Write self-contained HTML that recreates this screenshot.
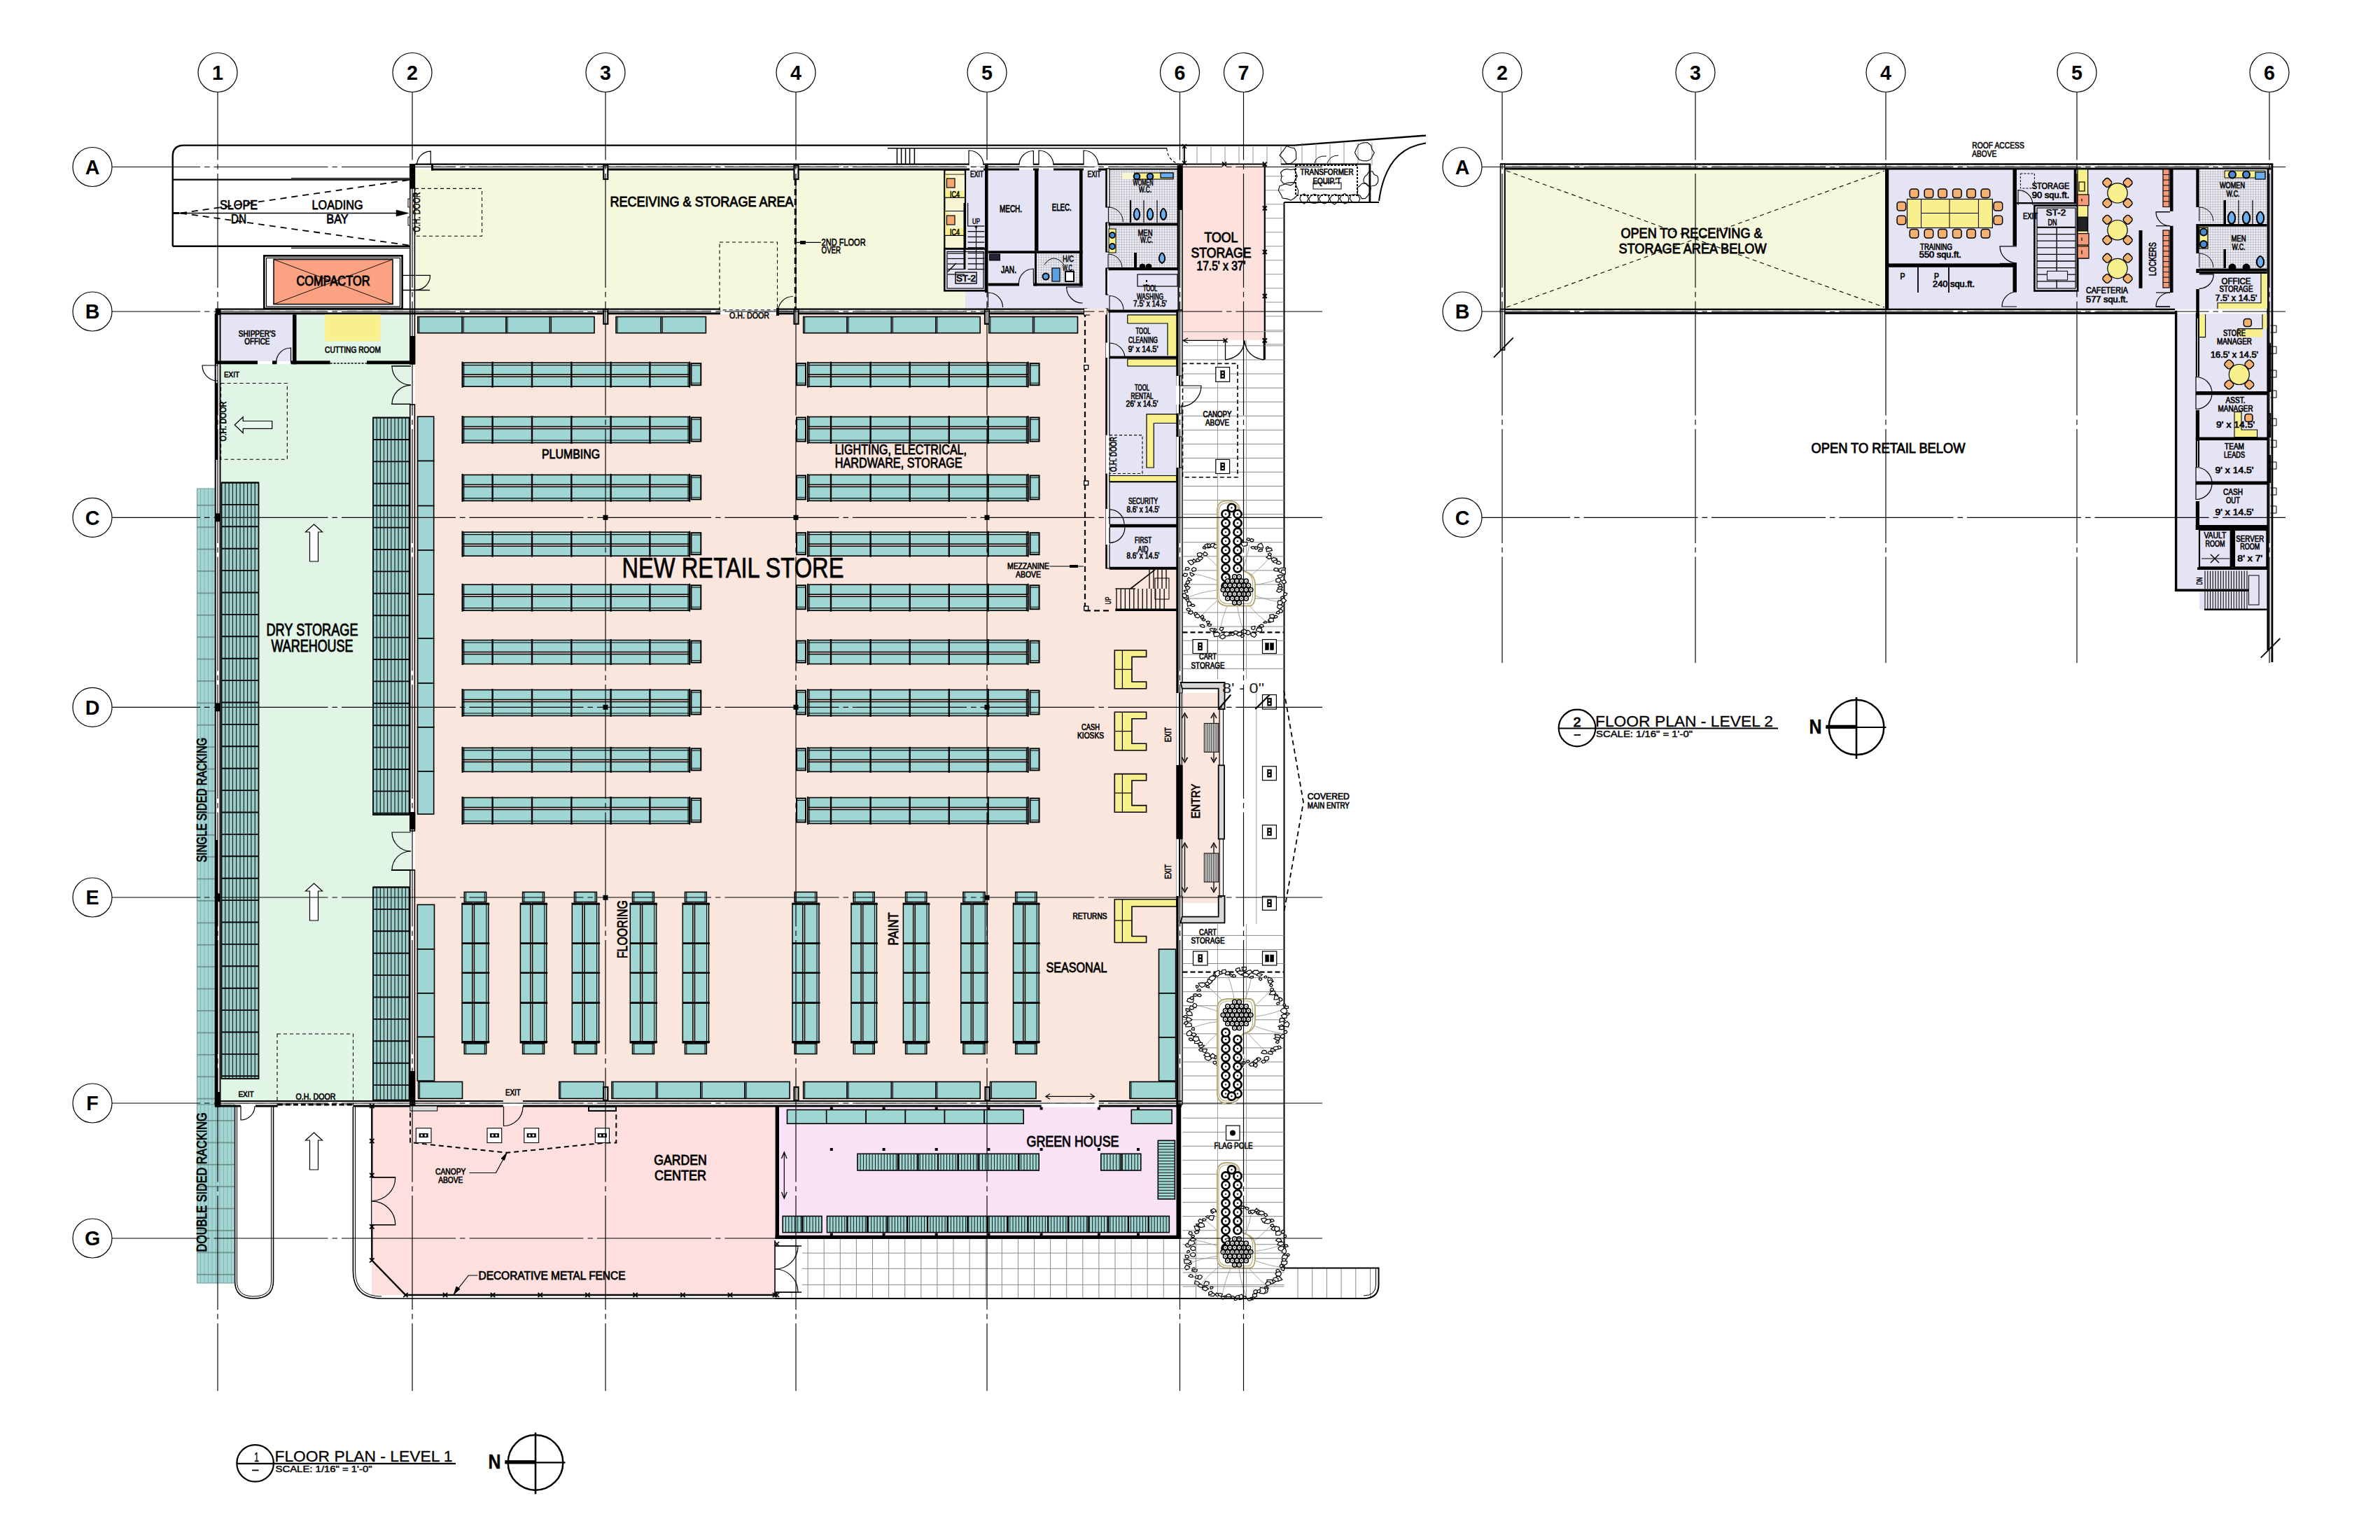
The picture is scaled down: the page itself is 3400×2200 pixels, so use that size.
<!DOCTYPE html>
<html><head><meta charset="utf-8"><style>
html,body{margin:0;padding:0;background:#fff;width:3400px;height:2200px;overflow:hidden}
svg{display:block}
text{font-family:"Liberation Sans",sans-serif}
</style></head><body>
<svg width="3400" height="2200" viewBox="0 0 3400 2200">
<rect width="3400" height="2200" fill="#fff"/>
<rect x="593" y="242" width="815" height="199" fill="#f6f8de" stroke="none" stroke-width="0" />
<rect x="593" y="449" width="1090" height="1125" fill="#fbe6dd" stroke="none" stroke-width="0" />
<rect x="314" y="520" width="273" height="1054" fill="#e0f5e6" stroke="none" stroke-width="0" />
<rect x="423" y="449" width="164" height="71" fill="#e0f5e6" stroke="none" stroke-width="0" />
<rect x="315" y="449" width="104" height="67" fill="#e4e4f4" stroke="none" stroke-width="0" />
<rect x="1349" y="242" width="30" height="113" fill="#f8f6d2" stroke="none" stroke-width="0" />
<rect x="1379" y="242" width="304" height="201" fill="#e4e4f4" stroke="none" stroke-width="0" />
<rect x="1349" y="357" width="59" height="58" fill="#e4e4f4" stroke="none" stroke-width="0" />
<rect x="1585" y="443" width="98" height="369" fill="#e4e4f4" stroke="none" stroke-width="0" />
<rect x="1690" y="237" width="116" height="249" fill="#fde1dc" stroke="none" stroke-width="0" />
<rect x="531" y="1580" width="577" height="270" fill="#fde0de" stroke="none" stroke-width="0" />
<rect x="1112" y="1582" width="572" height="184" fill="#f9e1f6" stroke="none" stroke-width="0" />
<rect x="1689" y="990" width="56" height="300" fill="#fbe6dd" stroke="none" stroke-width="0" />
<path d="M246.7,351.7 L246.7,223.5 Q246.7,207.6 262.5,207.6 L1849,207.6 L2037,193.6" fill="none" stroke="#000" stroke-width="2.4" />
<path d="M2037,204.5 Q1985,212 1970,287 L1834.5,289 L1834.5,1812 L1969,1812 L1969,1840 Q1969,1856 1953,1856 L552,1856" fill="none" stroke="#000" stroke-width="0" />
<line x1="1268" y1="211.8" x2="1667" y2="211.8" stroke="#000" stroke-width="1.6"/>
<line x1="1281.5" y1="211.8" x2="1281.5" y2="234" stroke="#000" stroke-width="1.5"/>
<line x1="1287.6" y1="211.8" x2="1287.6" y2="234" stroke="#000" stroke-width="1.5"/>
<line x1="1293.6" y1="211.8" x2="1293.6" y2="234" stroke="#000" stroke-width="1.5"/>
<line x1="1299.6" y1="211.8" x2="1299.6" y2="234" stroke="#000" stroke-width="1.5"/>
<line x1="1306.4" y1="211.8" x2="1306.4" y2="234" stroke="#000" stroke-width="1.5"/>
<line x1="246.7" y1="256.6" x2="585" y2="256.6" stroke="#000" stroke-width="2.4"/>
<line x1="246.7" y1="351.7" x2="585" y2="351.7" stroke="#000" stroke-width="2.6"/>
<line x1="416" y1="254.5" x2="585" y2="254.5" stroke="#000" stroke-width="1.2"/>
<line x1="416" y1="354.3" x2="585" y2="354.3" stroke="#000" stroke-width="1.2"/>
<line x1="246.7" y1="304.5" x2="566" y2="304.5" stroke="#000" stroke-width="1.3"/>
<path d="M566,300 L584,304.5 L566,309 Z" fill="#000" stroke="#000" stroke-width="0.5" />
<rect x="246.7" y="303" width="9.3" height="3" fill="#000"/>
<line x1="258" y1="304.5" x2="585" y2="257" stroke="#000" stroke-width="1.8" stroke-dasharray="9 7"/>
<line x1="258" y1="304.5" x2="585" y2="350.5" stroke="#000" stroke-width="1.8" stroke-dasharray="9 7"/>
<text x="341" y="298.8" font-size="18.4" text-anchor="middle" font-weight="normal" fill="#000" stroke="#000" stroke-width="0.75" textLength="54" lengthAdjust="spacingAndGlyphs">SLOPE</text>
<text x="341" y="319" font-size="18.4" text-anchor="middle" font-weight="normal" fill="#000" stroke="#000" stroke-width="0.75" textLength="22" lengthAdjust="spacingAndGlyphs">DN</text>
<text x="482" y="298.8" font-size="18.4" text-anchor="middle" font-weight="normal" fill="#000" stroke="#000" stroke-width="0.75" textLength="73" lengthAdjust="spacingAndGlyphs">LOADING</text>
<text x="482" y="319" font-size="18.4" text-anchor="middle" font-weight="normal" fill="#000" stroke="#000" stroke-width="0.75" textLength="31.5" lengthAdjust="spacingAndGlyphs">BAY</text>
<rect x="583" y="284" width="4" height="12" fill="#fff" stroke="#000" stroke-width="1" />
<rect x="583" y="310" width="4" height="12" fill="#fff" stroke="#000" stroke-width="1" />
<rect x="377.3" y="365.4" width="197.3" height="75.4" fill="#fff" stroke="#000" stroke-width="2.6" />
<rect x="380.5" y="368.5" width="191" height="69.5" fill="none" stroke="#000" stroke-width="1.2" />
<rect x="391" y="370.6" width="170" height="64" fill="#fba282" stroke="#000" stroke-width="1.5" />
<line x1="391" y1="370.6" x2="561" y2="434.6" stroke="#000" stroke-width="0.9"/>
<line x1="391" y1="434.6" x2="561" y2="370.6" stroke="#000" stroke-width="0.9"/>
<text x="476" y="407.5" font-size="19.6" text-anchor="middle" font-weight="normal" fill="#000" stroke="#000" stroke-width="1.05" textLength="105" lengthAdjust="spacingAndGlyphs">COMPACTOR</text>
<rect x="585" y="234" width="8.2" height="35" fill="#000"/>
<rect x="585.8" y="269" width="6.6" height="251" fill="#fff" stroke="#000" stroke-width="1.6" />
<rect x="585.8" y="578" width="6.6" height="609" fill="#fff" stroke="#000" stroke-width="1.6" />
<rect x="585.8" y="1243" width="6.6" height="335" fill="#fff" stroke="#000" stroke-width="1.6" />
<rect x="585" y="480" width="8.2" height="40" fill="#000"/>
<rect x="585" y="1160" width="8.2" height="25" fill="#000"/>
<rect x="585" y="1530" width="8.2" height="50" fill="#000"/>
<line x1="593" y1="234.7" x2="1349" y2="234.7" stroke="#000" stroke-width="2.2"/>
<rect x="616" y="240.5" width="769" height="3" fill="#000"/>
<line x1="616" y1="237.8" x2="1680" y2="237.8" stroke="#999" stroke-width="0.8" stroke-dasharray="14 8"/>
<rect x="616" y="234" width="3" height="9.5" fill="#000"/>
<rect x="1405" y="240.5" width="51" height="3" fill="#000"/>
<rect x="1476" y="240.5" width="8" height="3" fill="#000"/>
<rect x="1505" y="240.5" width="43" height="3" fill="#000"/>
<rect x="1569" y="240.5" width="119" height="3" fill="#000"/>
<line x1="1349" y1="234.7" x2="1384" y2="234.7" stroke="#000" stroke-width="2.2"/>
<line x1="1405" y1="234.7" x2="1456" y2="234.7" stroke="#000" stroke-width="2.2"/>
<line x1="1476" y1="234.7" x2="1484" y2="234.7" stroke="#000" stroke-width="2.2"/>
<line x1="1505" y1="234.7" x2="1548" y2="234.7" stroke="#000" stroke-width="2.2"/>
<line x1="1569" y1="234.7" x2="1690" y2="234.7" stroke="#000" stroke-width="2.2"/>
<rect x="862.3" y="236" width="6" height="20" fill="#fff" stroke="#000" stroke-width="2.2" />
<rect x="1134.5" y="236" width="6" height="20" fill="#fff" stroke="#000" stroke-width="2.2" />
<line x1="307.7" y1="441.6" x2="1029" y2="441.6" stroke="#000" stroke-width="2.4"/>
<line x1="1111" y1="441.6" x2="1553" y2="441.6" stroke="#000" stroke-width="2.4"/>
<rect x="307.7" y="446.4" width="721.3" height="2.9" fill="#000"/>
<rect x="1111" y="446.4" width="442" height="2.9" fill="#000"/>
<rect x="1549" y="442" width="7" height="7.5" fill="#fff" stroke="#000" stroke-width="2.2" />
<line x1="320" y1="444" x2="1549" y2="444" stroke="#999" stroke-width="0.8" stroke-dasharray="14 8"/>
<rect x="307.7" y="441" width="7.9" height="8.3" fill="#000"/>
<rect x="862.3" y="442" width="6" height="20.7" fill="#fff" stroke="#000" stroke-width="2.2" />
<rect x="1134.5" y="442" width="6" height="20.7" fill="#fff" stroke="#000" stroke-width="2.2" />
<rect x="1407" y="442" width="6" height="20.7" fill="#fff" stroke="#000" stroke-width="2.2" />
<text x="1070.5" y="454.5" font-size="12.6" text-anchor="middle" font-weight="normal" fill="#000" stroke="#000" stroke-width="0.60" textLength="57" lengthAdjust="spacingAndGlyphs">O.H. DOOR</text>
<rect x="1109" y="440" width="4" height="11" fill="#000"/>
<path d="M1132.7,444.5 L1111.7,444.5 A21,21 0 0 1 1132.7,423.5" fill="none" stroke="#000" stroke-width="1.2" />
<path d="M615.3,235.9 L615.3,216.1 A19.8,19.8 0 0 0 595.5,235.9" fill="none" stroke="#000" stroke-width="1.2" />
<path d="M593.5,393.4 L614.5,393.4 A21,21 0 0 1 593.5,414.4" fill="none" stroke="#000" stroke-width="1.2" />
<line x1="574.6" y1="393.4" x2="593" y2="393.4" stroke="#000" stroke-width="1.3"/>
<line x1="574.6" y1="414.5" x2="614" y2="414.5" stroke="#000" stroke-width="1.5"/>
<text transform="translate(600.3,303) rotate(-90)" x="0" y="0" font-size="14.8" text-anchor="middle" font-weight="normal" fill="#000" stroke="#000" stroke-width="0.60" textLength="57" lengthAdjust="spacingAndGlyphs">O.H. DOOR</text>
<rect x="593" y="269.4" width="95.5" height="67.9" fill="none" stroke="#000" stroke-width="1.1" stroke-dasharray="5 4"/>
<text x="1002.5" y="294.5" font-size="20.3" text-anchor="middle" font-weight="normal" fill="#000" stroke="#000" stroke-width="0.90" textLength="262" lengthAdjust="spacingAndGlyphs">RECEIVING &amp; STORAGE AREA</text>
<line x1="1136.4" y1="256" x2="1136.4" y2="441" stroke="#000" stroke-width="3.2" stroke-dasharray="9 5"/>
<line x1="1138" y1="346.4" x2="1172.7" y2="346.4" stroke="#000" stroke-width="1.2"/>
<rect x="1143" y="344" width="8" height="5" fill="#000"/>
<text x="1173.6" y="351" font-size="14.0" text-anchor="start" font-weight="normal" fill="#000" stroke="#000" stroke-width="0.60" textLength="63" lengthAdjust="spacingAndGlyphs">2ND  FLOOR</text>
<text x="1173.6" y="362.4" font-size="14.0" text-anchor="start" font-weight="normal" fill="#000" stroke="#000" stroke-width="0.60" textLength="27.5" lengthAdjust="spacingAndGlyphs">OVER</text>
<rect x="1028" y="346" width="82.5" height="96.7" fill="none" stroke="#000" stroke-width="1.1" stroke-dasharray="5 4"/>
<rect x="1349.3" y="242.6" width="29.7" height="112.4" fill="none" stroke="#000" stroke-width="2.2" />
<rect x="1350.5" y="248.7" width="27.5" height="33.3" fill="#f7f08c" stroke="none" stroke-width="0" />
<rect x="1355" y="248.7" width="23" height="24.3" fill="#f8f6d2" stroke="none" stroke-width="0" />
<rect x="1350.5" y="301" width="27.5" height="35.4" fill="#f7f08c" stroke="none" stroke-width="0" />
<rect x="1355" y="301" width="23" height="25" fill="#f8f6d2" stroke="none" stroke-width="0" />
<rect x="1350.5" y="248.7" width="27.5" height="0.8" fill="#000"/>
<rect x="1350.5" y="301" width="27.5" height="1" fill="#000"/>
<rect x="1352.5" y="255" width="11.5" height="13" fill="#f4a870" stroke="#000" stroke-width="1.2" />
<rect x="1352.5" y="308" width="11.5" height="13" fill="#f4a870" stroke="#000" stroke-width="1.2" />
<text x="1364" y="282" font-size="12.6" text-anchor="middle" font-weight="normal" fill="#000" stroke="#000" stroke-width="0.60" textLength="14" lengthAdjust="spacingAndGlyphs">IC4</text>
<text x="1364" y="335.5" font-size="12.6" text-anchor="middle" font-weight="normal" fill="#000" stroke="#000" stroke-width="0.60" textLength="14" lengthAdjust="spacingAndGlyphs">IC4</text>
<line x1="1350" y1="282.3" x2="1378" y2="282.3" stroke="#000" stroke-width="1.2"/>
<line x1="1350" y1="336.4" x2="1378" y2="336.4" stroke="#000" stroke-width="1.2"/>
<rect x="1349.3" y="355.5" width="58.7" height="59.8" fill="#e4e4f4" stroke="#000" stroke-width="2.6" />
<rect x="1353" y="359.5" width="52" height="52.5" fill="none" stroke="#000" stroke-width="1.2" />
<line x1="1382.6" y1="323" x2="1406.3" y2="323" stroke="#000" stroke-width="1.3"/>
<line x1="1382.6" y1="330.7" x2="1406.3" y2="330.7" stroke="#000" stroke-width="1.3"/>
<line x1="1382.6" y1="338.4" x2="1406.3" y2="338.4" stroke="#000" stroke-width="1.3"/>
<line x1="1382.6" y1="346.1" x2="1406.3" y2="346.1" stroke="#000" stroke-width="1.3"/>
<line x1="1382.6" y1="353.8" x2="1406.3" y2="353.8" stroke="#000" stroke-width="1.3"/>
<line x1="1382.6" y1="361.5" x2="1406.3" y2="361.5" stroke="#000" stroke-width="1.3"/>
<line x1="1382.6" y1="369.2" x2="1406.3" y2="369.2" stroke="#000" stroke-width="1.3"/>
<line x1="1382.6" y1="376.9" x2="1406.3" y2="376.9" stroke="#000" stroke-width="1.3"/>
<line x1="1382.6" y1="384.6" x2="1406.3" y2="384.6" stroke="#000" stroke-width="1.3"/>
<line x1="1394.5" y1="324" x2="1394.5" y2="385" stroke="#000" stroke-width="1.2"/>
<circle cx="1394.5" cy="324" r="1.6" fill="#000" stroke="#000" stroke-width="0.5"/>
<line x1="1354" y1="362" x2="1378" y2="362" stroke="#000" stroke-width="1.2"/>
<line x1="1354" y1="369.5" x2="1378" y2="369.5" stroke="#000" stroke-width="1.2"/>
<line x1="1354" y1="377" x2="1378" y2="377" stroke="#000" stroke-width="1.2"/>
<line x1="1354" y1="384.5" x2="1378" y2="384.5" stroke="#000" stroke-width="1.2"/>
<line x1="1354" y1="392" x2="1378" y2="392" stroke="#000" stroke-width="1.2"/>
<line x1="1354" y1="388" x2="1366" y2="376" stroke="#000" stroke-width="1.4"/>
<line x1="1378" y1="290" x2="1378" y2="385" stroke="#000" stroke-width="3"/>
<line x1="1382.6" y1="290" x2="1382.6" y2="323" stroke="#000" stroke-width="1.2"/>
<rect x="1365" y="389" width="30" height="16" fill="none" stroke="#000" stroke-width="1.4" />
<text x="1380" y="402" font-size="13.3" text-anchor="middle" font-weight="normal" fill="#000" stroke="#000" stroke-width="0.75" textLength="28" lengthAdjust="spacingAndGlyphs">ST-2</text>
<text x="1394.5" y="320" font-size="10.1" text-anchor="middle" font-weight="normal" fill="#000" stroke="#000" stroke-width="0.45" textLength="11" lengthAdjust="spacingAndGlyphs">UP</text>
<text x="1395.5" y="253" font-size="11.9" text-anchor="middle" font-weight="normal" fill="#000" stroke="#000" stroke-width="0.60" textLength="19" lengthAdjust="spacingAndGlyphs">EXIT</text>
<rect x="1407" y="236" width="4.5" height="182" fill="#000"/>
<rect x="1411.5" y="242.6" width="66.5" height="115.7" fill="none" stroke="#000" stroke-width="0" />
<rect x="1478" y="242.6" width="5.4" height="115.7" fill="#000"/>
<rect x="1542" y="242.6" width="4.6" height="165.9" fill="#000"/>
<rect x="1411.5" y="358.3" width="135.1" height="3.7" fill="#000"/>
<rect x="1478" y="362" width="3" height="46.5" fill="#000"/>
<rect x="1411.5" y="404.5" width="44.5" height="4" fill="#000"/>
<rect x="1476" y="404.5" width="70.6" height="4" fill="#000"/>
<text x="1444" y="303" font-size="14.0" text-anchor="middle" font-weight="normal" fill="#000" stroke="#000" stroke-width="0.75" textLength="32" lengthAdjust="spacingAndGlyphs">MECH.</text>
<text x="1516.7" y="300.5" font-size="14.0" text-anchor="middle" font-weight="normal" fill="#000" stroke="#000" stroke-width="0.75" textLength="28" lengthAdjust="spacingAndGlyphs">ELEC.</text>
<text x="1441" y="390" font-size="14.0" text-anchor="middle" font-weight="normal" fill="#000" stroke="#000" stroke-width="0.75" textLength="22" lengthAdjust="spacingAndGlyphs">JAN.</text>
<rect x="1482" y="362" width="60" height="42.5" fill="#d0d0d8" stroke="none" stroke-width="0" />
<pattern id="tile" width="3.6" height="3.6" patternUnits="userSpaceOnUse"><rect width="3.6" height="3.6" fill="#eeeef6"/><path d="M0,0 H3.6 M0,0 V3.6" stroke="#8a8a95" stroke-width="0.8"/></pattern>
<rect x="1482" y="362" width="60" height="42.5" fill="url(#tile)" stroke="none" stroke-width="0" />
<rect x="1413.5" y="363" width="15" height="9" fill="#223" stroke="#000" stroke-width="1" />
<path d="M1476.4,405 L1476.4,384 A21,21 0 0 0 1455.4,405" fill="none" stroke="#000" stroke-width="1.2" />
<path d="M1411.5,439 L1411.5,418 A21,21 0 0 1 1432.5,439" fill="none" stroke="#000" stroke-width="1.2" />
<path d="M1546.6,410 L1523.6,410 A23,23 0 0 0 1546.6,433" fill="none" stroke="#000" stroke-width="1.2" />
<path d="M1384,236 L1384,215 A21,21 0 0 1 1405,236" fill="none" stroke="#000" stroke-width="1.2" />
<path d="M1476.4,236 L1476.4,215.5 A20.5,20.5 0 0 0 1455.9,236" fill="none" stroke="#000" stroke-width="1.2" />
<path d="M1484,236 L1484,215 A21,21 0 0 1 1505,236" fill="none" stroke="#000" stroke-width="1.2" />
<path d="M1548,236 L1548,215 A21,21 0 0 1 1569,236" fill="none" stroke="#000" stroke-width="1.2" />
<circle cx="1494" cy="395" r="4.5" fill="#5aa0e0" stroke="#000" stroke-width="2"/>
<rect x="1503" y="383" width="11" height="19" fill="#5aa0e0" stroke="#000" stroke-width="1.2" />
<rect x="1522" y="388" width="12" height="14" fill="#fff" stroke="#000" stroke-width="2" />
<path d="M1492,378 Q1505,360 1520,378" fill="none" stroke="#000" stroke-width="1" />
<text x="1526" y="374" font-size="12.6" text-anchor="middle" font-weight="normal" fill="#000" stroke="#000" stroke-width="0.60" textLength="16" lengthAdjust="spacingAndGlyphs">H/C</text>
<text x="1526" y="387" font-size="12.6" text-anchor="middle" font-weight="normal" fill="#000" stroke="#000" stroke-width="0.60" textLength="16" lengthAdjust="spacingAndGlyphs">W.C.</text>
<text x="1563" y="253" font-size="11.9" text-anchor="middle" font-weight="normal" fill="#000" stroke="#000" stroke-width="0.60" textLength="19" lengthAdjust="spacingAndGlyphs">EXIT</text>
<rect x="1583.4" y="242.6" width="99" height="77.2" fill="url(#tile)" stroke="none" stroke-width="0" />
<rect x="1583.4" y="322.4" width="99" height="59.6" fill="url(#tile)" stroke="none" stroke-width="0" />
<rect x="1580" y="241" width="5" height="55" fill="#fff" stroke="#000" stroke-width="1.2" />
<rect x="1579.5" y="241" width="2.3" height="55" fill="#000"/>
<rect x="1580" y="318" width="5" height="42" fill="#fff" stroke="#000" stroke-width="1.2" />
<rect x="1579.5" y="318" width="2.3" height="42" fill="#000"/>
<rect x="1580" y="383" width="5" height="38" fill="#fff" stroke="#000" stroke-width="1.2" />
<rect x="1579.5" y="383" width="2.3" height="38" fill="#000"/>
<rect x="1580" y="441" width="5" height="2" fill="#fff" stroke="#000" stroke-width="1.2" />
<rect x="1579.5" y="441" width="2.3" height="2" fill="#000"/>
<rect x="1583.4" y="318.5" width="99" height="3.9" fill="#000"/>
<rect x="1583.4" y="382" width="99" height="4.4" fill="#000"/>
<rect x="1682.4" y="237" width="6.6" height="206" fill="#e8e8e8" stroke="#000" stroke-width="1.6" />
<rect x="1682.4" y="237" width="2.1" height="206" fill="#000"/>
<rect x="1682.4" y="237" width="6.6" height="63" fill="#000"/>
<rect x="1620" y="247" width="56" height="9" fill="#f7f08c" stroke="#000" stroke-width="1" />
<rect x="1603" y="247" width="17" height="9" fill="#f8f6d2" stroke="none" stroke-width="0" />
<rect x="1658" y="247" width="18" height="7" fill="#6ab0f0" stroke="#000" stroke-width="1.2" />
<circle cx="1624" cy="252" r="4.3" fill="#4a8ad0" stroke="#000" stroke-width="2"/>
<circle cx="1643" cy="252" r="4.3" fill="#4a8ad0" stroke="#000" stroke-width="2"/>
<path d="M1620,304 Q1624,292 1628,304 Q1629,312 1624,314 Q1619,312 1620,304 Z" fill="#6ab0f0" stroke="#000" stroke-width="2" />
<path d="M1639,304 Q1643,292 1647,304 Q1648,312 1643,314 Q1638,312 1639,304 Z" fill="#6ab0f0" stroke="#000" stroke-width="2" />
<path d="M1658,304 Q1662,292 1666,304 Q1667,312 1662,314 Q1657,312 1658,304 Z" fill="#6ab0f0" stroke="#000" stroke-width="2" />
<line x1="1615" y1="286" x2="1615" y2="318" stroke="#000" stroke-width="2.2"/>
<line x1="1634" y1="286" x2="1634" y2="318" stroke="#000" stroke-width="1.2"/>
<line x1="1653" y1="286" x2="1653" y2="318" stroke="#000" stroke-width="1.2"/>
<path d="M1583.4,317 L1583.4,296 A21,21 0 0 1 1604.4,317" fill="none" stroke="#000" stroke-width="1" />
<rect x="1584" y="327" width="10" height="34" fill="#f7f08c" stroke="#000" stroke-width="1" />
<circle cx="1589" cy="336" r="4" fill="#4a8ad0" stroke="#000" stroke-width="1.8"/>
<circle cx="1589" cy="352" r="4" fill="#4a8ad0" stroke="#000" stroke-width="1.8"/>
<path d="M1656,367 Q1660,356 1664,367 Q1665,374 1660,376 Q1655,374 1656,367 Z" fill="#6ab0f0" stroke="#000" stroke-width="2" />
<rect x="1620" y="361" width="4" height="21" fill="#000"/>
<circle cx="1632" cy="381" r="4" fill="#000" stroke="#000" stroke-width="1"/>
<circle cx="1641" cy="381" r="4" fill="#000" stroke="#000" stroke-width="1"/>
<path d="M1583,383 L1583,363 A20,20 0 0 1 1603,383" fill="none" stroke="#000" stroke-width="1" />
<text x="1633" y="265" font-size="11.9" text-anchor="middle" font-weight="normal" fill="#000" stroke="#000" stroke-width="0.60" textLength="29" lengthAdjust="spacingAndGlyphs">WOMEN</text>
<text x="1636" y="275" font-size="11.9" text-anchor="middle" font-weight="normal" fill="#000" stroke="#000" stroke-width="0.60" textLength="18" lengthAdjust="spacingAndGlyphs">W.C.</text>
<text x="1636" y="336.5" font-size="11.9" text-anchor="middle" font-weight="normal" fill="#000" stroke="#000" stroke-width="0.60" textLength="21" lengthAdjust="spacingAndGlyphs">MEN</text>
<text x="1638" y="346.5" font-size="11.9" text-anchor="middle" font-weight="normal" fill="#000" stroke="#000" stroke-width="0.60" textLength="18" lengthAdjust="spacingAndGlyphs">W.C.</text>
<rect x="1583.4" y="386.4" width="99" height="56.1" fill="#e4e4f4" stroke="none" stroke-width="0" />
<rect x="1625" y="392" width="57" height="17" fill="none" stroke="#000" stroke-width="1.2" />
<rect x="1637" y="400" width="2" height="3" fill="#000"/>
<rect x="1637" y="406" width="2" height="2" fill="#000"/>
<text x="1643" y="416" font-size="11.9" text-anchor="middle" font-weight="normal" fill="#000" stroke="#000" stroke-width="0.60" textLength="20" lengthAdjust="spacingAndGlyphs">TOOL</text>
<text x="1643" y="428" font-size="11.9" text-anchor="middle" font-weight="normal" fill="#000" stroke="#000" stroke-width="0.60" textLength="38" lengthAdjust="spacingAndGlyphs">WASHING</text>
<text x="1643" y="438" font-size="11.9" text-anchor="middle" font-weight="normal" fill="#000" stroke="#000" stroke-width="0.60" textLength="48" lengthAdjust="spacingAndGlyphs">7.5' x 14.5'</text>
<path d="M1585,442.5 L1585,422.5 A20,20 0 0 1 1605,442.5" fill="none" stroke="#000" stroke-width="1.1" />
<line x1="1690" y1="234.5" x2="1808" y2="234.5" stroke="#000" stroke-width="2"/>
<line x1="1806.8" y1="234.5" x2="1806.8" y2="514" stroke="#000" stroke-width="2.2"/>
<text x="1744.5" y="346.4" font-size="20.3" text-anchor="middle" font-weight="normal" fill="#000" stroke="#000" stroke-width="0.90" textLength="48" lengthAdjust="spacingAndGlyphs">TOOL</text>
<text x="1744.5" y="368.2" font-size="20.3" text-anchor="middle" font-weight="normal" fill="#000" stroke="#000" stroke-width="0.90" textLength="86" lengthAdjust="spacingAndGlyphs">STORAGE</text>
<text x="1744.5" y="386.4" font-size="17.7" text-anchor="middle" font-weight="normal" fill="#000" stroke="#000" stroke-width="0.90" textLength="70" lengthAdjust="spacingAndGlyphs">17.5' x 37'</text>
<line x1="1746" y1="231.5" x2="1752" y2="237.5" stroke="#000" stroke-width="1.8"/>
<line x1="1746" y1="237.5" x2="1752" y2="231.5" stroke="#000" stroke-width="1.8"/>
<line x1="1803.8" y1="231.5" x2="1809.8" y2="237.5" stroke="#000" stroke-width="1.8"/>
<line x1="1803.8" y1="237.5" x2="1809.8" y2="231.5" stroke="#000" stroke-width="1.8"/>
<line x1="1803.8" y1="294.5" x2="1809.8" y2="300.5" stroke="#000" stroke-width="1.8"/>
<line x1="1803.8" y1="300.5" x2="1809.8" y2="294.5" stroke="#000" stroke-width="1.8"/>
<line x1="1803.8" y1="357" x2="1809.8" y2="363" stroke="#000" stroke-width="1.8"/>
<line x1="1803.8" y1="363" x2="1809.8" y2="357" stroke="#000" stroke-width="1.8"/>
<line x1="1803.8" y1="420" x2="1809.8" y2="426" stroke="#000" stroke-width="1.8"/>
<line x1="1803.8" y1="426" x2="1809.8" y2="420" stroke="#000" stroke-width="1.8"/>
<line x1="1803.8" y1="483.4" x2="1809.8" y2="489.4" stroke="#000" stroke-width="1.8"/>
<line x1="1803.8" y1="489.4" x2="1809.8" y2="483.4" stroke="#000" stroke-width="1.8"/>
<line x1="1690" y1="208" x2="1690" y2="234.5" stroke="#777" stroke-width="0.8"/>
<line x1="1710" y1="208" x2="1710" y2="234.5" stroke="#777" stroke-width="0.8"/>
<line x1="1730" y1="208" x2="1730" y2="234.5" stroke="#777" stroke-width="0.8"/>
<line x1="1750" y1="208" x2="1750" y2="234.5" stroke="#777" stroke-width="0.8"/>
<line x1="1770" y1="208" x2="1770" y2="234.5" stroke="#777" stroke-width="0.8"/>
<line x1="1790" y1="208" x2="1790" y2="234.5" stroke="#777" stroke-width="0.8"/>
<line x1="1810" y1="208" x2="1810" y2="234.5" stroke="#777" stroke-width="0.8"/>
<line x1="1830" y1="208" x2="1830" y2="234.5" stroke="#777" stroke-width="0.8"/>
<line x1="1860" y1="204" x2="1860" y2="236" stroke="#777" stroke-width="0.8"/>
<line x1="1880" y1="204" x2="1880" y2="236" stroke="#777" stroke-width="0.8"/>
<line x1="1900" y1="204" x2="1900" y2="236" stroke="#777" stroke-width="0.8"/>
<line x1="1920" y1="204" x2="1920" y2="236" stroke="#777" stroke-width="0.8"/>
<line x1="1940" y1="204" x2="1940" y2="236" stroke="#777" stroke-width="0.8"/>
<line x1="1960" y1="204" x2="1960" y2="236" stroke="#777" stroke-width="0.8"/>
<line x1="1834.5" y1="289" x2="1834.5" y2="1812" stroke="#000" stroke-width="2"/>
<line x1="1834.5" y1="289" x2="1970" y2="289" stroke="#000" stroke-width="2"/>
<path d="M2037,204.5 Q1980,212 1970,287" fill="none" stroke="#000" stroke-width="2" />
<line x1="1808" y1="251.8" x2="1834.5" y2="251.8" stroke="#777" stroke-width="0.8"/>
<line x1="1808" y1="271.8" x2="1834.5" y2="271.8" stroke="#777" stroke-width="0.8"/>
<line x1="1808" y1="291.8" x2="1834.5" y2="291.8" stroke="#777" stroke-width="0.8"/>
<line x1="1808" y1="311.8" x2="1834.5" y2="311.8" stroke="#777" stroke-width="0.8"/>
<line x1="1808" y1="331.8" x2="1834.5" y2="331.8" stroke="#777" stroke-width="0.8"/>
<line x1="1808" y1="351.8" x2="1834.5" y2="351.8" stroke="#777" stroke-width="0.8"/>
<line x1="1808" y1="371.8" x2="1834.5" y2="371.8" stroke="#777" stroke-width="0.8"/>
<line x1="1808" y1="391.8" x2="1834.5" y2="391.8" stroke="#777" stroke-width="0.8"/>
<line x1="1808" y1="411.8" x2="1834.5" y2="411.8" stroke="#777" stroke-width="0.8"/>
<line x1="1808" y1="431.8" x2="1834.5" y2="431.8" stroke="#777" stroke-width="0.8"/>
<line x1="1808" y1="451.8" x2="1834.5" y2="451.8" stroke="#777" stroke-width="0.8"/>
<line x1="1808" y1="471.8" x2="1834.5" y2="471.8" stroke="#777" stroke-width="0.8"/>
<line x1="1808" y1="491.8" x2="1834.5" y2="491.8" stroke="#777" stroke-width="0.8"/>
<rect x="1851" y="236" width="88" height="43" fill="none" stroke="#000" stroke-width="2" stroke-dasharray="3 2"/>
<rect x="1876" y="261" width="40" height="9" fill="none" stroke="#000" stroke-width="1" />
<text x="1895.5" y="250" font-size="11.9" text-anchor="middle" font-weight="normal" fill="#000" stroke="#000" stroke-width="0.68" textLength="76" lengthAdjust="spacingAndGlyphs">TRANSFORMER</text>
<text x="1895.5" y="262.7" font-size="11.9" text-anchor="middle" font-weight="normal" fill="#000" stroke="#000" stroke-width="0.68" textLength="40" lengthAdjust="spacingAndGlyphs">EQUIP.'T</text>
<line x1="1830" y1="234.5" x2="1958" y2="234.5" stroke="#000" stroke-width="2.2"/>
<rect x="1955.5" y="234.5" width="2.8" height="54.5" fill="#000"/>
<path d="M1878,233 Q1880,222 1895,223 M1896,233 Q1900,222 1912,222" fill="none" stroke="#000" stroke-width="1" />
<path d="M1851.6,222.0 L1851.7,227.2 L1848.0,230.7 L1843.7,233.8 L1838.3,233.9 L1834.8,229.7 L1832.3,226.2 L1827.9,222.0 L1831.4,217.4 L1834.4,213.7 L1837.9,208.6 L1843.6,210.7 L1849.2,211.7 L1851.5,217.0 Z" fill="none" stroke="#000" stroke-width="1.1" />
<path d="M1853.3,252.0 L1850.2,256.4 L1848.6,261.6 L1843.9,264.9 L1838.4,263.5 L1833.1,261.9 L1829.8,257.4 L1831.1,252.0 L1829.5,246.5 L1833.5,242.6 L1838.6,241.4 L1843.2,242.5 L1849.3,241.7 L1851.4,247.0 Z" fill="none" stroke="#000" stroke-width="1.1" />
<path d="M1854.7,272.0 L1854.0,278.2 L1849.5,282.7 L1844.2,286.2 L1838.3,283.9 L1832.2,283.0 L1829.8,277.4 L1826.3,272.0 L1828.0,265.8 L1834.2,263.5 L1838.5,261.3 L1843.5,260.9 L1850.2,260.4 L1852.2,266.6 Z" fill="none" stroke="#000" stroke-width="1.1" />
<path d="M1963.3,218.0 L1960.6,223.1 L1957.9,227.9 L1952.7,229.9 L1947.3,229.7 L1941.9,228.2 L1938.2,223.7 L1935.5,218.0 L1937.8,212.1 L1940.9,206.6 L1946.8,204.1 L1953.3,203.5 L1958.4,207.5 L1960.0,213.2 Z" fill="none" stroke="#000" stroke-width="1.1" />
<path d="M1969.0,256.0 L1968.2,260.9 L1965.0,264.7 L1960.2,265.7 L1955.7,266.2 L1952.6,262.8 L1948.2,260.7 L1948.0,256.0 L1949.9,252.1 L1952.9,249.6 L1955.6,245.3 L1960.6,244.8 L1963.2,249.5 L1967.7,251.3 Z" fill="none" stroke="#000" stroke-width="1.1" />
<path d="M1957.4,273.0 L1955.7,276.7 L1953.6,280.1 L1950.4,283.4 L1945.5,283.8 L1942.9,279.4 L1938.9,277.4 L1939.8,273.0 L1938.5,268.4 L1942.3,265.8 L1945.5,262.2 L1950.5,261.9 L1954.1,265.4 L1958.4,268.0 Z" fill="none" stroke="#000" stroke-width="1.1" />
<path d="M1869.4,284.0 L1867.1,288.1 L1863.0,291.1 L1859.0,288.0 L1856.9,284.0 L1858.3,279.3 L1863.0,276.9 L1867.2,279.8 Z" fill="none" stroke="#000" stroke-width="1.1" />
<path d="M1883.2,284.0 L1883.0,289.5 L1877.5,290.4 L1871.9,289.6 L1869.7,284.0 L1872.9,279.4 L1877.5,277.3 L1882.4,279.1 Z" fill="none" stroke="#000" stroke-width="1.1" />
<path d="M1899.2,284.0 L1897.0,289.0 L1892.0,291.0 L1887.0,289.0 L1884.1,284.0 L1887.2,279.2 L1892.0,277.3 L1897.2,278.8 Z" fill="none" stroke="#000" stroke-width="1.1" />
<path d="M1912.7,284.0 L1911.0,288.5 L1906.5,292.0 L1901.6,288.9 L1899.6,284.0 L1902.5,280.0 L1906.5,277.4 L1911.5,279.0 Z" fill="none" stroke="#000" stroke-width="1.1" />
<path d="M1926.6,284.0 L1926.0,289.0 L1921.0,291.1 L1916.9,288.1 L1913.9,284.0 L1916.2,279.2 L1921.0,276.7 L1925.6,279.4 Z" fill="none" stroke="#000" stroke-width="1.1" />
<path d="M1942.8,284.0 L1940.7,289.2 L1935.5,289.7 L1931.4,288.1 L1928.2,284.0 L1929.9,278.4 L1935.5,277.8 L1940.3,279.2 Z" fill="none" stroke="#000" stroke-width="1.1" />
<path d="M1667,212 A23,23 0 0 0 1690,235" fill="none" stroke="#000" stroke-width="1.1" stroke-dasharray="4 3"/>
<line x1="1692" y1="208" x2="1692" y2="235" stroke="#000" stroke-width="1.8"/>
<line x1="1689" y1="206" x2="1695" y2="212" stroke="#000" stroke-width="1.5"/>
<line x1="1689" y1="212" x2="1695" y2="206" stroke="#000" stroke-width="1.5"/>
<line x1="1689" y1="230" x2="1695" y2="236" stroke="#000" stroke-width="1.5"/>
<line x1="1689" y1="236" x2="1695" y2="230" stroke="#000" stroke-width="1.5"/>
<rect x="660.6" y="518.2" width="324.6" height="17" fill="#9fd5d2" stroke="#000" stroke-width="1.6" />
<rect x="660.6" y="538.2" width="324.6" height="14" fill="#9fd5d2" stroke="#000" stroke-width="1.6" />
<line x1="660.6" y1="521.7" x2="985.2" y2="521.7" stroke="#000" stroke-width="1.2"/>
<line x1="662.8" y1="518.2" x2="662.8" y2="552.2" stroke="#000" stroke-width="1.1"/>
<line x1="983" y1="518.2" x2="983" y2="552.2" stroke="#000" stroke-width="1.1"/>
<line x1="703.6" y1="516.7" x2="703.6" y2="553.7" stroke="#000" stroke-width="2.4"/>
<line x1="760" y1="516.7" x2="760" y2="553.7" stroke="#000" stroke-width="2.4"/>
<line x1="816.3" y1="516.7" x2="816.3" y2="553.7" stroke="#000" stroke-width="2.4"/>
<line x1="872.6" y1="516.7" x2="872.6" y2="553.7" stroke="#000" stroke-width="2.4"/>
<line x1="928.4" y1="516.7" x2="928.4" y2="553.7" stroke="#000" stroke-width="2.4"/>
<line x1="660.6" y1="516.7" x2="660.6" y2="553.7" stroke="#000" stroke-width="2"/>
<line x1="985.2" y1="516.7" x2="985.2" y2="553.7" stroke="#000" stroke-width="2"/>
<rect x="987.4" y="519.2" width="13.9" height="31" fill="#9fd5d2" stroke="#000" stroke-width="2" />
<line x1="987.4" y1="522.2" x2="1001.3" y2="522.2" stroke="#000" stroke-width="1"/>
<line x1="987.4" y1="547.2" x2="1001.3" y2="547.2" stroke="#000" stroke-width="1"/>
<rect x="1154" y="518.2" width="314.6" height="17" fill="#9fd5d2" stroke="#000" stroke-width="1.6" />
<rect x="1154" y="538.2" width="314.6" height="14" fill="#9fd5d2" stroke="#000" stroke-width="1.6" />
<line x1="1154" y1="521.7" x2="1468.6" y2="521.7" stroke="#000" stroke-width="1.2"/>
<line x1="1156.2" y1="518.2" x2="1156.2" y2="552.2" stroke="#000" stroke-width="1.1"/>
<line x1="1466.4" y1="518.2" x2="1466.4" y2="552.2" stroke="#000" stroke-width="1.1"/>
<line x1="1187" y1="516.7" x2="1187" y2="553.7" stroke="#000" stroke-width="2.4"/>
<line x1="1243.6" y1="516.7" x2="1243.6" y2="553.7" stroke="#000" stroke-width="2.4"/>
<line x1="1299.7" y1="516.7" x2="1299.7" y2="553.7" stroke="#000" stroke-width="2.4"/>
<line x1="1355.8" y1="516.7" x2="1355.8" y2="553.7" stroke="#000" stroke-width="2.4"/>
<line x1="1411.6" y1="516.7" x2="1411.6" y2="553.7" stroke="#000" stroke-width="2.4"/>
<line x1="1154" y1="516.7" x2="1154" y2="553.7" stroke="#000" stroke-width="2"/>
<line x1="1468.6" y1="516.7" x2="1468.6" y2="553.7" stroke="#000" stroke-width="2"/>
<rect x="1471.5" y="519.2" width="13.1" height="31" fill="#9fd5d2" stroke="#000" stroke-width="2" />
<line x1="1471.5" y1="522.2" x2="1484.6" y2="522.2" stroke="#000" stroke-width="1"/>
<line x1="1471.5" y1="547.2" x2="1484.6" y2="547.2" stroke="#000" stroke-width="1"/>
<rect x="1138" y="519.2" width="13" height="31" fill="#9fd5d2" stroke="#000" stroke-width="2" />
<line x1="1138" y1="522.2" x2="1151" y2="522.2" stroke="#000" stroke-width="1"/>
<line x1="1138" y1="547.2" x2="1151" y2="547.2" stroke="#000" stroke-width="1"/>
<rect x="660.6" y="595.5" width="324.6" height="14" fill="#9fd5d2" stroke="#000" stroke-width="1.6" />
<rect x="660.6" y="612.5" width="324.6" height="20" fill="#9fd5d2" stroke="#000" stroke-width="1.6" />
<line x1="660.6" y1="629" x2="985.2" y2="629" stroke="#000" stroke-width="1.2"/>
<line x1="662.8" y1="595.5" x2="662.8" y2="632.5" stroke="#000" stroke-width="1.1"/>
<line x1="983" y1="595.5" x2="983" y2="632.5" stroke="#000" stroke-width="1.1"/>
<line x1="703.6" y1="594" x2="703.6" y2="634" stroke="#000" stroke-width="2.4"/>
<line x1="760" y1="594" x2="760" y2="634" stroke="#000" stroke-width="2.4"/>
<line x1="816.3" y1="594" x2="816.3" y2="634" stroke="#000" stroke-width="2.4"/>
<line x1="872.6" y1="594" x2="872.6" y2="634" stroke="#000" stroke-width="2.4"/>
<line x1="928.4" y1="594" x2="928.4" y2="634" stroke="#000" stroke-width="2.4"/>
<line x1="660.6" y1="594" x2="660.6" y2="634" stroke="#000" stroke-width="2"/>
<line x1="985.2" y1="594" x2="985.2" y2="634" stroke="#000" stroke-width="2"/>
<rect x="987.4" y="596.5" width="13.9" height="34" fill="#9fd5d2" stroke="#000" stroke-width="2" />
<line x1="987.4" y1="599.5" x2="1001.3" y2="599.5" stroke="#000" stroke-width="1"/>
<line x1="987.4" y1="627.5" x2="1001.3" y2="627.5" stroke="#000" stroke-width="1"/>
<rect x="1154" y="595.5" width="314.6" height="14" fill="#9fd5d2" stroke="#000" stroke-width="1.6" />
<rect x="1154" y="612.5" width="314.6" height="20" fill="#9fd5d2" stroke="#000" stroke-width="1.6" />
<line x1="1154" y1="629" x2="1468.6" y2="629" stroke="#000" stroke-width="1.2"/>
<line x1="1156.2" y1="595.5" x2="1156.2" y2="632.5" stroke="#000" stroke-width="1.1"/>
<line x1="1466.4" y1="595.5" x2="1466.4" y2="632.5" stroke="#000" stroke-width="1.1"/>
<line x1="1187" y1="594" x2="1187" y2="634" stroke="#000" stroke-width="2.4"/>
<line x1="1243.6" y1="594" x2="1243.6" y2="634" stroke="#000" stroke-width="2.4"/>
<line x1="1299.7" y1="594" x2="1299.7" y2="634" stroke="#000" stroke-width="2.4"/>
<line x1="1355.8" y1="594" x2="1355.8" y2="634" stroke="#000" stroke-width="2.4"/>
<line x1="1411.6" y1="594" x2="1411.6" y2="634" stroke="#000" stroke-width="2.4"/>
<line x1="1154" y1="594" x2="1154" y2="634" stroke="#000" stroke-width="2"/>
<line x1="1468.6" y1="594" x2="1468.6" y2="634" stroke="#000" stroke-width="2"/>
<rect x="1471.5" y="596.5" width="13.1" height="34" fill="#9fd5d2" stroke="#000" stroke-width="2" />
<line x1="1471.5" y1="599.5" x2="1484.6" y2="599.5" stroke="#000" stroke-width="1"/>
<line x1="1471.5" y1="627.5" x2="1484.6" y2="627.5" stroke="#000" stroke-width="1"/>
<rect x="1138" y="596.5" width="13" height="34" fill="#9fd5d2" stroke="#000" stroke-width="2" />
<line x1="1138" y1="599.5" x2="1151" y2="599.5" stroke="#000" stroke-width="1"/>
<line x1="1138" y1="627.5" x2="1151" y2="627.5" stroke="#000" stroke-width="1"/>
<rect x="660.6" y="678.4" width="324.6" height="14" fill="#9fd5d2" stroke="#000" stroke-width="1.6" />
<rect x="660.6" y="695.4" width="324.6" height="20" fill="#9fd5d2" stroke="#000" stroke-width="1.6" />
<line x1="660.6" y1="711.9" x2="985.2" y2="711.9" stroke="#000" stroke-width="1.2"/>
<line x1="662.8" y1="678.4" x2="662.8" y2="715.4" stroke="#000" stroke-width="1.1"/>
<line x1="983" y1="678.4" x2="983" y2="715.4" stroke="#000" stroke-width="1.1"/>
<line x1="703.6" y1="676.9" x2="703.6" y2="716.9" stroke="#000" stroke-width="2.4"/>
<line x1="760" y1="676.9" x2="760" y2="716.9" stroke="#000" stroke-width="2.4"/>
<line x1="816.3" y1="676.9" x2="816.3" y2="716.9" stroke="#000" stroke-width="2.4"/>
<line x1="872.6" y1="676.9" x2="872.6" y2="716.9" stroke="#000" stroke-width="2.4"/>
<line x1="928.4" y1="676.9" x2="928.4" y2="716.9" stroke="#000" stroke-width="2.4"/>
<line x1="660.6" y1="676.9" x2="660.6" y2="716.9" stroke="#000" stroke-width="2"/>
<line x1="985.2" y1="676.9" x2="985.2" y2="716.9" stroke="#000" stroke-width="2"/>
<rect x="987.4" y="679.4" width="13.9" height="34" fill="#9fd5d2" stroke="#000" stroke-width="2" />
<line x1="987.4" y1="682.4" x2="1001.3" y2="682.4" stroke="#000" stroke-width="1"/>
<line x1="987.4" y1="710.4" x2="1001.3" y2="710.4" stroke="#000" stroke-width="1"/>
<rect x="1154" y="678.4" width="314.6" height="14" fill="#9fd5d2" stroke="#000" stroke-width="1.6" />
<rect x="1154" y="695.4" width="314.6" height="20" fill="#9fd5d2" stroke="#000" stroke-width="1.6" />
<line x1="1154" y1="711.9" x2="1468.6" y2="711.9" stroke="#000" stroke-width="1.2"/>
<line x1="1156.2" y1="678.4" x2="1156.2" y2="715.4" stroke="#000" stroke-width="1.1"/>
<line x1="1466.4" y1="678.4" x2="1466.4" y2="715.4" stroke="#000" stroke-width="1.1"/>
<line x1="1187" y1="676.9" x2="1187" y2="716.9" stroke="#000" stroke-width="2.4"/>
<line x1="1243.6" y1="676.9" x2="1243.6" y2="716.9" stroke="#000" stroke-width="2.4"/>
<line x1="1299.7" y1="676.9" x2="1299.7" y2="716.9" stroke="#000" stroke-width="2.4"/>
<line x1="1355.8" y1="676.9" x2="1355.8" y2="716.9" stroke="#000" stroke-width="2.4"/>
<line x1="1411.6" y1="676.9" x2="1411.6" y2="716.9" stroke="#000" stroke-width="2.4"/>
<line x1="1154" y1="676.9" x2="1154" y2="716.9" stroke="#000" stroke-width="2"/>
<line x1="1468.6" y1="676.9" x2="1468.6" y2="716.9" stroke="#000" stroke-width="2"/>
<rect x="1471.5" y="679.4" width="13.1" height="34" fill="#9fd5d2" stroke="#000" stroke-width="2" />
<line x1="1471.5" y1="682.4" x2="1484.6" y2="682.4" stroke="#000" stroke-width="1"/>
<line x1="1471.5" y1="710.4" x2="1484.6" y2="710.4" stroke="#000" stroke-width="1"/>
<rect x="1138" y="679.4" width="13" height="34" fill="#9fd5d2" stroke="#000" stroke-width="2" />
<line x1="1138" y1="682.4" x2="1151" y2="682.4" stroke="#000" stroke-width="1"/>
<line x1="1138" y1="710.4" x2="1151" y2="710.4" stroke="#000" stroke-width="1"/>
<rect x="660.6" y="760.2" width="324.6" height="17" fill="#9fd5d2" stroke="#000" stroke-width="1.6" />
<rect x="660.6" y="780.2" width="324.6" height="14" fill="#9fd5d2" stroke="#000" stroke-width="1.6" />
<line x1="660.6" y1="763.7" x2="985.2" y2="763.7" stroke="#000" stroke-width="1.2"/>
<line x1="662.8" y1="760.2" x2="662.8" y2="794.2" stroke="#000" stroke-width="1.1"/>
<line x1="983" y1="760.2" x2="983" y2="794.2" stroke="#000" stroke-width="1.1"/>
<line x1="703.6" y1="758.7" x2="703.6" y2="795.7" stroke="#000" stroke-width="2.4"/>
<line x1="760" y1="758.7" x2="760" y2="795.7" stroke="#000" stroke-width="2.4"/>
<line x1="816.3" y1="758.7" x2="816.3" y2="795.7" stroke="#000" stroke-width="2.4"/>
<line x1="872.6" y1="758.7" x2="872.6" y2="795.7" stroke="#000" stroke-width="2.4"/>
<line x1="928.4" y1="758.7" x2="928.4" y2="795.7" stroke="#000" stroke-width="2.4"/>
<line x1="660.6" y1="758.7" x2="660.6" y2="795.7" stroke="#000" stroke-width="2"/>
<line x1="985.2" y1="758.7" x2="985.2" y2="795.7" stroke="#000" stroke-width="2"/>
<rect x="987.4" y="761.2" width="13.9" height="31" fill="#9fd5d2" stroke="#000" stroke-width="2" />
<line x1="987.4" y1="764.2" x2="1001.3" y2="764.2" stroke="#000" stroke-width="1"/>
<line x1="987.4" y1="789.2" x2="1001.3" y2="789.2" stroke="#000" stroke-width="1"/>
<rect x="1154" y="760.2" width="314.6" height="17" fill="#9fd5d2" stroke="#000" stroke-width="1.6" />
<rect x="1154" y="780.2" width="314.6" height="14" fill="#9fd5d2" stroke="#000" stroke-width="1.6" />
<line x1="1154" y1="763.7" x2="1468.6" y2="763.7" stroke="#000" stroke-width="1.2"/>
<line x1="1156.2" y1="760.2" x2="1156.2" y2="794.2" stroke="#000" stroke-width="1.1"/>
<line x1="1466.4" y1="760.2" x2="1466.4" y2="794.2" stroke="#000" stroke-width="1.1"/>
<line x1="1187" y1="758.7" x2="1187" y2="795.7" stroke="#000" stroke-width="2.4"/>
<line x1="1243.6" y1="758.7" x2="1243.6" y2="795.7" stroke="#000" stroke-width="2.4"/>
<line x1="1299.7" y1="758.7" x2="1299.7" y2="795.7" stroke="#000" stroke-width="2.4"/>
<line x1="1355.8" y1="758.7" x2="1355.8" y2="795.7" stroke="#000" stroke-width="2.4"/>
<line x1="1411.6" y1="758.7" x2="1411.6" y2="795.7" stroke="#000" stroke-width="2.4"/>
<line x1="1154" y1="758.7" x2="1154" y2="795.7" stroke="#000" stroke-width="2"/>
<line x1="1468.6" y1="758.7" x2="1468.6" y2="795.7" stroke="#000" stroke-width="2"/>
<rect x="1471.5" y="761.2" width="13.1" height="31" fill="#9fd5d2" stroke="#000" stroke-width="2" />
<line x1="1471.5" y1="764.2" x2="1484.6" y2="764.2" stroke="#000" stroke-width="1"/>
<line x1="1471.5" y1="789.2" x2="1484.6" y2="789.2" stroke="#000" stroke-width="1"/>
<rect x="1138" y="761.2" width="13" height="31" fill="#9fd5d2" stroke="#000" stroke-width="2" />
<line x1="1138" y1="764.2" x2="1151" y2="764.2" stroke="#000" stroke-width="1"/>
<line x1="1138" y1="789.2" x2="1151" y2="789.2" stroke="#000" stroke-width="1"/>
<rect x="660.6" y="835.2" width="324.6" height="14" fill="#9fd5d2" stroke="#000" stroke-width="1.6" />
<rect x="660.6" y="852.2" width="324.6" height="20" fill="#9fd5d2" stroke="#000" stroke-width="1.6" />
<line x1="660.6" y1="868.7" x2="985.2" y2="868.7" stroke="#000" stroke-width="1.2"/>
<line x1="662.8" y1="835.2" x2="662.8" y2="872.2" stroke="#000" stroke-width="1.1"/>
<line x1="983" y1="835.2" x2="983" y2="872.2" stroke="#000" stroke-width="1.1"/>
<line x1="703.6" y1="833.7" x2="703.6" y2="873.7" stroke="#000" stroke-width="2.4"/>
<line x1="760" y1="833.7" x2="760" y2="873.7" stroke="#000" stroke-width="2.4"/>
<line x1="816.3" y1="833.7" x2="816.3" y2="873.7" stroke="#000" stroke-width="2.4"/>
<line x1="872.6" y1="833.7" x2="872.6" y2="873.7" stroke="#000" stroke-width="2.4"/>
<line x1="928.4" y1="833.7" x2="928.4" y2="873.7" stroke="#000" stroke-width="2.4"/>
<line x1="660.6" y1="833.7" x2="660.6" y2="873.7" stroke="#000" stroke-width="2"/>
<line x1="985.2" y1="833.7" x2="985.2" y2="873.7" stroke="#000" stroke-width="2"/>
<rect x="987.4" y="836.2" width="13.9" height="34" fill="#9fd5d2" stroke="#000" stroke-width="2" />
<line x1="987.4" y1="839.2" x2="1001.3" y2="839.2" stroke="#000" stroke-width="1"/>
<line x1="987.4" y1="867.2" x2="1001.3" y2="867.2" stroke="#000" stroke-width="1"/>
<rect x="1154" y="835.2" width="314.6" height="14" fill="#9fd5d2" stroke="#000" stroke-width="1.6" />
<rect x="1154" y="852.2" width="314.6" height="20" fill="#9fd5d2" stroke="#000" stroke-width="1.6" />
<line x1="1154" y1="868.7" x2="1468.6" y2="868.7" stroke="#000" stroke-width="1.2"/>
<line x1="1156.2" y1="835.2" x2="1156.2" y2="872.2" stroke="#000" stroke-width="1.1"/>
<line x1="1466.4" y1="835.2" x2="1466.4" y2="872.2" stroke="#000" stroke-width="1.1"/>
<line x1="1187" y1="833.7" x2="1187" y2="873.7" stroke="#000" stroke-width="2.4"/>
<line x1="1243.6" y1="833.7" x2="1243.6" y2="873.7" stroke="#000" stroke-width="2.4"/>
<line x1="1299.7" y1="833.7" x2="1299.7" y2="873.7" stroke="#000" stroke-width="2.4"/>
<line x1="1355.8" y1="833.7" x2="1355.8" y2="873.7" stroke="#000" stroke-width="2.4"/>
<line x1="1411.6" y1="833.7" x2="1411.6" y2="873.7" stroke="#000" stroke-width="2.4"/>
<line x1="1154" y1="833.7" x2="1154" y2="873.7" stroke="#000" stroke-width="2"/>
<line x1="1468.6" y1="833.7" x2="1468.6" y2="873.7" stroke="#000" stroke-width="2"/>
<rect x="1471.5" y="836.2" width="13.1" height="34" fill="#9fd5d2" stroke="#000" stroke-width="2" />
<line x1="1471.5" y1="839.2" x2="1484.6" y2="839.2" stroke="#000" stroke-width="1"/>
<line x1="1471.5" y1="867.2" x2="1484.6" y2="867.2" stroke="#000" stroke-width="1"/>
<rect x="1138" y="836.2" width="13" height="34" fill="#9fd5d2" stroke="#000" stroke-width="2" />
<line x1="1138" y1="839.2" x2="1151" y2="839.2" stroke="#000" stroke-width="1"/>
<line x1="1138" y1="867.2" x2="1151" y2="867.2" stroke="#000" stroke-width="1"/>
<rect x="660.6" y="914.5" width="324.6" height="17" fill="#9fd5d2" stroke="#000" stroke-width="1.6" />
<rect x="660.6" y="934.5" width="324.6" height="14" fill="#9fd5d2" stroke="#000" stroke-width="1.6" />
<line x1="660.6" y1="918" x2="985.2" y2="918" stroke="#000" stroke-width="1.2"/>
<line x1="662.8" y1="914.5" x2="662.8" y2="948.5" stroke="#000" stroke-width="1.1"/>
<line x1="983" y1="914.5" x2="983" y2="948.5" stroke="#000" stroke-width="1.1"/>
<line x1="703.6" y1="913" x2="703.6" y2="950" stroke="#000" stroke-width="2.4"/>
<line x1="760" y1="913" x2="760" y2="950" stroke="#000" stroke-width="2.4"/>
<line x1="816.3" y1="913" x2="816.3" y2="950" stroke="#000" stroke-width="2.4"/>
<line x1="872.6" y1="913" x2="872.6" y2="950" stroke="#000" stroke-width="2.4"/>
<line x1="928.4" y1="913" x2="928.4" y2="950" stroke="#000" stroke-width="2.4"/>
<line x1="660.6" y1="913" x2="660.6" y2="950" stroke="#000" stroke-width="2"/>
<line x1="985.2" y1="913" x2="985.2" y2="950" stroke="#000" stroke-width="2"/>
<rect x="987.4" y="915.5" width="13.9" height="31" fill="#9fd5d2" stroke="#000" stroke-width="2" />
<line x1="987.4" y1="918.5" x2="1001.3" y2="918.5" stroke="#000" stroke-width="1"/>
<line x1="987.4" y1="943.5" x2="1001.3" y2="943.5" stroke="#000" stroke-width="1"/>
<rect x="1154" y="914.5" width="314.6" height="17" fill="#9fd5d2" stroke="#000" stroke-width="1.6" />
<rect x="1154" y="934.5" width="314.6" height="14" fill="#9fd5d2" stroke="#000" stroke-width="1.6" />
<line x1="1154" y1="918" x2="1468.6" y2="918" stroke="#000" stroke-width="1.2"/>
<line x1="1156.2" y1="914.5" x2="1156.2" y2="948.5" stroke="#000" stroke-width="1.1"/>
<line x1="1466.4" y1="914.5" x2="1466.4" y2="948.5" stroke="#000" stroke-width="1.1"/>
<line x1="1187" y1="913" x2="1187" y2="950" stroke="#000" stroke-width="2.4"/>
<line x1="1243.6" y1="913" x2="1243.6" y2="950" stroke="#000" stroke-width="2.4"/>
<line x1="1299.7" y1="913" x2="1299.7" y2="950" stroke="#000" stroke-width="2.4"/>
<line x1="1355.8" y1="913" x2="1355.8" y2="950" stroke="#000" stroke-width="2.4"/>
<line x1="1411.6" y1="913" x2="1411.6" y2="950" stroke="#000" stroke-width="2.4"/>
<line x1="1154" y1="913" x2="1154" y2="950" stroke="#000" stroke-width="2"/>
<line x1="1468.6" y1="913" x2="1468.6" y2="950" stroke="#000" stroke-width="2"/>
<rect x="1471.5" y="915.5" width="13.1" height="31" fill="#9fd5d2" stroke="#000" stroke-width="2" />
<line x1="1471.5" y1="918.5" x2="1484.6" y2="918.5" stroke="#000" stroke-width="1"/>
<line x1="1471.5" y1="943.5" x2="1484.6" y2="943.5" stroke="#000" stroke-width="1"/>
<rect x="1138" y="915.5" width="13" height="31" fill="#9fd5d2" stroke="#000" stroke-width="2" />
<line x1="1138" y1="918.5" x2="1151" y2="918.5" stroke="#000" stroke-width="1"/>
<line x1="1138" y1="943.5" x2="1151" y2="943.5" stroke="#000" stroke-width="1"/>
<rect x="660.6" y="985.5" width="324.6" height="14" fill="#9fd5d2" stroke="#000" stroke-width="1.6" />
<rect x="660.6" y="1002.5" width="324.6" height="20" fill="#9fd5d2" stroke="#000" stroke-width="1.6" />
<line x1="660.6" y1="1019" x2="985.2" y2="1019" stroke="#000" stroke-width="1.2"/>
<line x1="662.8" y1="985.5" x2="662.8" y2="1022.5" stroke="#000" stroke-width="1.1"/>
<line x1="983" y1="985.5" x2="983" y2="1022.5" stroke="#000" stroke-width="1.1"/>
<line x1="703.6" y1="984" x2="703.6" y2="1024" stroke="#000" stroke-width="2.4"/>
<line x1="760" y1="984" x2="760" y2="1024" stroke="#000" stroke-width="2.4"/>
<line x1="816.3" y1="984" x2="816.3" y2="1024" stroke="#000" stroke-width="2.4"/>
<line x1="872.6" y1="984" x2="872.6" y2="1024" stroke="#000" stroke-width="2.4"/>
<line x1="928.4" y1="984" x2="928.4" y2="1024" stroke="#000" stroke-width="2.4"/>
<line x1="660.6" y1="984" x2="660.6" y2="1024" stroke="#000" stroke-width="2"/>
<line x1="985.2" y1="984" x2="985.2" y2="1024" stroke="#000" stroke-width="2"/>
<rect x="987.4" y="986.5" width="13.9" height="34" fill="#9fd5d2" stroke="#000" stroke-width="2" />
<line x1="987.4" y1="989.5" x2="1001.3" y2="989.5" stroke="#000" stroke-width="1"/>
<line x1="987.4" y1="1017.5" x2="1001.3" y2="1017.5" stroke="#000" stroke-width="1"/>
<rect x="1154" y="985.5" width="314.6" height="14" fill="#9fd5d2" stroke="#000" stroke-width="1.6" />
<rect x="1154" y="1002.5" width="314.6" height="20" fill="#9fd5d2" stroke="#000" stroke-width="1.6" />
<line x1="1154" y1="1019" x2="1468.6" y2="1019" stroke="#000" stroke-width="1.2"/>
<line x1="1156.2" y1="985.5" x2="1156.2" y2="1022.5" stroke="#000" stroke-width="1.1"/>
<line x1="1466.4" y1="985.5" x2="1466.4" y2="1022.5" stroke="#000" stroke-width="1.1"/>
<line x1="1187" y1="984" x2="1187" y2="1024" stroke="#000" stroke-width="2.4"/>
<line x1="1243.6" y1="984" x2="1243.6" y2="1024" stroke="#000" stroke-width="2.4"/>
<line x1="1299.7" y1="984" x2="1299.7" y2="1024" stroke="#000" stroke-width="2.4"/>
<line x1="1355.8" y1="984" x2="1355.8" y2="1024" stroke="#000" stroke-width="2.4"/>
<line x1="1411.6" y1="984" x2="1411.6" y2="1024" stroke="#000" stroke-width="2.4"/>
<line x1="1154" y1="984" x2="1154" y2="1024" stroke="#000" stroke-width="2"/>
<line x1="1468.6" y1="984" x2="1468.6" y2="1024" stroke="#000" stroke-width="2"/>
<rect x="1471.5" y="986.5" width="13.1" height="34" fill="#9fd5d2" stroke="#000" stroke-width="2" />
<line x1="1471.5" y1="989.5" x2="1484.6" y2="989.5" stroke="#000" stroke-width="1"/>
<line x1="1471.5" y1="1017.5" x2="1484.6" y2="1017.5" stroke="#000" stroke-width="1"/>
<rect x="1138" y="986.5" width="13" height="34" fill="#9fd5d2" stroke="#000" stroke-width="2" />
<line x1="1138" y1="989.5" x2="1151" y2="989.5" stroke="#000" stroke-width="1"/>
<line x1="1138" y1="1017.5" x2="1151" y2="1017.5" stroke="#000" stroke-width="1"/>
<rect x="660.6" y="1068.4" width="324.6" height="17" fill="#9fd5d2" stroke="#000" stroke-width="1.6" />
<rect x="660.6" y="1088.4" width="324.6" height="14" fill="#9fd5d2" stroke="#000" stroke-width="1.6" />
<line x1="660.6" y1="1071.9" x2="985.2" y2="1071.9" stroke="#000" stroke-width="1.2"/>
<line x1="662.8" y1="1068.4" x2="662.8" y2="1102.4" stroke="#000" stroke-width="1.1"/>
<line x1="983" y1="1068.4" x2="983" y2="1102.4" stroke="#000" stroke-width="1.1"/>
<line x1="703.6" y1="1066.9" x2="703.6" y2="1103.9" stroke="#000" stroke-width="2.4"/>
<line x1="760" y1="1066.9" x2="760" y2="1103.9" stroke="#000" stroke-width="2.4"/>
<line x1="816.3" y1="1066.9" x2="816.3" y2="1103.9" stroke="#000" stroke-width="2.4"/>
<line x1="872.6" y1="1066.9" x2="872.6" y2="1103.9" stroke="#000" stroke-width="2.4"/>
<line x1="928.4" y1="1066.9" x2="928.4" y2="1103.9" stroke="#000" stroke-width="2.4"/>
<line x1="660.6" y1="1066.9" x2="660.6" y2="1103.9" stroke="#000" stroke-width="2"/>
<line x1="985.2" y1="1066.9" x2="985.2" y2="1103.9" stroke="#000" stroke-width="2"/>
<rect x="987.4" y="1069.4" width="13.9" height="31" fill="#9fd5d2" stroke="#000" stroke-width="2" />
<line x1="987.4" y1="1072.4" x2="1001.3" y2="1072.4" stroke="#000" stroke-width="1"/>
<line x1="987.4" y1="1097.4" x2="1001.3" y2="1097.4" stroke="#000" stroke-width="1"/>
<rect x="1154" y="1068.4" width="314.6" height="17" fill="#9fd5d2" stroke="#000" stroke-width="1.6" />
<rect x="1154" y="1088.4" width="314.6" height="14" fill="#9fd5d2" stroke="#000" stroke-width="1.6" />
<line x1="1154" y1="1071.9" x2="1468.6" y2="1071.9" stroke="#000" stroke-width="1.2"/>
<line x1="1156.2" y1="1068.4" x2="1156.2" y2="1102.4" stroke="#000" stroke-width="1.1"/>
<line x1="1466.4" y1="1068.4" x2="1466.4" y2="1102.4" stroke="#000" stroke-width="1.1"/>
<line x1="1187" y1="1066.9" x2="1187" y2="1103.9" stroke="#000" stroke-width="2.4"/>
<line x1="1243.6" y1="1066.9" x2="1243.6" y2="1103.9" stroke="#000" stroke-width="2.4"/>
<line x1="1299.7" y1="1066.9" x2="1299.7" y2="1103.9" stroke="#000" stroke-width="2.4"/>
<line x1="1355.8" y1="1066.9" x2="1355.8" y2="1103.9" stroke="#000" stroke-width="2.4"/>
<line x1="1411.6" y1="1066.9" x2="1411.6" y2="1103.9" stroke="#000" stroke-width="2.4"/>
<line x1="1154" y1="1066.9" x2="1154" y2="1103.9" stroke="#000" stroke-width="2"/>
<line x1="1468.6" y1="1066.9" x2="1468.6" y2="1103.9" stroke="#000" stroke-width="2"/>
<rect x="1471.5" y="1069.4" width="13.1" height="31" fill="#9fd5d2" stroke="#000" stroke-width="2" />
<line x1="1471.5" y1="1072.4" x2="1484.6" y2="1072.4" stroke="#000" stroke-width="1"/>
<line x1="1471.5" y1="1097.4" x2="1484.6" y2="1097.4" stroke="#000" stroke-width="1"/>
<rect x="1138" y="1069.4" width="13" height="31" fill="#9fd5d2" stroke="#000" stroke-width="2" />
<line x1="1138" y1="1072.4" x2="1151" y2="1072.4" stroke="#000" stroke-width="1"/>
<line x1="1138" y1="1097.4" x2="1151" y2="1097.4" stroke="#000" stroke-width="1"/>
<rect x="660.6" y="1139.5" width="324.6" height="14" fill="#9fd5d2" stroke="#000" stroke-width="1.6" />
<rect x="660.6" y="1156.5" width="324.6" height="20" fill="#9fd5d2" stroke="#000" stroke-width="1.6" />
<line x1="660.6" y1="1173" x2="985.2" y2="1173" stroke="#000" stroke-width="1.2"/>
<line x1="662.8" y1="1139.5" x2="662.8" y2="1176.5" stroke="#000" stroke-width="1.1"/>
<line x1="983" y1="1139.5" x2="983" y2="1176.5" stroke="#000" stroke-width="1.1"/>
<line x1="703.6" y1="1138" x2="703.6" y2="1178" stroke="#000" stroke-width="2.4"/>
<line x1="760" y1="1138" x2="760" y2="1178" stroke="#000" stroke-width="2.4"/>
<line x1="816.3" y1="1138" x2="816.3" y2="1178" stroke="#000" stroke-width="2.4"/>
<line x1="872.6" y1="1138" x2="872.6" y2="1178" stroke="#000" stroke-width="2.4"/>
<line x1="928.4" y1="1138" x2="928.4" y2="1178" stroke="#000" stroke-width="2.4"/>
<line x1="660.6" y1="1138" x2="660.6" y2="1178" stroke="#000" stroke-width="2"/>
<line x1="985.2" y1="1138" x2="985.2" y2="1178" stroke="#000" stroke-width="2"/>
<rect x="987.4" y="1140.5" width="13.9" height="34" fill="#9fd5d2" stroke="#000" stroke-width="2" />
<line x1="987.4" y1="1143.5" x2="1001.3" y2="1143.5" stroke="#000" stroke-width="1"/>
<line x1="987.4" y1="1171.5" x2="1001.3" y2="1171.5" stroke="#000" stroke-width="1"/>
<rect x="1154" y="1139.5" width="314.6" height="14" fill="#9fd5d2" stroke="#000" stroke-width="1.6" />
<rect x="1154" y="1156.5" width="314.6" height="20" fill="#9fd5d2" stroke="#000" stroke-width="1.6" />
<line x1="1154" y1="1173" x2="1468.6" y2="1173" stroke="#000" stroke-width="1.2"/>
<line x1="1156.2" y1="1139.5" x2="1156.2" y2="1176.5" stroke="#000" stroke-width="1.1"/>
<line x1="1466.4" y1="1139.5" x2="1466.4" y2="1176.5" stroke="#000" stroke-width="1.1"/>
<line x1="1187" y1="1138" x2="1187" y2="1178" stroke="#000" stroke-width="2.4"/>
<line x1="1243.6" y1="1138" x2="1243.6" y2="1178" stroke="#000" stroke-width="2.4"/>
<line x1="1299.7" y1="1138" x2="1299.7" y2="1178" stroke="#000" stroke-width="2.4"/>
<line x1="1355.8" y1="1138" x2="1355.8" y2="1178" stroke="#000" stroke-width="2.4"/>
<line x1="1411.6" y1="1138" x2="1411.6" y2="1178" stroke="#000" stroke-width="2.4"/>
<line x1="1154" y1="1138" x2="1154" y2="1178" stroke="#000" stroke-width="2"/>
<line x1="1468.6" y1="1138" x2="1468.6" y2="1178" stroke="#000" stroke-width="2"/>
<rect x="1471.5" y="1140.5" width="13.1" height="34" fill="#9fd5d2" stroke="#000" stroke-width="2" />
<line x1="1471.5" y1="1143.5" x2="1484.6" y2="1143.5" stroke="#000" stroke-width="1"/>
<line x1="1471.5" y1="1171.5" x2="1484.6" y2="1171.5" stroke="#000" stroke-width="1"/>
<rect x="1138" y="1140.5" width="13" height="34" fill="#9fd5d2" stroke="#000" stroke-width="2" />
<line x1="1138" y1="1143.5" x2="1151" y2="1143.5" stroke="#000" stroke-width="1"/>
<line x1="1138" y1="1171.5" x2="1151" y2="1171.5" stroke="#000" stroke-width="1"/>
<rect x="596.8" y="452.5" width="63.5" height="23.2" fill="#9fd5d2" stroke="#000" stroke-width="1.6" />
<line x1="598.8" y1="452.5" x2="598.8" y2="475.7" stroke="#000" stroke-width="1"/>
<rect x="660.3" y="452.5" width="62.7" height="23.2" fill="#9fd5d2" stroke="#000" stroke-width="1.6" />
<line x1="662.3" y1="452.5" x2="662.3" y2="475.7" stroke="#000" stroke-width="1"/>
<rect x="723" y="452.5" width="62.6" height="23.2" fill="#9fd5d2" stroke="#000" stroke-width="1.6" />
<line x1="725" y1="452.5" x2="725" y2="475.7" stroke="#000" stroke-width="1"/>
<rect x="785.6" y="452.5" width="63.4" height="23.2" fill="#9fd5d2" stroke="#000" stroke-width="1.6" />
<line x1="787.6" y1="452.5" x2="787.6" y2="475.7" stroke="#000" stroke-width="1"/>
<rect x="880" y="452.5" width="64.4" height="23.2" fill="#9fd5d2" stroke="#000" stroke-width="1.6" />
<line x1="882" y1="452.5" x2="882" y2="475.7" stroke="#000" stroke-width="1"/>
<rect x="944.4" y="452.5" width="64" height="23.2" fill="#9fd5d2" stroke="#000" stroke-width="1.6" />
<line x1="946.4" y1="452.5" x2="946.4" y2="475.7" stroke="#000" stroke-width="1"/>
<rect x="1147.7" y="452.5" width="62.5" height="23.2" fill="#9fd5d2" stroke="#000" stroke-width="1.6" />
<line x1="1149.7" y1="452.5" x2="1149.7" y2="475.7" stroke="#000" stroke-width="1"/>
<rect x="1210.2" y="452.5" width="63.3" height="23.2" fill="#9fd5d2" stroke="#000" stroke-width="1.6" />
<line x1="1212.2" y1="452.5" x2="1212.2" y2="475.7" stroke="#000" stroke-width="1"/>
<rect x="1273.5" y="452.5" width="63.4" height="23.2" fill="#9fd5d2" stroke="#000" stroke-width="1.6" />
<line x1="1275.5" y1="452.5" x2="1275.5" y2="475.7" stroke="#000" stroke-width="1"/>
<rect x="1336.9" y="452.5" width="63.3" height="23.2" fill="#9fd5d2" stroke="#000" stroke-width="1.6" />
<line x1="1338.9" y1="452.5" x2="1338.9" y2="475.7" stroke="#000" stroke-width="1"/>
<rect x="1412.8" y="452.5" width="62.9" height="23.2" fill="#9fd5d2" stroke="#000" stroke-width="1.6" />
<line x1="1414.8" y1="452.5" x2="1414.8" y2="475.7" stroke="#000" stroke-width="1"/>
<rect x="1475.7" y="452.5" width="63.8" height="23.2" fill="#9fd5d2" stroke="#000" stroke-width="1.6" />
<line x1="1477.7" y1="452.5" x2="1477.7" y2="475.7" stroke="#000" stroke-width="1"/>
<rect x="596.6" y="595.2" width="23.1" height="63.3" fill="#9fd5d2" stroke="#000" stroke-width="1.6" />
<rect x="596.6" y="658.5" width="23.1" height="64.1" fill="#9fd5d2" stroke="#000" stroke-width="1.6" />
<rect x="596.6" y="722.6" width="23.1" height="63.4" fill="#9fd5d2" stroke="#000" stroke-width="1.6" />
<rect x="596.6" y="786" width="23.1" height="63" fill="#9fd5d2" stroke="#000" stroke-width="1.6" />
<rect x="596.6" y="849" width="23.1" height="63" fill="#9fd5d2" stroke="#000" stroke-width="1.6" />
<rect x="596.6" y="912" width="23.1" height="64" fill="#9fd5d2" stroke="#000" stroke-width="1.6" />
<rect x="596.6" y="976" width="23.1" height="63" fill="#9fd5d2" stroke="#000" stroke-width="1.6" />
<rect x="596.6" y="1039" width="23.1" height="63" fill="#9fd5d2" stroke="#000" stroke-width="1.6" />
<rect x="596.6" y="1102" width="23.1" height="61" fill="#9fd5d2" stroke="#000" stroke-width="1.6" />
<rect x="596.3" y="1292.4" width="24.2" height="63.6" fill="#9fd5d2" stroke="#000" stroke-width="1.6" />
<rect x="596.3" y="1356" width="24.2" height="63" fill="#9fd5d2" stroke="#000" stroke-width="1.6" />
<rect x="596.3" y="1419" width="24.2" height="62.4" fill="#9fd5d2" stroke="#000" stroke-width="1.6" />
<rect x="596.3" y="1481.4" width="24.2" height="62.6" fill="#9fd5d2" stroke="#000" stroke-width="1.6" />
<rect x="663.3" y="1274.4" width="31.3" height="14.2" fill="#9fd5d2" stroke="#000" stroke-width="1.6" />
<line x1="665.6" y1="1275" x2="665.6" y2="1288" stroke="#000" stroke-width="1"/>
<line x1="692.3" y1="1275" x2="692.3" y2="1288" stroke="#000" stroke-width="1"/>
<rect x="660.1" y="1290.3" width="14.7" height="199.5" fill="#9fd5d2" stroke="#000" stroke-width="1.5" />
<rect x="677.4" y="1290.3" width="20.4" height="199.5" fill="#9fd5d2" stroke="#000" stroke-width="1.5" />
<line x1="694.8" y1="1291" x2="694.8" y2="1489" stroke="#000" stroke-width="1"/>
<line x1="659.6" y1="1291.5" x2="699.3" y2="1291.5" stroke="#000" stroke-width="2.6"/>
<line x1="659.6" y1="1347.6" x2="699.3" y2="1347.6" stroke="#000" stroke-width="2.6"/>
<line x1="659.6" y1="1389.7" x2="699.3" y2="1389.7" stroke="#000" stroke-width="2.6"/>
<line x1="659.6" y1="1432.6" x2="699.3" y2="1432.6" stroke="#000" stroke-width="2.6"/>
<line x1="659.6" y1="1488.4" x2="699.3" y2="1488.4" stroke="#000" stroke-width="2.6"/>
<rect x="663.3" y="1491" width="31.3" height="14.6" fill="#9fd5d2" stroke="#000" stroke-width="1.6" />
<line x1="665.6" y1="1491" x2="665.6" y2="1505" stroke="#000" stroke-width="1"/>
<line x1="692.3" y1="1491" x2="692.3" y2="1505" stroke="#000" stroke-width="1"/>
<rect x="746.6" y="1274.4" width="30.9" height="14.2" fill="#9fd5d2" stroke="#000" stroke-width="1.6" />
<line x1="748.9" y1="1275" x2="748.9" y2="1288" stroke="#000" stroke-width="1"/>
<line x1="775.2" y1="1275" x2="775.2" y2="1288" stroke="#000" stroke-width="1"/>
<rect x="743.4" y="1290.3" width="14.5" height="199.5" fill="#9fd5d2" stroke="#000" stroke-width="1.5" />
<rect x="760.6" y="1290.3" width="20.1" height="199.5" fill="#9fd5d2" stroke="#000" stroke-width="1.5" />
<line x1="777.7" y1="1291" x2="777.7" y2="1489" stroke="#000" stroke-width="1"/>
<line x1="742.9" y1="1291.5" x2="782.2" y2="1291.5" stroke="#000" stroke-width="2.6"/>
<line x1="742.9" y1="1347.6" x2="782.2" y2="1347.6" stroke="#000" stroke-width="2.6"/>
<line x1="742.9" y1="1389.7" x2="782.2" y2="1389.7" stroke="#000" stroke-width="2.6"/>
<line x1="742.9" y1="1432.6" x2="782.2" y2="1432.6" stroke="#000" stroke-width="2.6"/>
<line x1="742.9" y1="1488.4" x2="782.2" y2="1488.4" stroke="#000" stroke-width="2.6"/>
<rect x="746.6" y="1491" width="30.9" height="14.6" fill="#9fd5d2" stroke="#000" stroke-width="1.6" />
<line x1="748.9" y1="1491" x2="748.9" y2="1505" stroke="#000" stroke-width="1"/>
<line x1="775.2" y1="1491" x2="775.2" y2="1505" stroke="#000" stroke-width="1"/>
<rect x="820.5" y="1274.4" width="31.9" height="14.2" fill="#9fd5d2" stroke="#000" stroke-width="1.6" />
<line x1="822.8" y1="1275" x2="822.8" y2="1288" stroke="#000" stroke-width="1"/>
<line x1="850.1" y1="1275" x2="850.1" y2="1288" stroke="#000" stroke-width="1"/>
<rect x="817.3" y="1290.3" width="14.9" height="199.5" fill="#9fd5d2" stroke="#000" stroke-width="1.5" />
<rect x="834.9" y="1290.3" width="20.7" height="199.5" fill="#9fd5d2" stroke="#000" stroke-width="1.5" />
<line x1="852.6" y1="1291" x2="852.6" y2="1489" stroke="#000" stroke-width="1"/>
<line x1="816.8" y1="1291.5" x2="857.1" y2="1291.5" stroke="#000" stroke-width="2.6"/>
<line x1="816.8" y1="1347.6" x2="857.1" y2="1347.6" stroke="#000" stroke-width="2.6"/>
<line x1="816.8" y1="1389.7" x2="857.1" y2="1389.7" stroke="#000" stroke-width="2.6"/>
<line x1="816.8" y1="1432.6" x2="857.1" y2="1432.6" stroke="#000" stroke-width="2.6"/>
<line x1="816.8" y1="1488.4" x2="857.1" y2="1488.4" stroke="#000" stroke-width="2.6"/>
<rect x="820.5" y="1491" width="31.9" height="14.6" fill="#9fd5d2" stroke="#000" stroke-width="1.6" />
<line x1="822.8" y1="1491" x2="822.8" y2="1505" stroke="#000" stroke-width="1"/>
<line x1="850.1" y1="1491" x2="850.1" y2="1505" stroke="#000" stroke-width="1"/>
<rect x="903.5" y="1274.4" width="30.9" height="14.2" fill="#9fd5d2" stroke="#000" stroke-width="1.6" />
<line x1="905.8" y1="1275" x2="905.8" y2="1288" stroke="#000" stroke-width="1"/>
<line x1="932.1" y1="1275" x2="932.1" y2="1288" stroke="#000" stroke-width="1"/>
<rect x="900.3" y="1290.3" width="14.5" height="199.5" fill="#9fd5d2" stroke="#000" stroke-width="1.5" />
<rect x="917.5" y="1290.3" width="20.1" height="199.5" fill="#9fd5d2" stroke="#000" stroke-width="1.5" />
<line x1="934.6" y1="1291" x2="934.6" y2="1489" stroke="#000" stroke-width="1"/>
<line x1="899.8" y1="1291.5" x2="939.1" y2="1291.5" stroke="#000" stroke-width="2.6"/>
<line x1="899.8" y1="1347.6" x2="939.1" y2="1347.6" stroke="#000" stroke-width="2.6"/>
<line x1="899.8" y1="1389.7" x2="939.1" y2="1389.7" stroke="#000" stroke-width="2.6"/>
<line x1="899.8" y1="1432.6" x2="939.1" y2="1432.6" stroke="#000" stroke-width="2.6"/>
<line x1="899.8" y1="1488.4" x2="939.1" y2="1488.4" stroke="#000" stroke-width="2.6"/>
<rect x="903.5" y="1491" width="30.9" height="14.6" fill="#9fd5d2" stroke="#000" stroke-width="1.6" />
<line x1="905.8" y1="1491" x2="905.8" y2="1505" stroke="#000" stroke-width="1"/>
<line x1="932.1" y1="1491" x2="932.1" y2="1505" stroke="#000" stroke-width="1"/>
<rect x="978.5" y="1274.4" width="30.8" height="14.2" fill="#9fd5d2" stroke="#000" stroke-width="1.6" />
<line x1="980.8" y1="1275" x2="980.8" y2="1288" stroke="#000" stroke-width="1"/>
<line x1="1007" y1="1275" x2="1007" y2="1288" stroke="#000" stroke-width="1"/>
<rect x="975.3" y="1290.3" width="14.5" height="199.5" fill="#9fd5d2" stroke="#000" stroke-width="1.5" />
<rect x="992.4" y="1290.3" width="20.1" height="199.5" fill="#9fd5d2" stroke="#000" stroke-width="1.5" />
<line x1="1009.5" y1="1291" x2="1009.5" y2="1489" stroke="#000" stroke-width="1"/>
<line x1="974.8" y1="1291.5" x2="1014" y2="1291.5" stroke="#000" stroke-width="2.6"/>
<line x1="974.8" y1="1347.6" x2="1014" y2="1347.6" stroke="#000" stroke-width="2.6"/>
<line x1="974.8" y1="1389.7" x2="1014" y2="1389.7" stroke="#000" stroke-width="2.6"/>
<line x1="974.8" y1="1432.6" x2="1014" y2="1432.6" stroke="#000" stroke-width="2.6"/>
<line x1="974.8" y1="1488.4" x2="1014" y2="1488.4" stroke="#000" stroke-width="2.6"/>
<rect x="978.5" y="1491" width="30.8" height="14.6" fill="#9fd5d2" stroke="#000" stroke-width="1.6" />
<line x1="980.8" y1="1491" x2="980.8" y2="1505" stroke="#000" stroke-width="1"/>
<line x1="1007" y1="1491" x2="1007" y2="1505" stroke="#000" stroke-width="1"/>
<rect x="1135.2" y="1274.4" width="31.6" height="14.2" fill="#9fd5d2" stroke="#000" stroke-width="1.6" />
<line x1="1137.5" y1="1275" x2="1137.5" y2="1288" stroke="#000" stroke-width="1"/>
<line x1="1164.5" y1="1275" x2="1164.5" y2="1288" stroke="#000" stroke-width="1"/>
<rect x="1132" y="1290.3" width="14.8" height="199.5" fill="#9fd5d2" stroke="#000" stroke-width="1.5" />
<rect x="1149.5" y="1290.3" width="20.5" height="199.5" fill="#9fd5d2" stroke="#000" stroke-width="1.5" />
<line x1="1167" y1="1291" x2="1167" y2="1489" stroke="#000" stroke-width="1"/>
<line x1="1131.5" y1="1291.5" x2="1171.5" y2="1291.5" stroke="#000" stroke-width="2.6"/>
<line x1="1131.5" y1="1347.6" x2="1171.5" y2="1347.6" stroke="#000" stroke-width="2.6"/>
<line x1="1131.5" y1="1389.7" x2="1171.5" y2="1389.7" stroke="#000" stroke-width="2.6"/>
<line x1="1131.5" y1="1432.6" x2="1171.5" y2="1432.6" stroke="#000" stroke-width="2.6"/>
<line x1="1131.5" y1="1488.4" x2="1171.5" y2="1488.4" stroke="#000" stroke-width="2.6"/>
<rect x="1135.2" y="1491" width="31.6" height="14.6" fill="#9fd5d2" stroke="#000" stroke-width="1.6" />
<line x1="1137.5" y1="1491" x2="1137.5" y2="1505" stroke="#000" stroke-width="1"/>
<line x1="1164.5" y1="1491" x2="1164.5" y2="1505" stroke="#000" stroke-width="1"/>
<rect x="1219.2" y="1274.4" width="30" height="14.2" fill="#9fd5d2" stroke="#000" stroke-width="1.6" />
<line x1="1221.5" y1="1275" x2="1221.5" y2="1288" stroke="#000" stroke-width="1"/>
<line x1="1246.9" y1="1275" x2="1246.9" y2="1288" stroke="#000" stroke-width="1"/>
<rect x="1216" y="1290.3" width="14.2" height="199.5" fill="#9fd5d2" stroke="#000" stroke-width="1.5" />
<rect x="1232.7" y="1290.3" width="19.7" height="199.5" fill="#9fd5d2" stroke="#000" stroke-width="1.5" />
<line x1="1249.4" y1="1291" x2="1249.4" y2="1489" stroke="#000" stroke-width="1"/>
<line x1="1215.5" y1="1291.5" x2="1253.9" y2="1291.5" stroke="#000" stroke-width="2.6"/>
<line x1="1215.5" y1="1347.6" x2="1253.9" y2="1347.6" stroke="#000" stroke-width="2.6"/>
<line x1="1215.5" y1="1389.7" x2="1253.9" y2="1389.7" stroke="#000" stroke-width="2.6"/>
<line x1="1215.5" y1="1432.6" x2="1253.9" y2="1432.6" stroke="#000" stroke-width="2.6"/>
<line x1="1215.5" y1="1488.4" x2="1253.9" y2="1488.4" stroke="#000" stroke-width="2.6"/>
<rect x="1219.2" y="1491" width="30" height="14.6" fill="#9fd5d2" stroke="#000" stroke-width="1.6" />
<line x1="1221.5" y1="1491" x2="1221.5" y2="1505" stroke="#000" stroke-width="1"/>
<line x1="1246.9" y1="1491" x2="1246.9" y2="1505" stroke="#000" stroke-width="1"/>
<rect x="1293.6" y="1274.4" width="30.2" height="14.2" fill="#9fd5d2" stroke="#000" stroke-width="1.6" />
<line x1="1295.9" y1="1275" x2="1295.9" y2="1288" stroke="#000" stroke-width="1"/>
<line x1="1321.5" y1="1275" x2="1321.5" y2="1288" stroke="#000" stroke-width="1"/>
<rect x="1290.4" y="1290.3" width="14.3" height="199.5" fill="#9fd5d2" stroke="#000" stroke-width="1.5" />
<rect x="1307.2" y="1290.3" width="19.8" height="199.5" fill="#9fd5d2" stroke="#000" stroke-width="1.5" />
<line x1="1324" y1="1291" x2="1324" y2="1489" stroke="#000" stroke-width="1"/>
<line x1="1289.9" y1="1291.5" x2="1328.5" y2="1291.5" stroke="#000" stroke-width="2.6"/>
<line x1="1289.9" y1="1347.6" x2="1328.5" y2="1347.6" stroke="#000" stroke-width="2.6"/>
<line x1="1289.9" y1="1389.7" x2="1328.5" y2="1389.7" stroke="#000" stroke-width="2.6"/>
<line x1="1289.9" y1="1432.6" x2="1328.5" y2="1432.6" stroke="#000" stroke-width="2.6"/>
<line x1="1289.9" y1="1488.4" x2="1328.5" y2="1488.4" stroke="#000" stroke-width="2.6"/>
<rect x="1293.6" y="1491" width="30.2" height="14.6" fill="#9fd5d2" stroke="#000" stroke-width="1.6" />
<line x1="1295.9" y1="1491" x2="1295.9" y2="1505" stroke="#000" stroke-width="1"/>
<line x1="1321.5" y1="1491" x2="1321.5" y2="1505" stroke="#000" stroke-width="1"/>
<rect x="1375.9" y="1274.4" width="31.2" height="14.2" fill="#9fd5d2" stroke="#000" stroke-width="1.6" />
<line x1="1378.2" y1="1275" x2="1378.2" y2="1288" stroke="#000" stroke-width="1"/>
<line x1="1404.8" y1="1275" x2="1404.8" y2="1288" stroke="#000" stroke-width="1"/>
<rect x="1372.7" y="1290.3" width="14.7" height="199.5" fill="#9fd5d2" stroke="#000" stroke-width="1.5" />
<rect x="1390" y="1290.3" width="20.3" height="199.5" fill="#9fd5d2" stroke="#000" stroke-width="1.5" />
<line x1="1407.3" y1="1291" x2="1407.3" y2="1489" stroke="#000" stroke-width="1"/>
<line x1="1372.2" y1="1291.5" x2="1411.8" y2="1291.5" stroke="#000" stroke-width="2.6"/>
<line x1="1372.2" y1="1347.6" x2="1411.8" y2="1347.6" stroke="#000" stroke-width="2.6"/>
<line x1="1372.2" y1="1389.7" x2="1411.8" y2="1389.7" stroke="#000" stroke-width="2.6"/>
<line x1="1372.2" y1="1432.6" x2="1411.8" y2="1432.6" stroke="#000" stroke-width="2.6"/>
<line x1="1372.2" y1="1488.4" x2="1411.8" y2="1488.4" stroke="#000" stroke-width="2.6"/>
<rect x="1375.9" y="1491" width="31.2" height="14.6" fill="#9fd5d2" stroke="#000" stroke-width="1.6" />
<line x1="1378.2" y1="1491" x2="1378.2" y2="1505" stroke="#000" stroke-width="1"/>
<line x1="1404.8" y1="1491" x2="1404.8" y2="1505" stroke="#000" stroke-width="1"/>
<rect x="1450.7" y="1274.4" width="30.3" height="14.2" fill="#9fd5d2" stroke="#000" stroke-width="1.6" />
<line x1="1453" y1="1275" x2="1453" y2="1288" stroke="#000" stroke-width="1"/>
<line x1="1478.7" y1="1275" x2="1478.7" y2="1288" stroke="#000" stroke-width="1"/>
<rect x="1447.5" y="1290.3" width="14.3" height="199.5" fill="#9fd5d2" stroke="#000" stroke-width="1.5" />
<rect x="1464.4" y="1290.3" width="19.8" height="199.5" fill="#9fd5d2" stroke="#000" stroke-width="1.5" />
<line x1="1481.2" y1="1291" x2="1481.2" y2="1489" stroke="#000" stroke-width="1"/>
<line x1="1447" y1="1291.5" x2="1485.7" y2="1291.5" stroke="#000" stroke-width="2.6"/>
<line x1="1447" y1="1347.6" x2="1485.7" y2="1347.6" stroke="#000" stroke-width="2.6"/>
<line x1="1447" y1="1389.7" x2="1485.7" y2="1389.7" stroke="#000" stroke-width="2.6"/>
<line x1="1447" y1="1432.6" x2="1485.7" y2="1432.6" stroke="#000" stroke-width="2.6"/>
<line x1="1447" y1="1488.4" x2="1485.7" y2="1488.4" stroke="#000" stroke-width="2.6"/>
<rect x="1450.7" y="1491" width="30.3" height="14.6" fill="#9fd5d2" stroke="#000" stroke-width="1.6" />
<line x1="1453" y1="1491" x2="1453" y2="1505" stroke="#000" stroke-width="1"/>
<line x1="1478.7" y1="1491" x2="1478.7" y2="1505" stroke="#000" stroke-width="1"/>
<rect x="597.6" y="1545.4" width="62.9" height="24" fill="#9fd5d2" stroke="#000" stroke-width="1.6" />
<line x1="599.6" y1="1545.4" x2="599.6" y2="1569.4" stroke="#000" stroke-width="1"/>
<rect x="798.8" y="1545.4" width="63.6" height="24" fill="#9fd5d2" stroke="#000" stroke-width="1.6" />
<line x1="800.8" y1="1545.4" x2="800.8" y2="1569.4" stroke="#000" stroke-width="1"/>
<rect x="874" y="1545.4" width="63.6" height="24" fill="#9fd5d2" stroke="#000" stroke-width="1.6" />
<line x1="876" y1="1545.4" x2="876" y2="1569.4" stroke="#000" stroke-width="1"/>
<rect x="937.6" y="1545.4" width="63.6" height="24" fill="#9fd5d2" stroke="#000" stroke-width="1.6" />
<line x1="939.6" y1="1545.4" x2="939.6" y2="1569.4" stroke="#000" stroke-width="1"/>
<rect x="1001.2" y="1545.4" width="63" height="24" fill="#9fd5d2" stroke="#000" stroke-width="1.6" />
<line x1="1003.2" y1="1545.4" x2="1003.2" y2="1569.4" stroke="#000" stroke-width="1"/>
<rect x="1064.2" y="1545.4" width="64" height="24" fill="#9fd5d2" stroke="#000" stroke-width="1.6" />
<line x1="1066.2" y1="1545.4" x2="1066.2" y2="1569.4" stroke="#000" stroke-width="1"/>
<rect x="1147.7" y="1545.4" width="62.5" height="24" fill="#9fd5d2" stroke="#000" stroke-width="1.6" />
<line x1="1149.7" y1="1545.4" x2="1149.7" y2="1569.4" stroke="#000" stroke-width="1"/>
<rect x="1210.2" y="1545.4" width="63.3" height="24" fill="#9fd5d2" stroke="#000" stroke-width="1.6" />
<line x1="1212.2" y1="1545.4" x2="1212.2" y2="1569.4" stroke="#000" stroke-width="1"/>
<rect x="1273.5" y="1545.4" width="63.4" height="24" fill="#9fd5d2" stroke="#000" stroke-width="1.6" />
<line x1="1275.5" y1="1545.4" x2="1275.5" y2="1569.4" stroke="#000" stroke-width="1"/>
<rect x="1336.9" y="1545.4" width="63.3" height="24" fill="#9fd5d2" stroke="#000" stroke-width="1.6" />
<line x1="1338.9" y1="1545.4" x2="1338.9" y2="1569.4" stroke="#000" stroke-width="1"/>
<rect x="1414.5" y="1545.4" width="65.5" height="24" fill="#9fd5d2" stroke="#000" stroke-width="1.6" />
<line x1="1416.5" y1="1545.4" x2="1416.5" y2="1569.4" stroke="#000" stroke-width="1"/>
<rect x="1614" y="1545.4" width="65.6" height="24" fill="#9fd5d2" stroke="#000" stroke-width="1.6" />
<line x1="1616" y1="1545.4" x2="1616" y2="1569.4" stroke="#000" stroke-width="1"/>
<rect x="1655.5" y="1356" width="24.1" height="63" fill="#9fd5d2" stroke="#000" stroke-width="1.6" />
<rect x="1655.5" y="1419" width="24.1" height="63" fill="#9fd5d2" stroke="#000" stroke-width="1.6" />
<rect x="1655.5" y="1482" width="24.1" height="62" fill="#9fd5d2" stroke="#000" stroke-width="1.6" />
<rect x="862.3" y="1553" width="6" height="19" fill="#fff" stroke="#000" stroke-width="2.2" />
<rect x="1134.5" y="1553" width="6" height="19" fill="#fff" stroke="#000" stroke-width="2.2" />
<rect x="1407.5" y="1553" width="6" height="19" fill="#fff" stroke="#000" stroke-width="2.2" />
<rect x="861.5" y="735.8" width="7" height="7" fill="#000"/>
<rect x="1133.5" y="735.8" width="7" height="7" fill="#000"/>
<rect x="1406.5" y="735.8" width="7" height="7" fill="#000"/>
<rect x="861.5" y="1006.8" width="7" height="7" fill="#000"/>
<rect x="1133.5" y="1006.8" width="7" height="7" fill="#000"/>
<rect x="1406.5" y="1006.8" width="7" height="7" fill="#000"/>
<rect x="861.5" y="1278.8" width="7" height="7" fill="#000"/>
<rect x="1406.5" y="1278.8" width="7" height="7" fill="#000"/>
<rect x="307.5" y="735.8" width="7" height="7" fill="#000"/>
<rect x="307.5" y="1006.8" width="7" height="7" fill="#000"/>
<rect x="307.5" y="1278.8" width="7" height="7" fill="#000"/>
<text x="1047" y="825" font-size="41.2" text-anchor="middle" font-weight="normal" fill="#000" stroke="#000" stroke-width="0.75" textLength="317" lengthAdjust="spacingAndGlyphs">NEW RETAIL STORE</text>
<text x="815.5" y="655" font-size="18.4" text-anchor="middle" font-weight="normal" fill="#000" stroke="#000" stroke-width="0.83" textLength="83" lengthAdjust="spacingAndGlyphs">PLUMBING</text>
<text x="1192.7" y="648.5" font-size="20.3" text-anchor="start" font-weight="normal" fill="#000" stroke="#000" stroke-width="0.83" textLength="188.3" lengthAdjust="spacingAndGlyphs">LIGHTING, ELECTRICAL,</text>
<text x="1192.7" y="668" font-size="20.3" text-anchor="start" font-weight="normal" fill="#000" stroke="#000" stroke-width="0.83" textLength="182" lengthAdjust="spacingAndGlyphs">HARDWARE, STORAGE</text>
<text transform="translate(896,1327.6) rotate(-90)" x="0" y="0" font-size="20.8" text-anchor="middle" font-weight="normal" fill="#000" stroke="#000" stroke-width="0.83" textLength="83" lengthAdjust="spacingAndGlyphs">FLOORING</text>
<text transform="translate(1283,1327) rotate(-90)" x="0" y="0" font-size="20.8" text-anchor="middle" font-weight="normal" fill="#000" stroke="#000" stroke-width="0.83" textLength="47" lengthAdjust="spacingAndGlyphs">PAINT</text>
<text x="1538" y="1389" font-size="20.3" text-anchor="middle" font-weight="normal" fill="#000" stroke="#000" stroke-width="0.83" textLength="87" lengthAdjust="spacingAndGlyphs">SEASONAL</text>
<path d="M1592.3,929 H1637.6 V938.4 H1617 V974 H1637.6 V983.7 H1592.3 Z" fill="#f7f08c" stroke="#000" stroke-width="1.6" />
<line x1="1603.4" y1="929" x2="1603.4" y2="983.7" stroke="#000" stroke-width="1.2"/>
<line x1="1592.3" y1="956.3" x2="1617" y2="956.3" stroke="#000" stroke-width="1.2"/>
<path d="M1592.3,1017.3 H1637.6 V1026.7 H1617 V1062.3 H1637.6 V1072.0 H1592.3 Z" fill="#f7f08c" stroke="#000" stroke-width="1.6" />
<line x1="1603.4" y1="1017.3" x2="1603.4" y2="1072" stroke="#000" stroke-width="1.2"/>
<line x1="1592.3" y1="1044.6" x2="1617" y2="1044.6" stroke="#000" stroke-width="1.2"/>
<path d="M1592.3,1105.6 H1637.6 V1115.0 H1617 V1150.6 H1637.6 V1160.3 H1592.3 Z" fill="#f7f08c" stroke="#000" stroke-width="1.6" />
<line x1="1603.4" y1="1105.6" x2="1603.4" y2="1160.3" stroke="#000" stroke-width="1.2"/>
<line x1="1592.3" y1="1132.9" x2="1617" y2="1132.9" stroke="#000" stroke-width="1.2"/>
<text x="1558" y="1043.2" font-size="12.6" text-anchor="middle" font-weight="normal" fill="#000" stroke="#000" stroke-width="0.68" textLength="26" lengthAdjust="spacingAndGlyphs">CASH</text>
<text x="1558" y="1055" font-size="12.6" text-anchor="middle" font-weight="normal" fill="#000" stroke="#000" stroke-width="0.68" textLength="38" lengthAdjust="spacingAndGlyphs">KIOSKS</text>
<path d="M1592.3,1284.7 H1680.8 V1295 H1617 V1337.5 H1637.6 V1346.5 H1592.3 Z" fill="#f7f08c" stroke="#000" stroke-width="1.6" />
<line x1="1603.4" y1="1284.7" x2="1603.4" y2="1346.5" stroke="#000" stroke-width="1.2"/>
<line x1="1592.3" y1="1315" x2="1617" y2="1315" stroke="#000" stroke-width="1.2"/>
<text x="1557" y="1313" font-size="11.9" text-anchor="middle" font-weight="normal" fill="#000" stroke="#000" stroke-width="0.68" textLength="49" lengthAdjust="spacingAndGlyphs">RETURNS</text>
<line x1="1550" y1="445" x2="1550" y2="872.3" stroke="#000" stroke-width="2.2" stroke-dasharray="8 5"/>
<line x1="1550" y1="872.3" x2="1586.7" y2="872.3" stroke="#000" stroke-width="2.2" stroke-dasharray="8 5"/>
<rect x="1548.7" y="521.7" width="6" height="6" fill="#fff" stroke="#000" stroke-width="1.4" />
<rect x="1548.7" y="687" width="6" height="6" fill="#fff" stroke="#000" stroke-width="1.4" />
<rect x="1548.7" y="866" width="6" height="6" fill="#fff" stroke="#000" stroke-width="1.4" />
<line x1="1499.4" y1="809" x2="1548" y2="809" stroke="#000" stroke-width="1.2"/>
<rect x="1528" y="807" width="12" height="4" fill="#000"/>
<text x="1469" y="813.2" font-size="12.6" text-anchor="middle" font-weight="normal" fill="#000" stroke="#000" stroke-width="0.68" textLength="60" lengthAdjust="spacingAndGlyphs">MEZZANINE</text>
<text x="1469" y="825" font-size="12.6" text-anchor="middle" font-weight="normal" fill="#000" stroke="#000" stroke-width="0.68" textLength="36" lengthAdjust="spacingAndGlyphs">ABOVE</text>
<rect x="316.5" y="689.5" width="53" height="851.5" fill="#9ccfcb" stroke="#000" stroke-width="1.8" />
<line x1="321.8" y1="689.5" x2="321.8" y2="1541" stroke="#000" stroke-width="1.0"/>
<line x1="327.1" y1="689.5" x2="327.1" y2="1541" stroke="#000" stroke-width="1.0"/>
<line x1="332.4" y1="689.5" x2="332.4" y2="1541" stroke="#000" stroke-width="1.0"/>
<line x1="337.7" y1="689.5" x2="337.7" y2="1541" stroke="#000" stroke-width="1.0"/>
<line x1="343" y1="689.5" x2="343" y2="1541" stroke="#000" stroke-width="1.0"/>
<line x1="348.3" y1="689.5" x2="348.3" y2="1541" stroke="#000" stroke-width="1.0"/>
<line x1="353.6" y1="689.5" x2="353.6" y2="1541" stroke="#000" stroke-width="1.0"/>
<line x1="358.9" y1="689.5" x2="358.9" y2="1541" stroke="#000" stroke-width="1.0"/>
<line x1="364.2" y1="689.5" x2="364.2" y2="1541" stroke="#000" stroke-width="1.0"/>
<line x1="316.5" y1="689.5" x2="369.5" y2="689.5" stroke="#000" stroke-width="1.9"/>
<line x1="316.5" y1="720.9" x2="369.5" y2="720.9" stroke="#000" stroke-width="1.9"/>
<line x1="316.5" y1="752.3" x2="369.5" y2="752.3" stroke="#000" stroke-width="1.9"/>
<line x1="316.5" y1="783.7" x2="369.5" y2="783.7" stroke="#000" stroke-width="1.9"/>
<line x1="316.5" y1="815.1" x2="369.5" y2="815.1" stroke="#000" stroke-width="1.9"/>
<line x1="316.5" y1="846.5" x2="369.5" y2="846.5" stroke="#000" stroke-width="1.9"/>
<line x1="316.5" y1="877.9" x2="369.5" y2="877.9" stroke="#000" stroke-width="1.9"/>
<line x1="316.5" y1="909.3" x2="369.5" y2="909.3" stroke="#000" stroke-width="1.9"/>
<line x1="316.5" y1="940.7" x2="369.5" y2="940.7" stroke="#000" stroke-width="1.9"/>
<line x1="316.5" y1="972.1" x2="369.5" y2="972.1" stroke="#000" stroke-width="1.9"/>
<line x1="316.5" y1="1003.5" x2="369.5" y2="1003.5" stroke="#000" stroke-width="1.9"/>
<line x1="316.5" y1="1034.9" x2="369.5" y2="1034.9" stroke="#000" stroke-width="1.9"/>
<line x1="316.5" y1="1066.3" x2="369.5" y2="1066.3" stroke="#000" stroke-width="1.9"/>
<line x1="316.5" y1="1097.7" x2="369.5" y2="1097.7" stroke="#000" stroke-width="1.9"/>
<line x1="316.5" y1="1129.1" x2="369.5" y2="1129.1" stroke="#000" stroke-width="1.9"/>
<line x1="316.5" y1="1160.5" x2="369.5" y2="1160.5" stroke="#000" stroke-width="1.9"/>
<line x1="316.5" y1="1191.9" x2="369.5" y2="1191.9" stroke="#000" stroke-width="1.9"/>
<line x1="316.5" y1="1223.3" x2="369.5" y2="1223.3" stroke="#000" stroke-width="1.9"/>
<line x1="316.5" y1="1254.7" x2="369.5" y2="1254.7" stroke="#000" stroke-width="1.9"/>
<line x1="316.5" y1="1286.1" x2="369.5" y2="1286.1" stroke="#000" stroke-width="1.9"/>
<line x1="316.5" y1="1317.5" x2="369.5" y2="1317.5" stroke="#000" stroke-width="1.9"/>
<line x1="316.5" y1="1348.9" x2="369.5" y2="1348.9" stroke="#000" stroke-width="1.9"/>
<line x1="316.5" y1="1380.3" x2="369.5" y2="1380.3" stroke="#000" stroke-width="1.9"/>
<line x1="316.5" y1="1411.7" x2="369.5" y2="1411.7" stroke="#000" stroke-width="1.9"/>
<line x1="316.5" y1="1443.1" x2="369.5" y2="1443.1" stroke="#000" stroke-width="1.9"/>
<line x1="316.5" y1="1474.5" x2="369.5" y2="1474.5" stroke="#000" stroke-width="1.9"/>
<line x1="316.5" y1="1505.9" x2="369.5" y2="1505.9" stroke="#000" stroke-width="1.9"/>
<line x1="316.5" y1="1537.3" x2="369.5" y2="1537.3" stroke="#000" stroke-width="1.9"/>
<rect x="533" y="596.6" width="51.6" height="567.4" fill="#9ccfcb" stroke="#000" stroke-width="1.8" />
<line x1="538.2" y1="596.6" x2="538.2" y2="1164" stroke="#000" stroke-width="1.0"/>
<line x1="543.3" y1="596.6" x2="543.3" y2="1164" stroke="#000" stroke-width="1.0"/>
<line x1="548.5" y1="596.6" x2="548.5" y2="1164" stroke="#000" stroke-width="1.0"/>
<line x1="553.6" y1="596.6" x2="553.6" y2="1164" stroke="#000" stroke-width="1.0"/>
<line x1="558.8" y1="596.6" x2="558.8" y2="1164" stroke="#000" stroke-width="1.0"/>
<line x1="564" y1="596.6" x2="564" y2="1164" stroke="#000" stroke-width="1.0"/>
<line x1="569.1" y1="596.6" x2="569.1" y2="1164" stroke="#000" stroke-width="1.0"/>
<line x1="574.3" y1="596.6" x2="574.3" y2="1164" stroke="#000" stroke-width="1.0"/>
<line x1="579.4" y1="596.6" x2="579.4" y2="1164" stroke="#000" stroke-width="1.0"/>
<line x1="533" y1="596.6" x2="584.6" y2="596.6" stroke="#000" stroke-width="1.9"/>
<line x1="533" y1="628" x2="584.6" y2="628" stroke="#000" stroke-width="1.9"/>
<line x1="533" y1="659.4" x2="584.6" y2="659.4" stroke="#000" stroke-width="1.9"/>
<line x1="533" y1="690.8" x2="584.6" y2="690.8" stroke="#000" stroke-width="1.9"/>
<line x1="533" y1="722.2" x2="584.6" y2="722.2" stroke="#000" stroke-width="1.9"/>
<line x1="533" y1="753.6" x2="584.6" y2="753.6" stroke="#000" stroke-width="1.9"/>
<line x1="533" y1="785" x2="584.6" y2="785" stroke="#000" stroke-width="1.9"/>
<line x1="533" y1="816.4" x2="584.6" y2="816.4" stroke="#000" stroke-width="1.9"/>
<line x1="533" y1="847.8" x2="584.6" y2="847.8" stroke="#000" stroke-width="1.9"/>
<line x1="533" y1="879.2" x2="584.6" y2="879.2" stroke="#000" stroke-width="1.9"/>
<line x1="533" y1="910.6" x2="584.6" y2="910.6" stroke="#000" stroke-width="1.9"/>
<line x1="533" y1="942" x2="584.6" y2="942" stroke="#000" stroke-width="1.9"/>
<line x1="533" y1="973.4" x2="584.6" y2="973.4" stroke="#000" stroke-width="1.9"/>
<line x1="533" y1="1004.8" x2="584.6" y2="1004.8" stroke="#000" stroke-width="1.9"/>
<line x1="533" y1="1036.2" x2="584.6" y2="1036.2" stroke="#000" stroke-width="1.9"/>
<line x1="533" y1="1067.6" x2="584.6" y2="1067.6" stroke="#000" stroke-width="1.9"/>
<line x1="533" y1="1099" x2="584.6" y2="1099" stroke="#000" stroke-width="1.9"/>
<line x1="533" y1="1130.4" x2="584.6" y2="1130.4" stroke="#000" stroke-width="1.9"/>
<line x1="533" y1="1161.8" x2="584.6" y2="1161.8" stroke="#000" stroke-width="1.9"/>
<rect x="533" y="1267.5" width="51.6" height="304" fill="#9ccfcb" stroke="#000" stroke-width="1.8" />
<line x1="538.2" y1="1267.5" x2="538.2" y2="1571.5" stroke="#000" stroke-width="1.0"/>
<line x1="543.3" y1="1267.5" x2="543.3" y2="1571.5" stroke="#000" stroke-width="1.0"/>
<line x1="548.5" y1="1267.5" x2="548.5" y2="1571.5" stroke="#000" stroke-width="1.0"/>
<line x1="553.6" y1="1267.5" x2="553.6" y2="1571.5" stroke="#000" stroke-width="1.0"/>
<line x1="558.8" y1="1267.5" x2="558.8" y2="1571.5" stroke="#000" stroke-width="1.0"/>
<line x1="564" y1="1267.5" x2="564" y2="1571.5" stroke="#000" stroke-width="1.0"/>
<line x1="569.1" y1="1267.5" x2="569.1" y2="1571.5" stroke="#000" stroke-width="1.0"/>
<line x1="574.3" y1="1267.5" x2="574.3" y2="1571.5" stroke="#000" stroke-width="1.0"/>
<line x1="579.4" y1="1267.5" x2="579.4" y2="1571.5" stroke="#000" stroke-width="1.0"/>
<line x1="533" y1="1267.5" x2="584.6" y2="1267.5" stroke="#000" stroke-width="1.9"/>
<line x1="533" y1="1298.9" x2="584.6" y2="1298.9" stroke="#000" stroke-width="1.9"/>
<line x1="533" y1="1330.3" x2="584.6" y2="1330.3" stroke="#000" stroke-width="1.9"/>
<line x1="533" y1="1361.7" x2="584.6" y2="1361.7" stroke="#000" stroke-width="1.9"/>
<line x1="533" y1="1393.1" x2="584.6" y2="1393.1" stroke="#000" stroke-width="1.9"/>
<line x1="533" y1="1424.5" x2="584.6" y2="1424.5" stroke="#000" stroke-width="1.9"/>
<line x1="533" y1="1455.9" x2="584.6" y2="1455.9" stroke="#000" stroke-width="1.9"/>
<line x1="533" y1="1487.3" x2="584.6" y2="1487.3" stroke="#000" stroke-width="1.9"/>
<line x1="533" y1="1518.7" x2="584.6" y2="1518.7" stroke="#000" stroke-width="1.9"/>
<line x1="533" y1="1550.1" x2="584.6" y2="1550.1" stroke="#000" stroke-width="1.9"/>
<pattern id="rk" width="5.5" height="31.4" patternUnits="userSpaceOnUse" y="689.5"><rect width="5.5" height="31.4" fill="#a3d6d2"/><path d="M0.5,0 V31.4" stroke="#7aaaa6" stroke-width="0.8"/><path d="M0,0.8 H5.5" stroke="#6a8a88" stroke-width="1.6"/></pattern>
<rect x="281.5" y="698" width="26" height="880" fill="url(#rk)" stroke="#6b9c99" stroke-width="1" />
<rect x="281.5" y="1578" width="54" height="255" fill="url(#rk)" stroke="#6b9c99" stroke-width="1" />
<text transform="translate(294.5,1142.7) rotate(-90)" x="0" y="0" font-size="20.3" text-anchor="middle" font-weight="normal" fill="#000" stroke="#000" stroke-width="0.83" textLength="178" lengthAdjust="spacingAndGlyphs">SINGLE SIDED RACKING</text>
<text transform="translate(294.5,1689) rotate(-90)" x="0" y="0" font-size="20.3" text-anchor="middle" font-weight="normal" fill="#000" stroke="#000" stroke-width="0.83" textLength="199" lengthAdjust="spacingAndGlyphs">DOUBLE SIDED RACKING</text>
<rect x="307.7" y="449" width="6.8" height="1131" fill="#fff" stroke="#000" stroke-width="2" />
<rect x="307.7" y="449" width="3.3" height="71" fill="#000"/>
<rect x="307.7" y="547" width="3.3" height="110" fill="#000"/>
<rect x="307.7" y="1200" width="3.3" height="380" fill="#000"/>
<rect x="307.5" y="733.3" width="7" height="12" fill="#000"/>
<rect x="307.5" y="1004.3" width="7" height="12" fill="#000"/>
<rect x="307.5" y="1276.3" width="7" height="12" fill="#000"/>
<rect x="418" y="449.3" width="5.5" height="71" fill="#000"/>
<rect x="307.7" y="515.4" width="60.3" height="4.9" fill="#000"/>
<rect x="389" y="515.4" width="6.4" height="4.9" fill="#000"/>
<rect x="415.5" y="515.4" width="56.1" height="4.9" fill="#000"/>
<rect x="524" y="515.4" width="63" height="4.9" fill="#000"/>
<line x1="471.6" y1="519" x2="524" y2="519" stroke="#000" stroke-width="1.4" stroke-dasharray="3 2"/>
<path d="M415.5,518 L415.5,497 A21,21 0 0 0 394.5,518" fill="none" stroke="#000" stroke-width="1.2" />
<text x="367.3" y="480.9" font-size="12.3" text-anchor="middle" font-weight="normal" fill="#000" stroke="#000" stroke-width="0.68" textLength="53" lengthAdjust="spacingAndGlyphs">SHIPPER'S</text>
<text x="367.3" y="492.2" font-size="12.3" text-anchor="middle" font-weight="normal" fill="#000" stroke="#000" stroke-width="0.68" textLength="36" lengthAdjust="spacingAndGlyphs">OFFICE</text>
<rect x="464.3" y="449.3" width="79.2" height="38" fill="#f7f08c" stroke="none" stroke-width="0" />
<text x="504" y="503.6" font-size="13.3" text-anchor="middle" font-weight="normal" fill="#000" stroke="#000" stroke-width="0.68" textLength="80" lengthAdjust="spacingAndGlyphs">CUTTING  ROOM</text>
<text x="331" y="538.7" font-size="11.0" text-anchor="middle" font-weight="normal" fill="#000" stroke="#000" stroke-width="0.60" textLength="22" lengthAdjust="spacingAndGlyphs">EXIT</text>
<path d="M311,522 L289,522 A22,22 0 0 0 311,544" fill="none" stroke="#000" stroke-width="1.2" />
<rect x="315.6" y="547.5" width="94.7" height="108.7" fill="none" stroke="#000" stroke-width="1.1" stroke-dasharray="5 4"/>
<line x1="309" y1="547" x2="309" y2="656" stroke="#000" stroke-width="3" stroke-dasharray="6 4"/>
<text transform="translate(322.6,602) rotate(-90)" x="0" y="0" font-size="13.4" text-anchor="middle" font-weight="normal" fill="#000" stroke="#000" stroke-width="0.68" textLength="57" lengthAdjust="spacingAndGlyphs">O.H. DOOR</text>
<path d="M335.2,607 L347.2,595.7 L347.2,601.5 L388.7,601.5 L388.7,612.4 L347.2,612.4 L347.2,618.5 Z" fill="#e8f8ec" stroke="#000" stroke-width="1.2" />
<path d="M587,523 L560,523 A27,27 0 0 0 587,550" fill="none" stroke="#000" stroke-width="1.2" />
<path d="M587,577.3 L560,577.3 A27,27 0 0 1 587,550.3" fill="none" stroke="#000" stroke-width="1.2" />
<line x1="559" y1="523" x2="587" y2="523" stroke="#000" stroke-width="1.2"/>
<line x1="559" y1="577.3" x2="587" y2="577.3" stroke="#000" stroke-width="1.2"/>
<path d="M587,1189 L560,1189 A27,27 0 0 0 587,1216" fill="none" stroke="#000" stroke-width="1.2" />
<path d="M587,1243 L560,1243 A27,27 0 0 1 587,1216" fill="none" stroke="#000" stroke-width="1.2" />
<line x1="559" y1="1243" x2="587" y2="1243" stroke="#000" stroke-width="2"/>
<text x="446" y="908" font-size="23.7" text-anchor="middle" font-weight="normal" fill="#000" stroke="#000" stroke-width="0.90" textLength="131" lengthAdjust="spacingAndGlyphs">DRY STORAGE</text>
<text x="446" y="930.5" font-size="23.7" text-anchor="middle" font-weight="normal" fill="#000" stroke="#000" stroke-width="0.90" textLength="117" lengthAdjust="spacingAndGlyphs">WAREHOUSE</text>
<path d="M448.5,749 L460.5,760 L454.5,760 L454.5,802 L442.5,802 L442.5,760 L436.5,760 Z" fill="#fff" stroke="#000" stroke-width="1.2" />
<path d="M448.5,1262 L460.5,1273 L454.5,1273 L454.5,1315 L442.5,1315 L442.5,1273 L436.5,1273 Z" fill="#fff" stroke="#000" stroke-width="1.2" />
<path d="M448.5,1618 L460.5,1629 L454.5,1629 L454.5,1671 L442.5,1671 L442.5,1629 L436.5,1629 Z" fill="#fff" stroke="#000" stroke-width="1.2" />
<rect x="396" y="1477" width="108.5" height="101" fill="none" stroke="#000" stroke-width="1.1" stroke-dasharray="5 4"/>
<text x="451" y="1571" font-size="12.6" text-anchor="middle" font-weight="normal" fill="#000" stroke="#000" stroke-width="0.68" textLength="57" lengthAdjust="spacingAndGlyphs">O.H.  DOOR</text>
<text x="351.5" y="1566.5" font-size="11.2" text-anchor="middle" font-weight="normal" fill="#000" stroke="#000" stroke-width="0.60" textLength="22" lengthAdjust="spacingAndGlyphs">EXIT</text>
<rect x="1580" y="443" width="5" height="369" fill="#f0f0f0" stroke="#000" stroke-width="1.2" />
<rect x="1579.5" y="443" width="2.3" height="369" fill="#000"/>
<rect x="1579.7" y="489.5" width="5.3" height="21.5" fill="#fff" stroke="none" stroke-width="0" />
<rect x="1579.7" y="621.6" width="5.3" height="54.9" fill="#fff" stroke="none" stroke-width="0" />
<rect x="1579.7" y="727" width="5.3" height="51" fill="#fff" stroke="none" stroke-width="0" />
<rect x="1585" y="508.7" width="96" height="3.7" fill="#000"/>
<rect x="1585" y="686" width="96" height="3.3" fill="#000"/>
<rect x="1585" y="748.8" width="96" height="4.6" fill="#000"/>
<rect x="1585" y="809.8" width="96" height="4" fill="#000"/>
<rect x="1583.4" y="442.5" width="99" height="4" fill="#000"/>
<rect x="1610.8" y="449.8" width="70.2" height="12.2" fill="#f7f08c" stroke="none" stroke-width="0" />
<rect x="1668" y="449.8" width="13" height="58" fill="#f7f08c" stroke="none" stroke-width="0" />
<path d="M1610.8,449.8 H1681 M1610.8,462 H1668 V507.8 M1610.8,449.8 V462" fill="none" stroke="#000" stroke-width="1.2" />
<rect x="1610.8" y="513" width="70.2" height="10" fill="#f7f08c" stroke="#000" stroke-width="1.1" />
<rect x="1638" y="591.7" width="43" height="12.8" fill="#f7f08c" stroke="none" stroke-width="0" />
<rect x="1638" y="591.7" width="10.3" height="76.3" fill="#f7f08c" stroke="none" stroke-width="0" />
<path d="M1681,591.7 H1638 V668 H1648.3 V604.5 H1681" fill="none" stroke="#000" stroke-width="1.2" />
<rect x="1585" y="679.5" width="96" height="8.3" fill="#f7f08c" stroke="#000" stroke-width="1.1" />
<rect x="1585" y="621.6" width="47" height="54.9" fill="none" stroke="#000" stroke-width="1.1" stroke-dasharray="4 3"/>
<text transform="translate(1595,649) rotate(-90)" x="0" y="0" font-size="11.9" text-anchor="middle" font-weight="normal" fill="#000" stroke="#000" stroke-width="0.60" textLength="50" lengthAdjust="spacingAndGlyphs">O.H. DOOR</text>
<path d="M1585,512 L1585,490 A22,22 0 0 1 1607,512" fill="none" stroke="#000" stroke-width="1.2" />
<path d="M1585,748.8 L1585,727.8 A21,21 0 0 1 1606,748.8" fill="none" stroke="#000" stroke-width="1.2" />
<path d="M1585,753.4 L1585,775.4 A22,22 0 0 0 1607,753.4" fill="none" stroke="#000" stroke-width="1.2" />
<text x="1633" y="477.3" font-size="12.8" text-anchor="middle" font-weight="normal" fill="#000" stroke="#000" stroke-width="0.68" textLength="21" lengthAdjust="spacingAndGlyphs">TOOL</text>
<text x="1633" y="489.5" font-size="12.8" text-anchor="middle" font-weight="normal" fill="#000" stroke="#000" stroke-width="0.68" textLength="42" lengthAdjust="spacingAndGlyphs">CLEANING</text>
<text x="1633" y="503.2" font-size="12.8" text-anchor="middle" font-weight="normal" fill="#000" stroke="#000" stroke-width="0.68" textLength="43" lengthAdjust="spacingAndGlyphs">9' x 14.5'</text>
<text x="1631.5" y="558" font-size="12.8" text-anchor="middle" font-weight="normal" fill="#000" stroke="#000" stroke-width="0.68" textLength="21" lengthAdjust="spacingAndGlyphs">TOOL</text>
<text x="1631.5" y="570.3" font-size="12.8" text-anchor="middle" font-weight="normal" fill="#000" stroke="#000" stroke-width="0.68" textLength="32" lengthAdjust="spacingAndGlyphs">RENTAL</text>
<text x="1631.5" y="581" font-size="12.8" text-anchor="middle" font-weight="normal" fill="#000" stroke="#000" stroke-width="0.68" textLength="46" lengthAdjust="spacingAndGlyphs">26' x 14.5'</text>
<text x="1633" y="719.8" font-size="12.8" text-anchor="middle" font-weight="normal" fill="#000" stroke="#000" stroke-width="0.68" textLength="42" lengthAdjust="spacingAndGlyphs">SECURITY</text>
<text x="1633" y="732" font-size="12.8" text-anchor="middle" font-weight="normal" fill="#000" stroke="#000" stroke-width="0.68" textLength="47" lengthAdjust="spacingAndGlyphs">8.6' x 14.5'</text>
<text x="1633" y="776" font-size="12.8" text-anchor="middle" font-weight="normal" fill="#000" stroke="#000" stroke-width="0.68" textLength="24" lengthAdjust="spacingAndGlyphs">FIRST</text>
<text x="1633" y="788.5" font-size="12.8" text-anchor="middle" font-weight="normal" fill="#000" stroke="#000" stroke-width="0.68" textLength="15" lengthAdjust="spacingAndGlyphs">AID</text>
<text x="1633" y="797.6" font-size="12.8" text-anchor="middle" font-weight="normal" fill="#000" stroke="#000" stroke-width="0.68" textLength="47" lengthAdjust="spacingAndGlyphs">8.6' x 14.5'</text>
<rect x="1593.4" y="869.5" width="87.6" height="3.5" fill="#000"/>
<line x1="1595" y1="841" x2="1595" y2="871" stroke="#000" stroke-width="1.3"/>
<line x1="1601.2" y1="841" x2="1601.2" y2="871" stroke="#000" stroke-width="1.3"/>
<line x1="1607.4" y1="841" x2="1607.4" y2="871" stroke="#000" stroke-width="1.3"/>
<line x1="1613.6" y1="841" x2="1613.6" y2="871" stroke="#000" stroke-width="1.3"/>
<line x1="1619.8" y1="841" x2="1619.8" y2="871" stroke="#000" stroke-width="1.3"/>
<line x1="1626" y1="841" x2="1626" y2="871" stroke="#000" stroke-width="1.3"/>
<line x1="1632.2" y1="841" x2="1632.2" y2="871" stroke="#000" stroke-width="1.3"/>
<line x1="1638.4" y1="841" x2="1638.4" y2="871" stroke="#000" stroke-width="1.3"/>
<line x1="1644.6" y1="841" x2="1644.6" y2="871" stroke="#000" stroke-width="1.3"/>
<line x1="1650.8" y1="841" x2="1650.8" y2="871" stroke="#000" stroke-width="1.3"/>
<line x1="1657" y1="841" x2="1657" y2="871" stroke="#000" stroke-width="1.3"/>
<line x1="1663.2" y1="841" x2="1663.2" y2="871" stroke="#000" stroke-width="1.3"/>
<line x1="1593.4" y1="841" x2="1622" y2="841" stroke="#000" stroke-width="1.4"/>
<path d="M1615,841 L1650,813.8" fill="none" stroke="#000" stroke-width="1.6" />
<line x1="1642" y1="813.8" x2="1642" y2="841" stroke="#000" stroke-width="1.3"/>
<line x1="1648" y1="813.8" x2="1648" y2="841" stroke="#000" stroke-width="1.3"/>
<line x1="1654" y1="813.8" x2="1654" y2="841" stroke="#000" stroke-width="1.3"/>
<line x1="1660" y1="813.8" x2="1660" y2="841" stroke="#000" stroke-width="1.3"/>
<line x1="1666" y1="813.8" x2="1666" y2="841" stroke="#000" stroke-width="1.3"/>
<rect x="1650" y="826" width="20" height="30" fill="none" stroke="#000" stroke-width="1" />
<text transform="translate(1587,858) rotate(-90)" x="0" y="0" font-size="10.5" text-anchor="middle" font-weight="normal" fill="#000" stroke="#000" stroke-width="0.52" textLength="11" lengthAdjust="spacingAndGlyphs">UP</text>
<rect x="1681" y="443" width="8" height="1135" fill="#ececec" stroke="#000" stroke-width="1.4" />
<rect x="1681" y="443" width="2.7" height="1135" fill="#000"/>
<rect x="1680.5" y="537" width="9" height="53.5" fill="#fff" stroke="none" stroke-width="0" />
<rect x="1684.6" y="537" width="3.4" height="53.5" fill="#f4f4f4" stroke="#000" stroke-width="1.1" />
<rect x="1680.5" y="624" width="9" height="44" fill="#fff" stroke="none" stroke-width="0" />
<rect x="1684.6" y="624" width="3.4" height="44" fill="#f4f4f4" stroke="#000" stroke-width="1.1" />
<rect x="1680.5" y="990" width="9" height="103" fill="#fff" stroke="none" stroke-width="0" />
<rect x="1684.6" y="990" width="3.4" height="103" fill="#f4f4f4" stroke="#000" stroke-width="1.1" />
<rect x="1680.5" y="1198.5" width="9" height="81.5" fill="#fff" stroke="none" stroke-width="0" />
<rect x="1684.6" y="1198.5" width="3.4" height="81.5" fill="#f4f4f4" stroke="#000" stroke-width="1.1" />
<rect x="1681" y="1093" width="8" height="105.5" fill="#000"/>
<rect x="1680" y="551" width="10" height="27" fill="#fff" stroke="none" stroke-width="0" />
<line x1="1685.4" y1="551" x2="1685.4" y2="578" stroke="#000" stroke-width="0.8"/>
<rect x="1549" y="441" width="32" height="8.5" fill="#fbe6dd" stroke="none" stroke-width="0" />
<path d="M1686.7,975 H1749.5 V1013 H1740.7 V983.7 H1688.7 Z" fill="#d8d8d8" stroke="#000" stroke-width="1.8" />
<path d="M1686.7,1318.4 H1749.5 V1280 H1740.7 V1309.6 H1688.7 Z" fill="#d8d8d8" stroke="#000" stroke-width="1.8" />
<rect x="1740.7" y="1093.3" width="8.3" height="105.2" fill="#d8d8d8" stroke="#000" stroke-width="1.8" />
<line x1="1742" y1="1013" x2="1742" y2="1093" stroke="#000" stroke-width="1.2"/>
<line x1="1747.5" y1="1013" x2="1747.5" y2="1093" stroke="#000" stroke-width="1.2"/>
<line x1="1742" y1="1198.5" x2="1742" y2="1280" stroke="#000" stroke-width="1.2"/>
<line x1="1747.5" y1="1198.5" x2="1747.5" y2="1280" stroke="#000" stroke-width="1.2"/>
<line x1="1692.5" y1="1021.8" x2="1692.5" y2="1086" stroke="#000" stroke-width="1.3"/>
<path d="M1688.5,1025.8 L1692.5,1018.8 L1696.5,1025.8" fill="none" stroke="#000" stroke-width="1.6" />
<path d="M1688.5,1082 L1692.5,1089 L1696.5,1082" fill="none" stroke="#000" stroke-width="1.6" />
<line x1="1734" y1="1021.8" x2="1734" y2="1086" stroke="#000" stroke-width="1.3"/>
<path d="M1730,1025.8 L1734,1018.8 L1738,1025.8" fill="none" stroke="#000" stroke-width="1.6" />
<path d="M1730,1082 L1734,1089 L1738,1082" fill="none" stroke="#000" stroke-width="1.6" />
<line x1="1692.5" y1="1207.4" x2="1692.5" y2="1271.5" stroke="#000" stroke-width="1.3"/>
<path d="M1688.5,1211.4 L1692.5,1204.4 L1696.5,1211.4" fill="none" stroke="#000" stroke-width="1.6" />
<path d="M1688.5,1267.5 L1692.5,1274.5 L1696.5,1267.5" fill="none" stroke="#000" stroke-width="1.6" />
<line x1="1734" y1="1207.4" x2="1734" y2="1271.5" stroke="#000" stroke-width="1.3"/>
<path d="M1730,1211.4 L1734,1204.4 L1738,1211.4" fill="none" stroke="#000" stroke-width="1.6" />
<path d="M1730,1267.5 L1734,1274.5 L1738,1267.5" fill="none" stroke="#000" stroke-width="1.6" />
<rect x="1720.3" y="1033.4" width="20.4" height="41" fill="#e0e0e0" stroke="#000" stroke-width="1" />
<line x1="1722.9" y1="1033.4" x2="1722.9" y2="1074.4" stroke="#000" stroke-width="0.8"/>
<line x1="1725.5" y1="1033.4" x2="1725.5" y2="1074.4" stroke="#000" stroke-width="0.8"/>
<line x1="1728.1" y1="1033.4" x2="1728.1" y2="1074.4" stroke="#000" stroke-width="0.8"/>
<line x1="1730.7" y1="1033.4" x2="1730.7" y2="1074.4" stroke="#000" stroke-width="0.8"/>
<line x1="1733.3" y1="1033.4" x2="1733.3" y2="1074.4" stroke="#000" stroke-width="0.8"/>
<line x1="1735.9" y1="1033.4" x2="1735.9" y2="1074.4" stroke="#000" stroke-width="0.8"/>
<line x1="1738.5" y1="1033.4" x2="1738.5" y2="1074.4" stroke="#000" stroke-width="0.8"/>
<rect x="1720.3" y="1219" width="20.4" height="41" fill="#e0e0e0" stroke="#000" stroke-width="1" />
<line x1="1722.9" y1="1219" x2="1722.9" y2="1260" stroke="#000" stroke-width="0.8"/>
<line x1="1725.5" y1="1219" x2="1725.5" y2="1260" stroke="#000" stroke-width="0.8"/>
<line x1="1728.1" y1="1219" x2="1728.1" y2="1260" stroke="#000" stroke-width="0.8"/>
<line x1="1730.7" y1="1219" x2="1730.7" y2="1260" stroke="#000" stroke-width="0.8"/>
<line x1="1733.3" y1="1219" x2="1733.3" y2="1260" stroke="#000" stroke-width="0.8"/>
<line x1="1735.9" y1="1219" x2="1735.9" y2="1260" stroke="#000" stroke-width="0.8"/>
<line x1="1738.5" y1="1219" x2="1738.5" y2="1260" stroke="#000" stroke-width="0.8"/>
<text transform="translate(1714.4,1144.5) rotate(-90)" x="0" y="0" font-size="16.3" text-anchor="middle" font-weight="normal" fill="#000" stroke="#000" stroke-width="0.75" textLength="49.7" lengthAdjust="spacingAndGlyphs">ENTRY</text>
<text transform="translate(1673,1049.5) rotate(-90)" x="0" y="0" font-size="11.9" text-anchor="middle" font-weight="normal" fill="#000" stroke="#000" stroke-width="0.60" textLength="21" lengthAdjust="spacingAndGlyphs">EXIT</text>
<text transform="translate(1673,1245.3) rotate(-90)" x="0" y="0" font-size="11.9" text-anchor="middle" font-weight="normal" fill="#000" stroke="#000" stroke-width="0.60" textLength="21" lengthAdjust="spacingAndGlyphs">EXIT</text>
<line x1="1689.5" y1="473.8" x2="1834.4" y2="473.8" stroke="#8a8a8a" stroke-width="1"/>
<line x1="1689.5" y1="493.9" x2="1834.4" y2="493.9" stroke="#8a8a8a" stroke-width="1"/>
<line x1="1689.5" y1="514" x2="1834.4" y2="514" stroke="#8a8a8a" stroke-width="1"/>
<line x1="1689.5" y1="534" x2="1834.4" y2="534" stroke="#8a8a8a" stroke-width="1"/>
<line x1="1689.5" y1="554.1" x2="1834.4" y2="554.1" stroke="#8a8a8a" stroke-width="1"/>
<line x1="1689.5" y1="574.1" x2="1834.4" y2="574.1" stroke="#8a8a8a" stroke-width="1"/>
<line x1="1689.5" y1="594.2" x2="1834.4" y2="594.2" stroke="#8a8a8a" stroke-width="1"/>
<line x1="1689.5" y1="614.3" x2="1834.4" y2="614.3" stroke="#8a8a8a" stroke-width="1"/>
<line x1="1689.5" y1="634.3" x2="1834.4" y2="634.3" stroke="#8a8a8a" stroke-width="1"/>
<line x1="1689.5" y1="654.4" x2="1834.4" y2="654.4" stroke="#8a8a8a" stroke-width="1"/>
<line x1="1689.5" y1="674.4" x2="1834.4" y2="674.4" stroke="#8a8a8a" stroke-width="1"/>
<line x1="1689.5" y1="694.5" x2="1834.4" y2="694.5" stroke="#8a8a8a" stroke-width="1"/>
<line x1="1689.5" y1="714.6" x2="1834.4" y2="714.6" stroke="#8a8a8a" stroke-width="1"/>
<line x1="1689.5" y1="734.6" x2="1834.4" y2="734.6" stroke="#8a8a8a" stroke-width="1"/>
<line x1="1689.5" y1="754.7" x2="1834.4" y2="754.7" stroke="#8a8a8a" stroke-width="1"/>
<line x1="1689.5" y1="774.7" x2="1834.4" y2="774.7" stroke="#8a8a8a" stroke-width="1"/>
<line x1="1689.5" y1="794.8" x2="1834.4" y2="794.8" stroke="#8a8a8a" stroke-width="1"/>
<line x1="1689.5" y1="814.9" x2="1834.4" y2="814.9" stroke="#8a8a8a" stroke-width="1"/>
<line x1="1689.5" y1="834.9" x2="1834.4" y2="834.9" stroke="#8a8a8a" stroke-width="1"/>
<line x1="1689.5" y1="855" x2="1834.4" y2="855" stroke="#8a8a8a" stroke-width="1"/>
<line x1="1689.5" y1="875" x2="1834.4" y2="875" stroke="#8a8a8a" stroke-width="1"/>
<line x1="1689.5" y1="895.1" x2="1834.4" y2="895.1" stroke="#8a8a8a" stroke-width="1"/>
<line x1="1689.5" y1="915.2" x2="1834.4" y2="915.2" stroke="#8a8a8a" stroke-width="1"/>
<line x1="1689.5" y1="935.2" x2="1834.4" y2="935.2" stroke="#8a8a8a" stroke-width="1"/>
<line x1="1689.5" y1="955.3" x2="1834.4" y2="955.3" stroke="#8a8a8a" stroke-width="1"/>
<line x1="1689.5" y1="1336.4" x2="1834.4" y2="1336.4" stroke="#8a8a8a" stroke-width="1"/>
<line x1="1689.5" y1="1356.5" x2="1834.4" y2="1356.5" stroke="#8a8a8a" stroke-width="1"/>
<line x1="1689.5" y1="1376.5" x2="1834.4" y2="1376.5" stroke="#8a8a8a" stroke-width="1"/>
<line x1="1689.5" y1="1396.6" x2="1834.4" y2="1396.6" stroke="#8a8a8a" stroke-width="1"/>
<line x1="1689.5" y1="1416.7" x2="1834.4" y2="1416.7" stroke="#8a8a8a" stroke-width="1"/>
<line x1="1689.5" y1="1436.7" x2="1834.4" y2="1436.7" stroke="#8a8a8a" stroke-width="1"/>
<line x1="1689.5" y1="1456.8" x2="1834.4" y2="1456.8" stroke="#8a8a8a" stroke-width="1"/>
<line x1="1689.5" y1="1476.8" x2="1834.4" y2="1476.8" stroke="#8a8a8a" stroke-width="1"/>
<line x1="1689.5" y1="1496.9" x2="1834.4" y2="1496.9" stroke="#8a8a8a" stroke-width="1"/>
<line x1="1689.5" y1="1517" x2="1834.4" y2="1517" stroke="#8a8a8a" stroke-width="1"/>
<line x1="1689.5" y1="1537" x2="1834.4" y2="1537" stroke="#8a8a8a" stroke-width="1"/>
<line x1="1689.5" y1="1557.1" x2="1834.4" y2="1557.1" stroke="#8a8a8a" stroke-width="1"/>
<line x1="1689.5" y1="1577.1" x2="1834.4" y2="1577.1" stroke="#8a8a8a" stroke-width="1"/>
<line x1="1689.5" y1="1597.2" x2="1834.4" y2="1597.2" stroke="#8a8a8a" stroke-width="1"/>
<line x1="1689.5" y1="1617.3" x2="1834.4" y2="1617.3" stroke="#8a8a8a" stroke-width="1"/>
<line x1="1689.5" y1="1637.3" x2="1834.4" y2="1637.3" stroke="#8a8a8a" stroke-width="1"/>
<line x1="1689.5" y1="1657.4" x2="1834.4" y2="1657.4" stroke="#8a8a8a" stroke-width="1"/>
<line x1="1689.5" y1="1677.4" x2="1834.4" y2="1677.4" stroke="#8a8a8a" stroke-width="1"/>
<line x1="1689.5" y1="1697.5" x2="1834.4" y2="1697.5" stroke="#8a8a8a" stroke-width="1"/>
<line x1="1689.5" y1="1717.6" x2="1834.4" y2="1717.6" stroke="#8a8a8a" stroke-width="1"/>
<line x1="1689.5" y1="1737.6" x2="1834.4" y2="1737.6" stroke="#8a8a8a" stroke-width="1"/>
<line x1="1689.5" y1="1757.7" x2="1834.4" y2="1757.7" stroke="#8a8a8a" stroke-width="1"/>
<line x1="1689.5" y1="1777.7" x2="1834.4" y2="1777.7" stroke="#8a8a8a" stroke-width="1"/>
<line x1="1689.5" y1="1797.8" x2="1834.4" y2="1797.8" stroke="#8a8a8a" stroke-width="1"/>
<line x1="1689.5" y1="1817.9" x2="1834.4" y2="1817.9" stroke="#8a8a8a" stroke-width="1"/>
<line x1="1689.5" y1="1837.9" x2="1834.4" y2="1837.9" stroke="#8a8a8a" stroke-width="1"/>
<line x1="1739.5" y1="486" x2="1739.5" y2="970" stroke="#8a8a8a" stroke-width="0.8"/>
<line x1="1739.5" y1="1320" x2="1739.5" y2="1856" stroke="#8a8a8a" stroke-width="0.8"/>
<line x1="1780.5" y1="486" x2="1780.5" y2="970" stroke="#8a8a8a" stroke-width="0.8"/>
<line x1="1780.5" y1="1320" x2="1780.5" y2="1856" stroke="#8a8a8a" stroke-width="0.8"/>
<line x1="1794.8" y1="975" x2="1794.8" y2="1320" stroke="#8a8a8a" stroke-width="0.8"/>
<line x1="1739.5" y1="888" x2="1739.5" y2="970" stroke="#8a8a8a" stroke-width="0.8"/>
<path d="M1834.2,986.7 L1862,1146 L1834.2,1303.7" fill="none" stroke="#000" stroke-width="1.8" stroke-dasharray="7 5"/>
<text x="1897.8" y="1141.5" font-size="12.6" text-anchor="middle" font-weight="normal" fill="#000" stroke="#000" stroke-width="0.68" textLength="60" lengthAdjust="spacingAndGlyphs">COVERED</text>
<text x="1897.8" y="1154.7" font-size="12.6" text-anchor="middle" font-weight="normal" fill="#000" stroke="#000" stroke-width="0.68" textLength="60" lengthAdjust="spacingAndGlyphs">MAIN ENTRY</text>
<line x1="1689.5" y1="903.4" x2="1834.4" y2="903.4" stroke="#000" stroke-width="2.4" stroke-dasharray="7 4"/>
<line x1="1689.5" y1="1388.6" x2="1834.4" y2="1388.6" stroke="#000" stroke-width="2.4" stroke-dasharray="7 4"/>
<rect x="1689.5" y="519.4" width="78.5" height="162.3" fill="none" stroke="#000" stroke-width="1.6" stroke-dasharray="6 4"/>
<text x="1739" y="596.2" font-size="12.6" text-anchor="middle" font-weight="normal" fill="#000" stroke="#000" stroke-width="0.68" textLength="41" lengthAdjust="spacingAndGlyphs">CANOPY</text>
<text x="1739" y="608.2" font-size="12.6" text-anchor="middle" font-weight="normal" fill="#000" stroke="#000" stroke-width="0.68" textLength="34" lengthAdjust="spacingAndGlyphs">ABOVE</text>
<line x1="1690" y1="486.4" x2="1750.5" y2="486.4" stroke="#000" stroke-width="1.4"/>
<path d="M1750.5,486.4 V514 M1805.4,486.4 V514 M1750.5,514 Q1776,510 1778,486.4 Q1780,510 1805.4,514" fill="none" stroke="#000" stroke-width="1.3" />
<line x1="1747.5" y1="483.4" x2="1753.5" y2="489.4" stroke="#000" stroke-width="1.6"/>
<line x1="1747.5" y1="489.4" x2="1753.5" y2="483.4" stroke="#000" stroke-width="1.6"/>
<line x1="1803.8" y1="483.4" x2="1809.8" y2="489.4" stroke="#000" stroke-width="1.6"/>
<line x1="1803.8" y1="489.4" x2="1809.8" y2="483.4" stroke="#000" stroke-width="1.6"/>
<path d="M1697,483 L1690,486.4 L1697,490" fill="none" stroke="#000" stroke-width="1.2" />
<path d="M1686,551 L1716,551 A30,30 0 0 1 1686,581" fill="none" stroke="#000" stroke-width="1.2" />
<rect x="1736.8" y="524.6" width="19.8" height="20.7" fill="#fff" stroke="#000" stroke-width="1.2" />
<rect x="1743.7" y="529.5" width="6" height="11" fill="#000" stroke="#000" stroke-width="0.5" />
<rect x="1745.5" y="531.5" width="2.4" height="2.2" fill="#fff"/><rect x="1745.5" y="536.2" width="2.4" height="2.2" fill="#fff"/>
<rect x="1736.8" y="656.4" width="19.8" height="20.1" fill="#fff" stroke="#000" stroke-width="1.2" />
<rect x="1743.7" y="661" width="6" height="11" fill="#000" stroke="#000" stroke-width="0.5" />
<rect x="1745.5" y="663.0" width="2.4" height="2.2" fill="#fff"/><rect x="1745.5" y="667.8" width="2.4" height="2.2" fill="#fff"/>
<rect x="1704" y="913.6" width="21" height="19.9" fill="#fff" stroke="#000" stroke-width="1.2" />
<rect x="1711.5" y="918" width="6" height="11" fill="#000" stroke="#000" stroke-width="0.5" />
<rect x="1713.3" y="920.0" width="2.4" height="2.2" fill="#fff"/><rect x="1713.3" y="924.8" width="2.4" height="2.2" fill="#fff"/>
<rect x="1803.5" y="913.6" width="19.9" height="19.9" fill="#fff" stroke="#000" stroke-width="1.2" />
<rect x="1807.5" y="918.5" width="5" height="10" fill="#000" stroke="#000" stroke-width="0.5" />
<rect x="1814.5" y="918.5" width="5" height="10" fill="#000" stroke="#000" stroke-width="0.5" />
<rect x="1803.5" y="992.5" width="19.9" height="20.5" fill="#fff" stroke="#000" stroke-width="1.2" />
<rect x="1810.5" y="997.2" width="6" height="11" fill="#000" stroke="#000" stroke-width="0.5" />
<rect x="1812.2" y="999.2" width="2.4" height="2.2" fill="#fff"/><rect x="1812.2" y="1004.0" width="2.4" height="2.2" fill="#fff"/>
<rect x="1803.5" y="1094.8" width="19.9" height="19.9" fill="#fff" stroke="#000" stroke-width="1.2" />
<rect x="1810.5" y="1099.2" width="6" height="11" fill="#000" stroke="#000" stroke-width="0.5" />
<rect x="1812.2" y="1101.2" width="2.4" height="2.2" fill="#fff"/><rect x="1812.2" y="1106.0" width="2.4" height="2.2" fill="#fff"/>
<rect x="1803.5" y="1178.7" width="19.9" height="19.3" fill="#fff" stroke="#000" stroke-width="1.2" />
<rect x="1810.5" y="1182.8" width="6" height="11" fill="#000" stroke="#000" stroke-width="0.5" />
<rect x="1812.2" y="1184.8" width="2.4" height="2.2" fill="#fff"/><rect x="1812.2" y="1189.6" width="2.4" height="2.2" fill="#fff"/>
<rect x="1803.5" y="1280.4" width="19.9" height="19.8" fill="#fff" stroke="#000" stroke-width="1.2" />
<rect x="1810.5" y="1284.8" width="6" height="11" fill="#000" stroke="#000" stroke-width="0.5" />
<rect x="1812.2" y="1286.8" width="2.4" height="2.2" fill="#fff"/><rect x="1812.2" y="1291.6" width="2.4" height="2.2" fill="#fff"/>
<rect x="1704.5" y="1359" width="20.5" height="20" fill="#fff" stroke="#000" stroke-width="1.2" />
<rect x="1711.8" y="1363.5" width="6" height="11" fill="#000" stroke="#000" stroke-width="0.5" />
<rect x="1713.5" y="1365.5" width="2.4" height="2.2" fill="#fff"/><rect x="1713.5" y="1370.3" width="2.4" height="2.2" fill="#fff"/>
<rect x="1803.5" y="1359" width="20.3" height="20" fill="#fff" stroke="#000" stroke-width="1.2" />
<rect x="1807.7" y="1364" width="5" height="10" fill="#000" stroke="#000" stroke-width="0.5" />
<rect x="1814.7" y="1364" width="5" height="10" fill="#000" stroke="#000" stroke-width="0.5" />
<text x="1725.5" y="942.2" font-size="12.6" text-anchor="middle" font-weight="normal" fill="#000" stroke="#000" stroke-width="0.68" textLength="25" lengthAdjust="spacingAndGlyphs">CART</text>
<text x="1725.5" y="954.5" font-size="12.6" text-anchor="middle" font-weight="normal" fill="#000" stroke="#000" stroke-width="0.68" textLength="48" lengthAdjust="spacingAndGlyphs">STORAGE</text>
<text x="1725.5" y="1336" font-size="12.6" text-anchor="middle" font-weight="normal" fill="#000" stroke="#000" stroke-width="0.68" textLength="25" lengthAdjust="spacingAndGlyphs">CART</text>
<text x="1725.5" y="1348.4" font-size="12.6" text-anchor="middle" font-weight="normal" fill="#000" stroke="#000" stroke-width="0.68" textLength="48" lengthAdjust="spacingAndGlyphs">STORAGE</text>
<path d="M1740.7,1013 L1758.3,992.5 M1793.3,1013 L1813.8,992.5" fill="none" stroke="#000" stroke-width="2.2" />
<text x="1776" y="990" font-size="19.6" text-anchor="middle" font-weight="normal" fill="#222" textLength="60" lengthAdjust="spacingAndGlyphs">8' - 0"</text>
<rect x="1751.5" y="1608" width="19.5" height="21" fill="#fff" stroke="#000" stroke-width="1.2" />
<circle cx="1761" cy="1618.5" r="3.8" fill="#000" stroke="#000" stroke-width="0.5"/>
<text x="1762" y="1641" font-size="13.1" text-anchor="middle" font-weight="normal" fill="#000" stroke="#000" stroke-width="0.68" textLength="55" lengthAdjust="spacingAndGlyphs">FLAG POLE</text>
<path d="M1769.9,840.6 Q1798.7,855.7 1827.1,859.7" fill="none" stroke="#9a9a9a" stroke-width="0.9" />
<path d="M1768.5,843.4 Q1785.6,870.3 1808.2,887.7" fill="none" stroke="#9a9a9a" stroke-width="0.9" />
<path d="M1765.9,845.1 Q1766.8,876.7 1777.4,902.7" fill="none" stroke="#9a9a9a" stroke-width="0.9" />
<path d="M1762.8,845.3 Q1747.3,873.1 1743.1,900.7" fill="none" stroke="#9a9a9a" stroke-width="0.9" />
<path d="M1760.0,843.9 Q1732.2,860.4 1714.3,882.3" fill="none" stroke="#9a9a9a" stroke-width="0.9" />
<path d="M1758.3,841.3 Q1725.6,842.2 1698.9,852.5" fill="none" stroke="#9a9a9a" stroke-width="0.9" />
<path d="M1758.1,838.2 Q1729.3,823.1 1700.9,819.1" fill="none" stroke="#9a9a9a" stroke-width="0.9" />
<path d="M1759.5,835.4 Q1742.4,808.5 1719.8,791.1" fill="none" stroke="#9a9a9a" stroke-width="0.9" />
<path d="M1762.1,833.7 Q1761.2,802.1 1750.6,776.1" fill="none" stroke="#9a9a9a" stroke-width="0.9" />
<path d="M1765.2,833.5 Q1780.7,805.7 1784.9,778.1" fill="none" stroke="#9a9a9a" stroke-width="0.9" />
<path d="M1768.0,834.9 Q1795.8,818.4 1813.7,796.5" fill="none" stroke="#9a9a9a" stroke-width="0.9" />
<path d="M1769.7,837.5 Q1802.4,836.6 1829.1,826.3" fill="none" stroke="#9a9a9a" stroke-width="0.9" />
<path d="M1825.3,839.6 L1828.5,838.2 L1832.2,839.0 L1830.3,841.7 L1826.8,842.6 Z" fill="#fff" stroke="#000" stroke-width="1.2" />
<path d="M1829.7,845.1 L1827.0,846.4 L1823.6,844.6 L1825.4,841.8 L1828.6,841.4 L1832.2,842.8 Z" fill="#fff" stroke="#000" stroke-width="1.2" />
<path d="M1837.8,850.2 L1834.4,851.4 L1833.7,848.6 L1835.3,846.5 L1838.8,847.6 Z" fill="#fff" stroke="#000" stroke-width="1.2" />
<path d="M1832.3,855.7 L1829.7,854.6 L1829.9,852.6 L1832.5,851.7 L1833.9,853.7 Z" fill="#fff" stroke="#000" stroke-width="1.2" />
<path d="M1829.6,857.1 L1833.9,854.6 L1837.7,857.9 L1834.7,860.7 L1829.4,861.4 Z" fill="#fff" stroke="#000" stroke-width="1.2" />
<path d="M1825.2,861.2 L1826.2,857.8 L1831.7,858.6 L1831.6,862.8 L1826.6,865.0 Z" fill="#fff" stroke="#000" stroke-width="1.2" />
<path d="M1824.5,867.7 L1825.4,864.1 L1829.8,864.1 L1832.9,865.9 L1830.7,868.1 L1827.9,870.0 Z" fill="#fff" stroke="#000" stroke-width="1.2" />
<path d="M1825.8,875.6 L1827.1,872.1 L1830.4,870.1 L1832.6,873.0 L1830.6,875.4 Z" fill="#fff" stroke="#000" stroke-width="1.2" />
<path d="M1823.2,876.3 L1824.2,873.9 L1826.4,872.8 L1828.4,874.5 L1826.9,877.0 Z" fill="#fff" stroke="#000" stroke-width="1.2" />
<path d="M1820.4,883.2 L1819.1,879.8 L1822.9,879.2 L1825.0,880.4 L1824.1,882.4 Z" fill="#fff" stroke="#000" stroke-width="1.2" />
<path d="M1821.1,880.8 L1818.6,883.2 L1814.4,882.4 L1813.7,878.4 L1819.0,877.7 Z" fill="#fff" stroke="#000" stroke-width="1.2" />
<path d="M1819.1,883.5 L1819.3,887.8 L1813.8,889.1 L1811.7,885.6 L1814.1,883.0 Z" fill="#fff" stroke="#000" stroke-width="1.2" />
<path d="M1813.4,889.5 L1811.2,889.0 L1811.7,887.4 L1813.5,887.1 L1814.7,888.2 Z" fill="#fff" stroke="#000" stroke-width="1.2" />
<path d="M1806.3,888.1 L1807.9,887.5 L1809.5,888.4 L1809.2,890.0 L1807.2,890.2 L1804.8,889.7 Z" fill="#fff" stroke="#000" stroke-width="1.2" />
<path d="M1805.2,895.3 L1801.9,896.0 L1798.5,893.9 L1802.0,892.0 L1804.6,892.9 Z" fill="#fff" stroke="#000" stroke-width="1.2" />
<path d="M1802.1,897.1 L1800.7,899.4 L1797.3,898.8 L1796.5,896.4 L1798.7,895.2 L1801.0,895.4 Z" fill="#fff" stroke="#000" stroke-width="1.2" />
<path d="M1797.4,902.2 L1794.3,900.4 L1796.2,897.1 L1800.9,897.2 L1803.1,900.2 L1801.0,903.2 Z" fill="#fff" stroke="#000" stroke-width="1.2" />
<path d="M1792.8,897.9 L1790.9,899.9 L1787.9,898.6 L1787.8,895.4 L1792.8,894.4 Z" fill="#fff" stroke="#000" stroke-width="1.2" />
<path d="M1787.6,908.3 L1786.4,905.6 L1788.9,903.5 L1792.4,904.1 L1795.0,906.9 L1792.0,910.6 Z" fill="#fff" stroke="#000" stroke-width="1.2" />
<path d="M1786.6,904.9 L1782.9,907.1 L1778.9,905.0 L1779.0,901.4 L1783.0,900.3 L1785.5,902.1 Z" fill="#fff" stroke="#000" stroke-width="1.2" />
<path d="M1775.2,904.5 L1773.1,901.1 L1777.7,899.0 L1780.8,901.2 L1781.1,903.6 L1778.7,905.1 Z" fill="#fff" stroke="#000" stroke-width="1.2" />
<path d="M1777.4,908.3 L1775.9,910.1 L1773.4,910.6 L1772.6,908.8 L1773.4,907.6 L1775.8,906.1 Z" fill="#fff" stroke="#000" stroke-width="1.2" />
<path d="M1774.1,902.9 L1773.4,907.2 L1769.7,908.9 L1766.4,906.6 L1768.4,903.6 Z" fill="#fff" stroke="#000" stroke-width="1.2" />
<path d="M1768.2,902.2 L1768.2,905.0 L1764.4,905.9 L1761.4,903.2 L1764.9,901.1 Z" fill="#fff" stroke="#000" stroke-width="1.2" />
<path d="M1763.7,906.3 L1761.4,907.9 L1759.0,907.3 L1756.0,905.6 L1759.3,904.1 L1762.4,903.8 Z" fill="#fff" stroke="#000" stroke-width="1.2" />
<path d="M1752.8,905.3 L1755.9,904.6 L1758.7,904.6 L1758.6,906.9 L1756.7,908.2 L1753.5,908.1 Z" fill="#fff" stroke="#000" stroke-width="1.2" />
<path d="M1748.2,907.0 L1749.2,903.7 L1753.0,902.6 L1756.7,904.5 L1755.4,907.7 L1751.6,908.9 Z" fill="#fff" stroke="#000" stroke-width="1.2" />
<path d="M1750.0,908.0 L1750.2,910.9 L1746.1,912.9 L1742.3,910.3 L1744.7,907.5 L1747.4,906.7 Z" fill="#fff" stroke="#000" stroke-width="1.2" />
<path d="M1743.5,896.3 L1747.7,896.5 L1747.1,899.3 L1744.8,901.2 L1742.1,899.1 Z" fill="#fff" stroke="#000" stroke-width="1.2" />
<path d="M1742.9,904.9 L1741.4,908.7 L1735.0,909.7 L1733.4,904.4 L1738.8,903.2 Z" fill="#fff" stroke="#000" stroke-width="1.2" />
<path d="M1733.8,902.6 L1733.3,899.9 L1734.7,897.7 L1737.9,899.0 L1736.7,901.1 Z" fill="#fff" stroke="#000" stroke-width="1.2" />
<path d="M1735.1,899.0 L1732.8,902.7 L1729.0,900.6 L1728.4,898.2 L1731.4,897.6 Z" fill="#fff" stroke="#000" stroke-width="1.2" />
<path d="M1730.7,891.9 L1729.6,894.2 L1727.3,894.5 L1724.6,893.0 L1727.3,891.1 Z" fill="#fff" stroke="#000" stroke-width="1.2" />
<path d="M1724.3,889.9 L1723.1,887.9 L1725.9,887.2 L1728.4,888.2 L1727.2,890.0 L1725.6,891.6 Z" fill="#fff" stroke="#000" stroke-width="1.2" />
<path d="M1714.1,893.1 L1718.3,892.1 L1720.6,893.7 L1720.3,896.4 L1716.6,895.9 Z" fill="#fff" stroke="#000" stroke-width="1.2" />
<path d="M1719.1,887.0 L1717.0,885.4 L1719.4,884.0 L1721.9,884.6 L1721.3,886.4 Z" fill="#fff" stroke="#000" stroke-width="1.2" />
<path d="M1717.3,878.8 L1719.6,880.4 L1719.5,882.7 L1715.7,883.7 L1715.6,880.8 Z" fill="#fff" stroke="#000" stroke-width="1.2" />
<path d="M1707.7,881.6 L1706.8,878.8 L1709.8,876.3 L1712.9,878.4 L1714.5,881.1 L1711.1,882.9 Z" fill="#fff" stroke="#000" stroke-width="1.2" />
<path d="M1709.8,877.8 L1706.6,879.1 L1705.9,876.2 L1708.1,874.8 L1710.3,875.9 Z" fill="#fff" stroke="#000" stroke-width="1.2" />
<path d="M1701.3,877.6 L1697.7,876.1 L1699.4,873.3 L1703.2,872.6 L1704.3,875.7 Z" fill="#fff" stroke="#000" stroke-width="1.2" />
<path d="M1700.7,870.6 L1699.3,873.2 L1696.2,872.4 L1694.7,870.1 L1698.0,868.4 Z" fill="#fff" stroke="#000" stroke-width="1.2" />
<path d="M1703.9,866.5 L1701.0,865.2 L1703.0,863.1 L1705.6,863.4 L1706.9,865.6 Z" fill="#fff" stroke="#000" stroke-width="1.2" />
<path d="M1696.5,860.2 L1700.8,859.7 L1702.0,862.7 L1700.5,864.8 L1696.6,866.2 L1696.2,863.0 Z" fill="#fff" stroke="#000" stroke-width="1.2" />
<path d="M1698.3,856.2 L1698.9,858.3 L1696.8,859.7 L1695.0,858.3 L1694.0,856.8 L1695.9,855.7 Z" fill="#fff" stroke="#000" stroke-width="1.2" />
<path d="M1697.2,850.8 L1697.9,854.5 L1693.9,855.8 L1691.2,854.5 L1690.5,852.3 L1692.8,850.3 Z" fill="#fff" stroke="#000" stroke-width="1.2" />
<path d="M1689.7,848.4 L1693.5,848.0 L1694.8,850.2 L1695.7,853.1 L1691.4,853.9 L1689.1,851.4 Z" fill="#fff" stroke="#000" stroke-width="1.2" />
<path d="M1693.8,846.0 L1692.1,845.5 L1691.4,843.6 L1693.9,843.2 L1696.3,843.6 L1696.7,846.0 Z" fill="#fff" stroke="#000" stroke-width="1.2" />
<path d="M1697.1,837.4 L1700.2,839.1 L1698.6,841.3 L1696.5,842.2 L1694.2,841.1 L1693.4,838.4 Z" fill="#fff" stroke="#000" stroke-width="1.2" />
<path d="M1694.4,838.4 L1692.1,836.8 L1693.4,834.6 L1696.0,835.2 L1696.8,837.1 Z" fill="#fff" stroke="#000" stroke-width="1.2" />
<path d="M1697.3,834.2 L1694.0,833.6 L1694.6,831.4 L1695.5,829.8 L1698.4,829.8 L1699.7,832.2 Z" fill="#fff" stroke="#000" stroke-width="1.2" />
<path d="M1699.8,829.9 L1697.6,828.8 L1696.4,827.1 L1698.2,824.9 L1700.5,826.6 L1702.4,828.4 Z" fill="#fff" stroke="#000" stroke-width="1.2" />
<path d="M1696.5,819.9 L1695.5,822.9 L1692.6,823.6 L1689.4,821.8 L1692.1,819.0 Z" fill="#fff" stroke="#000" stroke-width="1.2" />
<path d="M1703.5,819.0 L1706.1,821.0 L1702.7,823.3 L1700.4,820.9 L1699.9,817.9 Z" fill="#fff" stroke="#000" stroke-width="1.2" />
<path d="M1693.3,814.2 L1693.8,810.9 L1697.2,810.3 L1699.3,812.2 L1697.3,814.0 Z" fill="#fff" stroke="#000" stroke-width="1.2" />
<path d="M1708.9,812.3 L1708.1,815.4 L1703.5,816.2 L1702.5,812.8 L1705.4,810.4 Z" fill="#fff" stroke="#000" stroke-width="1.2" />
<path d="M1706.1,801.1 L1705.1,805.0 L1701.4,807.1 L1698.9,804.5 L1696.9,801.5 L1701.2,800.2 Z" fill="#fff" stroke="#000" stroke-width="1.2" />
<path d="M1707.7,800.6 L1707.8,802.9 L1704.5,803.1 L1703.3,801.0 L1705.2,798.7 Z" fill="#fff" stroke="#000" stroke-width="1.2" />
<path d="M1708.9,798.8 L1712.4,797.5 L1715.0,799.2 L1713.9,801.7 L1709.1,802.8 Z" fill="#fff" stroke="#000" stroke-width="1.2" />
<path d="M1711.4,798.5 L1712.0,796.0 L1715.2,795.4 L1718.3,796.8 L1716.8,799.3 L1713.8,800.4 Z" fill="#fff" stroke="#000" stroke-width="1.2" />
<path d="M1710.7,794.1 L1710.3,790.8 L1714.1,789.4 L1717.5,790.9 L1716.8,793.5 L1714.3,795.3 Z" fill="#fff" stroke="#000" stroke-width="1.2" />
<path d="M1724.0,790.2 L1725.1,792.2 L1723.2,793.8 L1720.1,793.7 L1718.9,791.3 L1720.7,788.4 Z" fill="#fff" stroke="#000" stroke-width="1.2" />
<path d="M1719.5,780.6 L1722.2,781.9 L1722.2,784.1 L1719.8,783.9 L1718.2,782.8 Z" fill="#fff" stroke="#000" stroke-width="1.2" />
<path d="M1724.8,782.8 L1722.0,781.7 L1720.9,778.8 L1724.7,776.7 L1729.7,778.2 L1729.1,782.4 Z" fill="#fff" stroke="#000" stroke-width="1.2" />
<path d="M1732.4,779.8 L1729.2,781.1 L1725.4,781.5 L1724.8,778.4 L1727.7,776.9 L1730.2,777.7 Z" fill="#fff" stroke="#000" stroke-width="1.2" />
<path d="M1735.9,780.0 L1731.7,781.9 L1728.7,779.2 L1730.8,776.5 L1735.2,776.3 Z" fill="#fff" stroke="#000" stroke-width="1.2" />
<path d="M1734.7,777.7 L1738.6,778.0 L1740.1,780.0 L1739.1,782.0 L1735.7,783.6 L1733.5,780.8 Z" fill="#fff" stroke="#000" stroke-width="1.2" />
<path d="M1740.7,782.4 L1739.9,779.8 L1743.3,777.8 L1745.6,780.3 L1745.1,782.3 L1743.2,783.7 Z" fill="#fff" stroke="#000" stroke-width="1.2" />
<path d="M1745.4,771.0 L1747.3,772.2 L1748.9,774.4 L1745.7,775.0 L1742.7,774.6 L1743.6,772.4 Z" fill="#fff" stroke="#000" stroke-width="1.2" />
<path d="M1747.1,771.4 L1748.1,769.8 L1750.7,769.5 L1752.7,771.3 L1751.5,774.0 L1748.3,772.9 Z" fill="#fff" stroke="#000" stroke-width="1.2" />
<path d="M1758.3,777.2 L1755.3,779.7 L1749.6,777.8 L1751.9,772.7 L1758.6,773.1 Z" fill="#fff" stroke="#000" stroke-width="1.2" />
<path d="M1764.2,767.0 L1762.2,769.3 L1759.1,770.4 L1758.1,767.7 L1760.6,766.0 Z" fill="#fff" stroke="#000" stroke-width="1.2" />
<path d="M1762.0,778.3 L1762.2,776.0 L1763.8,774.0 L1765.5,775.9 L1765.0,777.6 Z" fill="#fff" stroke="#000" stroke-width="1.2" />
<path d="M1767.0,769.9 L1767.9,766.5 L1771.7,768.1 L1772.6,770.5 L1769.3,772.8 Z" fill="#fff" stroke="#000" stroke-width="1.2" />
<path d="M1774.6,774.7 L1772.6,776.3 L1768.0,777.2 L1768.5,773.5 L1770.6,770.5 L1775.7,771.2 Z" fill="#fff" stroke="#000" stroke-width="1.2" />
<path d="M1776.4,780.5 L1773.3,777.8 L1773.7,774.8 L1777.0,774.3 L1781.7,774.6 L1781.8,779.1 Z" fill="#fff" stroke="#000" stroke-width="1.2" />
<path d="M1780.8,771.0 L1782.4,768.4 L1785.4,769.4 L1785.6,771.3 L1783.5,772.3 Z" fill="#fff" stroke="#000" stroke-width="1.2" />
<path d="M1787.8,769.4 L1790.8,770.6 L1790.7,773.0 L1788.2,773.9 L1786.1,773.1 L1785.9,771.2 Z" fill="#fff" stroke="#000" stroke-width="1.2" />
<path d="M1789.6,784.0 L1788.0,783.2 L1787.0,781.5 L1789.5,780.7 L1792.8,781.0 L1792.7,783.8 Z" fill="#fff" stroke="#000" stroke-width="1.2" />
<path d="M1791.9,782.8 L1794.0,781.0 L1796.4,781.8 L1796.7,783.8 L1794.0,784.7 Z" fill="#fff" stroke="#000" stroke-width="1.2" />
<path d="M1804.6,782.8 L1799.8,782.6 L1796.3,780.9 L1797.8,777.8 L1801.9,776.1 L1803.9,779.2 Z" fill="#fff" stroke="#000" stroke-width="1.2" />
<path d="M1798.5,785.4 L1800.4,784.4 L1803.6,784.8 L1802.9,787.2 L1800.6,787.9 L1797.7,787.6 Z" fill="#fff" stroke="#000" stroke-width="1.2" />
<path d="M1811.4,780.8 L1813.4,783.3 L1810.4,784.3 L1808.2,783.8 L1808.7,782.1 Z" fill="#fff" stroke="#000" stroke-width="1.2" />
<path d="M1809.4,788.0 L1809.2,784.7 L1811.8,783.1 L1815.7,782.9 L1817.4,786.3 L1813.4,787.3 Z" fill="#fff" stroke="#000" stroke-width="1.2" />
<path d="M1815.6,793.4 L1813.0,793.6 L1811.3,791.5 L1814.1,789.7 L1816.3,791.5 Z" fill="#fff" stroke="#000" stroke-width="1.2" />
<path d="M1812.7,798.5 L1809.0,796.1 L1812.8,793.3 L1816.0,795.3 L1815.9,797.7 Z" fill="#fff" stroke="#000" stroke-width="1.2" />
<path d="M1821.5,801.9 L1816.9,801.0 L1816.3,798.0 L1819.5,796.5 L1824.2,798.1 Z" fill="#fff" stroke="#000" stroke-width="1.2" />
<path d="M1824.7,799.8 L1824.5,803.2 L1821.7,804.2 L1818.3,803.0 L1820.6,800.7 Z" fill="#fff" stroke="#000" stroke-width="1.2" />
<path d="M1823.6,805.4 L1824.2,802.5 L1826.9,801.7 L1828.9,802.7 L1830.2,804.7 L1827.4,806.4 Z" fill="#fff" stroke="#000" stroke-width="1.2" />
<path d="M1819.5,813.6 L1821.4,811.3 L1825.4,812.0 L1826.2,816.0 L1821.4,815.6 Z" fill="#fff" stroke="#000" stroke-width="1.2" />
<path d="M1835.2,817.0 L1828.1,817.9 L1826.5,813.1 L1830.5,811.3 L1836.4,811.6 Z" fill="#fff" stroke="#000" stroke-width="1.2" />
<path d="M1836.0,820.4 L1832.1,819.4 L1830.0,817.5 L1831.0,814.3 L1835.7,814.2 L1836.4,817.3 Z" fill="#fff" stroke="#000" stroke-width="1.2" />
<path d="M1831.3,824.3 L1827.5,825.7 L1824.8,822.3 L1828.9,821.1 L1832.5,821.5 Z" fill="#fff" stroke="#000" stroke-width="1.2" />
<path d="M1822.9,827.1 L1828.0,825.6 L1830.2,829.1 L1827.8,832.0 L1822.9,831.2 Z" fill="#fff" stroke="#000" stroke-width="1.2" />
<path d="M1837.5,831.9 L1834.5,834.1 L1831.5,832.5 L1831.0,829.4 L1835.7,828.7 Z" fill="#fff" stroke="#000" stroke-width="1.2" />
<path d="M1831.2,838.2 L1827.8,838.0 L1825.7,835.9 L1828.5,833.8 L1831.0,835.6 Z" fill="#fff" stroke="#000" stroke-width="1.2" />
<path d="M1739,729.4 Q1739,715.4 1753,715.4 Q1771,715.4 1771,729.4 L1771,803.5 Q1771,815.5 1781,817.5 Q1793,821.5 1793,835.5 L1793,849.5 Q1793,865.5 1785,865.5 L1755,865.5 Q1739,865.5 1739,851.5 Z" fill="#fff" stroke="#b3a775" stroke-width="1.8" />
<path d="M1739,729.4 Q1739,715.4 1753,715.4 Q1771,715.4 1771,729.4 L1771,803.5 Q1771,815.5 1781,817.5 Q1793,821.5 1793,835.5 L1793,849.5 Q1793,865.5 1785,865.5 L1755,865.5 Q1739,865.5 1739,851.5 Z" fill="none" stroke="#b3a775" stroke-width="1.2" transform="translate(1759.0,790.5) scale(0.9,0.96) translate(-1759.0,-790.5)"/>
<circle cx="1759.5" cy="725.4" r="5.6" fill="#fff" stroke="#000" stroke-width="2.6"/>
<circle cx="1759.5" cy="725.4" r="0.9" fill="#000" stroke="#000" stroke-width="0.5"/>
<circle cx="1751" cy="734.4" r="5.6" fill="#fff" stroke="#000" stroke-width="2.6"/>
<circle cx="1751" cy="734.4" r="0.9" fill="#000" stroke="#000" stroke-width="0.5"/>
<circle cx="1768" cy="734.4" r="5.6" fill="#fff" stroke="#000" stroke-width="2.6"/>
<circle cx="1768" cy="734.4" r="0.9" fill="#000" stroke="#000" stroke-width="0.5"/>
<circle cx="1751" cy="747.3" r="5.6" fill="#fff" stroke="#000" stroke-width="2.6"/>
<circle cx="1751" cy="747.3" r="0.9" fill="#000" stroke="#000" stroke-width="0.5"/>
<circle cx="1768" cy="747.3" r="5.6" fill="#fff" stroke="#000" stroke-width="2.6"/>
<circle cx="1768" cy="747.3" r="0.9" fill="#000" stroke="#000" stroke-width="0.5"/>
<circle cx="1751" cy="760.2" r="5.6" fill="#fff" stroke="#000" stroke-width="2.6"/>
<circle cx="1751" cy="760.2" r="0.9" fill="#000" stroke="#000" stroke-width="0.5"/>
<circle cx="1768" cy="760.2" r="5.6" fill="#fff" stroke="#000" stroke-width="2.6"/>
<circle cx="1768" cy="760.2" r="0.9" fill="#000" stroke="#000" stroke-width="0.5"/>
<circle cx="1751" cy="773.1" r="5.6" fill="#fff" stroke="#000" stroke-width="2.6"/>
<circle cx="1751" cy="773.1" r="0.9" fill="#000" stroke="#000" stroke-width="0.5"/>
<circle cx="1768" cy="773.1" r="5.6" fill="#fff" stroke="#000" stroke-width="2.6"/>
<circle cx="1768" cy="773.1" r="0.9" fill="#000" stroke="#000" stroke-width="0.5"/>
<circle cx="1751" cy="786" r="5.6" fill="#fff" stroke="#000" stroke-width="2.6"/>
<circle cx="1751" cy="786" r="0.9" fill="#000" stroke="#000" stroke-width="0.5"/>
<circle cx="1768" cy="786" r="5.6" fill="#fff" stroke="#000" stroke-width="2.6"/>
<circle cx="1768" cy="786" r="0.9" fill="#000" stroke="#000" stroke-width="0.5"/>
<circle cx="1751" cy="798.9" r="5.6" fill="#fff" stroke="#000" stroke-width="2.6"/>
<circle cx="1751" cy="798.9" r="0.9" fill="#000" stroke="#000" stroke-width="0.5"/>
<circle cx="1768" cy="798.9" r="5.6" fill="#fff" stroke="#000" stroke-width="2.6"/>
<circle cx="1768" cy="798.9" r="0.9" fill="#000" stroke="#000" stroke-width="0.5"/>
<circle cx="1751" cy="811.8" r="5.6" fill="#fff" stroke="#000" stroke-width="2.6"/>
<circle cx="1751" cy="811.8" r="0.9" fill="#000" stroke="#000" stroke-width="0.5"/>
<circle cx="1768" cy="811.8" r="5.6" fill="#fff" stroke="#000" stroke-width="2.6"/>
<circle cx="1768" cy="811.8" r="0.9" fill="#000" stroke="#000" stroke-width="0.5"/>
<circle cx="1751" cy="824.7" r="5.6" fill="#fff" stroke="#000" stroke-width="2.6"/>
<circle cx="1751" cy="824.7" r="0.9" fill="#000" stroke="#000" stroke-width="0.5"/>
<circle cx="1751" cy="837.6" r="5.6" fill="#fff" stroke="#000" stroke-width="2.6"/>
<circle cx="1751" cy="837.6" r="0.9" fill="#000" stroke="#000" stroke-width="0.5"/>
<circle cx="1763.7" cy="823.9" r="3.1" fill="#fff" stroke="#000" stroke-width="1.5"/>
<circle cx="1763.7" cy="823.9" r="0.7" fill="#000" stroke="#000" stroke-width="0.3"/>
<circle cx="1770.3" cy="823.9" r="3.1" fill="#fff" stroke="#000" stroke-width="1.5"/>
<circle cx="1770.3" cy="823.9" r="0.7" fill="#000" stroke="#000" stroke-width="0.3"/>
<circle cx="1753.8" cy="830.1" r="3.1" fill="#fff" stroke="#000" stroke-width="1.5"/>
<circle cx="1753.8" cy="830.1" r="0.7" fill="#000" stroke="#000" stroke-width="0.3"/>
<circle cx="1760.4" cy="830.1" r="3.1" fill="#fff" stroke="#000" stroke-width="1.5"/>
<circle cx="1760.4" cy="830.1" r="0.7" fill="#000" stroke="#000" stroke-width="0.3"/>
<circle cx="1767" cy="830.1" r="3.1" fill="#fff" stroke="#000" stroke-width="1.5"/>
<circle cx="1767" cy="830.1" r="0.7" fill="#000" stroke="#000" stroke-width="0.3"/>
<circle cx="1773.6" cy="830.1" r="3.1" fill="#fff" stroke="#000" stroke-width="1.5"/>
<circle cx="1773.6" cy="830.1" r="0.7" fill="#000" stroke="#000" stroke-width="0.3"/>
<circle cx="1780.2" cy="830.1" r="3.1" fill="#fff" stroke="#000" stroke-width="1.5"/>
<circle cx="1780.2" cy="830.1" r="0.7" fill="#000" stroke="#000" stroke-width="0.3"/>
<circle cx="1750.5" cy="836.3" r="3.1" fill="#fff" stroke="#000" stroke-width="1.5"/>
<circle cx="1750.5" cy="836.3" r="0.7" fill="#000" stroke="#000" stroke-width="0.3"/>
<circle cx="1757.1" cy="836.3" r="3.1" fill="#fff" stroke="#000" stroke-width="1.5"/>
<circle cx="1757.1" cy="836.3" r="0.7" fill="#000" stroke="#000" stroke-width="0.3"/>
<circle cx="1763.7" cy="836.3" r="3.1" fill="#fff" stroke="#000" stroke-width="1.5"/>
<circle cx="1763.7" cy="836.3" r="0.7" fill="#000" stroke="#000" stroke-width="0.3"/>
<circle cx="1770.3" cy="836.3" r="3.1" fill="#fff" stroke="#000" stroke-width="1.5"/>
<circle cx="1770.3" cy="836.3" r="0.7" fill="#000" stroke="#000" stroke-width="0.3"/>
<circle cx="1776.9" cy="836.3" r="3.1" fill="#fff" stroke="#000" stroke-width="1.5"/>
<circle cx="1776.9" cy="836.3" r="0.7" fill="#000" stroke="#000" stroke-width="0.3"/>
<circle cx="1783.5" cy="836.3" r="3.1" fill="#fff" stroke="#000" stroke-width="1.5"/>
<circle cx="1783.5" cy="836.3" r="0.7" fill="#000" stroke="#000" stroke-width="0.3"/>
<circle cx="1747.2" cy="842.5" r="3.1" fill="#fff" stroke="#000" stroke-width="1.5"/>
<circle cx="1747.2" cy="842.5" r="0.7" fill="#000" stroke="#000" stroke-width="0.3"/>
<circle cx="1753.8" cy="842.5" r="3.1" fill="#fff" stroke="#000" stroke-width="1.5"/>
<circle cx="1753.8" cy="842.5" r="0.7" fill="#000" stroke="#000" stroke-width="0.3"/>
<circle cx="1760.4" cy="842.5" r="3.1" fill="#fff" stroke="#000" stroke-width="1.5"/>
<circle cx="1760.4" cy="842.5" r="0.7" fill="#000" stroke="#000" stroke-width="0.3"/>
<circle cx="1767" cy="842.5" r="3.1" fill="#fff" stroke="#000" stroke-width="1.5"/>
<circle cx="1767" cy="842.5" r="0.7" fill="#000" stroke="#000" stroke-width="0.3"/>
<circle cx="1773.6" cy="842.5" r="3.1" fill="#fff" stroke="#000" stroke-width="1.5"/>
<circle cx="1773.6" cy="842.5" r="0.7" fill="#000" stroke="#000" stroke-width="0.3"/>
<circle cx="1780.2" cy="842.5" r="3.1" fill="#fff" stroke="#000" stroke-width="1.5"/>
<circle cx="1780.2" cy="842.5" r="0.7" fill="#000" stroke="#000" stroke-width="0.3"/>
<circle cx="1786.8" cy="842.5" r="3.1" fill="#fff" stroke="#000" stroke-width="1.5"/>
<circle cx="1786.8" cy="842.5" r="0.7" fill="#000" stroke="#000" stroke-width="0.3"/>
<circle cx="1750.5" cy="848.7" r="3.1" fill="#fff" stroke="#000" stroke-width="1.5"/>
<circle cx="1750.5" cy="848.7" r="0.7" fill="#000" stroke="#000" stroke-width="0.3"/>
<circle cx="1757.1" cy="848.7" r="3.1" fill="#fff" stroke="#000" stroke-width="1.5"/>
<circle cx="1757.1" cy="848.7" r="0.7" fill="#000" stroke="#000" stroke-width="0.3"/>
<circle cx="1763.7" cy="848.7" r="3.1" fill="#fff" stroke="#000" stroke-width="1.5"/>
<circle cx="1763.7" cy="848.7" r="0.7" fill="#000" stroke="#000" stroke-width="0.3"/>
<circle cx="1770.3" cy="848.7" r="3.1" fill="#fff" stroke="#000" stroke-width="1.5"/>
<circle cx="1770.3" cy="848.7" r="0.7" fill="#000" stroke="#000" stroke-width="0.3"/>
<circle cx="1776.9" cy="848.7" r="3.1" fill="#fff" stroke="#000" stroke-width="1.5"/>
<circle cx="1776.9" cy="848.7" r="0.7" fill="#000" stroke="#000" stroke-width="0.3"/>
<circle cx="1783.5" cy="848.7" r="3.1" fill="#fff" stroke="#000" stroke-width="1.5"/>
<circle cx="1783.5" cy="848.7" r="0.7" fill="#000" stroke="#000" stroke-width="0.3"/>
<circle cx="1753.8" cy="854.9" r="3.1" fill="#fff" stroke="#000" stroke-width="1.5"/>
<circle cx="1753.8" cy="854.9" r="0.7" fill="#000" stroke="#000" stroke-width="0.3"/>
<circle cx="1760.4" cy="854.9" r="3.1" fill="#fff" stroke="#000" stroke-width="1.5"/>
<circle cx="1760.4" cy="854.9" r="0.7" fill="#000" stroke="#000" stroke-width="0.3"/>
<circle cx="1767" cy="854.9" r="3.1" fill="#fff" stroke="#000" stroke-width="1.5"/>
<circle cx="1767" cy="854.9" r="0.7" fill="#000" stroke="#000" stroke-width="0.3"/>
<circle cx="1773.6" cy="854.9" r="3.1" fill="#fff" stroke="#000" stroke-width="1.5"/>
<circle cx="1773.6" cy="854.9" r="0.7" fill="#000" stroke="#000" stroke-width="0.3"/>
<circle cx="1780.2" cy="854.9" r="3.1" fill="#fff" stroke="#000" stroke-width="1.5"/>
<circle cx="1780.2" cy="854.9" r="0.7" fill="#000" stroke="#000" stroke-width="0.3"/>
<circle cx="1763.7" cy="861.1" r="3.1" fill="#fff" stroke="#000" stroke-width="1.5"/>
<circle cx="1763.7" cy="861.1" r="0.7" fill="#000" stroke="#000" stroke-width="0.3"/>
<circle cx="1770.3" cy="861.1" r="3.1" fill="#fff" stroke="#000" stroke-width="1.5"/>
<circle cx="1770.3" cy="861.1" r="0.7" fill="#000" stroke="#000" stroke-width="0.3"/>
<path d="M1772.9,1456.9 Q1801.7,1472.0 1830.1,1476.0" fill="none" stroke="#9a9a9a" stroke-width="0.9" />
<path d="M1771.5,1459.7 Q1788.6,1486.6 1811.2,1504.0" fill="none" stroke="#9a9a9a" stroke-width="0.9" />
<path d="M1768.9,1461.4 Q1769.8,1493.0 1780.4,1519.0" fill="none" stroke="#9a9a9a" stroke-width="0.9" />
<path d="M1765.8,1461.6 Q1750.3,1489.4 1746.1,1517.0" fill="none" stroke="#9a9a9a" stroke-width="0.9" />
<path d="M1763.0,1460.2 Q1735.2,1476.7 1717.3,1498.6" fill="none" stroke="#9a9a9a" stroke-width="0.9" />
<path d="M1761.3,1457.6 Q1728.6,1458.5 1701.9,1468.8" fill="none" stroke="#9a9a9a" stroke-width="0.9" />
<path d="M1761.1,1454.5 Q1732.3,1439.4 1703.9,1435.4" fill="none" stroke="#9a9a9a" stroke-width="0.9" />
<path d="M1762.5,1451.7 Q1745.4,1424.8 1722.8,1407.4" fill="none" stroke="#9a9a9a" stroke-width="0.9" />
<path d="M1765.1,1450.0 Q1764.2,1418.4 1753.6,1392.4" fill="none" stroke="#9a9a9a" stroke-width="0.9" />
<path d="M1768.2,1449.8 Q1783.7,1422.0 1787.9,1394.4" fill="none" stroke="#9a9a9a" stroke-width="0.9" />
<path d="M1771.0,1451.2 Q1798.8,1434.7 1816.7,1412.8" fill="none" stroke="#9a9a9a" stroke-width="0.9" />
<path d="M1772.7,1453.8 Q1805.4,1452.9 1832.1,1442.6" fill="none" stroke="#9a9a9a" stroke-width="0.9" />
<path d="M1828.2,1457.1 L1829.1,1454.5 L1833.0,1454.9 L1836.3,1457.6 L1832.2,1459.3 L1828.0,1460.5 Z" fill="#fff" stroke="#000" stroke-width="1.2" />
<path d="M1842.0,1462.6 L1840.2,1467.0 L1833.7,1465.9 L1835.0,1461.8 L1838.8,1459.1 Z" fill="#fff" stroke="#000" stroke-width="1.2" />
<path d="M1832.0,1468.8 L1828.6,1467.9 L1826.0,1466.3 L1828.6,1464.7 L1831.2,1464.0 L1833.9,1466.0 Z" fill="#fff" stroke="#000" stroke-width="1.2" />
<path d="M1834.1,1469.3 L1831.8,1470.9 L1827.3,1470.2 L1828.9,1466.5 L1833.9,1465.9 Z" fill="#fff" stroke="#000" stroke-width="1.2" />
<path d="M1834.7,1473.1 L1837.2,1472.0 L1838.8,1474.0 L1837.9,1476.0 L1835.1,1476.8 L1834.4,1474.7 Z" fill="#fff" stroke="#000" stroke-width="1.2" />
<path d="M1831.9,1483.7 L1829.2,1481.4 L1829.9,1479.1 L1832.7,1477.4 L1835.1,1479.3 L1834.3,1481.4 Z" fill="#fff" stroke="#000" stroke-width="1.2" />
<path d="M1821.1,1477.8 L1827.2,1478.3 L1829.5,1482.1 L1825.1,1484.0 L1822.4,1482.0 Z" fill="#fff" stroke="#000" stroke-width="1.2" />
<path d="M1820.0,1483.5 L1824.2,1481.8 L1827.4,1482.6 L1828.0,1485.9 L1823.9,1485.6 Z" fill="#fff" stroke="#000" stroke-width="1.2" />
<path d="M1825.3,1490.6 L1822.4,1489.5 L1823.4,1487.5 L1826.1,1486.6 L1827.3,1488.8 Z" fill="#fff" stroke="#000" stroke-width="1.2" />
<path d="M1830.2,1497.4 L1826.6,1498.8 L1824.2,1496.1 L1826.7,1494.1 L1829.5,1494.9 Z" fill="#fff" stroke="#000" stroke-width="1.2" />
<path d="M1820.3,1495.5 L1825.1,1494.6 L1826.5,1498.5 L1822.5,1499.9 L1817.9,1498.9 Z" fill="#fff" stroke="#000" stroke-width="1.2" />
<path d="M1822.1,1501.4 L1818.3,1501.9 L1815.1,1501.0 L1816.1,1497.5 L1819.9,1498.9 Z" fill="#fff" stroke="#000" stroke-width="1.2" />
<path d="M1816.6,1502.5 L1818.5,1504.1 L1817.4,1506.2 L1814.7,1506.1 L1811.1,1504.9 L1813.0,1501.8 Z" fill="#fff" stroke="#000" stroke-width="1.2" />
<path d="M1801.8,1504.1 L1804.0,1500.9 L1807.8,1500.7 L1809.7,1502.7 L1809.1,1505.2 L1805.9,1505.3 Z" fill="#fff" stroke="#000" stroke-width="1.2" />
<path d="M1808.4,1509.3 L1812.1,1509.5 L1812.8,1512.5 L1810.3,1515.3 L1806.3,1513.8 L1806.0,1511.0 Z" fill="#fff" stroke="#000" stroke-width="1.2" />
<path d="M1808.1,1516.9 L1806.7,1518.3 L1803.8,1518.8 L1802.0,1516.4 L1804.4,1514.4 L1807.2,1515.2 Z" fill="#fff" stroke="#000" stroke-width="1.2" />
<path d="M1795.4,1511.4 L1798.6,1510.9 L1801.4,1512.6 L1799.5,1514.8 L1796.6,1515.9 L1794.4,1513.8 Z" fill="#fff" stroke="#000" stroke-width="1.2" />
<path d="M1793.1,1518.4 L1789.9,1516.7 L1792.5,1514.5 L1796.1,1512.3 L1797.1,1515.8 L1795.8,1517.7 Z" fill="#fff" stroke="#000" stroke-width="1.2" />
<path d="M1796.0,1522.3 L1794.4,1524.7 L1790.9,1523.2 L1791.5,1520.0 L1795.7,1519.5 Z" fill="#fff" stroke="#000" stroke-width="1.2" />
<path d="M1790.1,1517.2 L1790.5,1519.9 L1790.7,1522.6 L1786.6,1523.0 L1784.1,1520.4 L1787.1,1518.7 Z" fill="#fff" stroke="#000" stroke-width="1.2" />
<path d="M1783.2,1514.5 L1785.2,1516.0 L1783.9,1517.9 L1781.5,1517.8 L1780.6,1516.5 L1781.2,1515.3 Z" fill="#fff" stroke="#000" stroke-width="1.2" />
<path d="M1779.3,1518.7 L1777.3,1520.3 L1773.7,1519.7 L1774.9,1516.9 L1778.0,1516.6 Z" fill="#fff" stroke="#000" stroke-width="1.2" />
<path d="M1776.3,1522.8 L1773.6,1525.2 L1768.9,1525.2 L1768.5,1521.6 L1770.7,1518.6 L1775.2,1519.6 Z" fill="#fff" stroke="#000" stroke-width="1.2" />
<path d="M1770.7,1527.3 L1769.0,1527.5 L1767.0,1526.2 L1768.3,1523.9 L1770.8,1525.2 L1772.5,1526.3 Z" fill="#fff" stroke="#000" stroke-width="1.2" />
<path d="M1762.4,1527.7 L1762.3,1525.0 L1764.3,1522.7 L1766.6,1524.9 L1765.7,1526.8 Z" fill="#fff" stroke="#000" stroke-width="1.2" />
<path d="M1762.1,1523.1 L1759.5,1524.2 L1756.8,1523.1 L1757.0,1520.9 L1759.4,1520.2 L1761.5,1521.0 Z" fill="#fff" stroke="#000" stroke-width="1.2" />
<path d="M1757.0,1525.9 L1755.8,1527.1 L1753.0,1527.6 L1752.6,1525.3 L1754.2,1524.0 L1757.1,1523.7 Z" fill="#fff" stroke="#000" stroke-width="1.2" />
<path d="M1751.9,1517.2 L1754.6,1519.1 L1754.5,1521.5 L1751.8,1522.3 L1747.9,1521.9 L1748.4,1518.7 Z" fill="#fff" stroke="#000" stroke-width="1.2" />
<path d="M1745.0,1514.8 L1747.1,1513.2 L1750.8,1514.0 L1749.5,1516.7 L1747.2,1517.7 L1744.7,1516.9 Z" fill="#fff" stroke="#000" stroke-width="1.2" />
<path d="M1740.5,1523.0 L1737.9,1521.9 L1739.2,1520.0 L1741.8,1519.7 L1742.4,1521.6 Z" fill="#fff" stroke="#000" stroke-width="1.2" />
<path d="M1737.8,1518.9 L1735.5,1520.5 L1733.1,1518.8 L1733.5,1516.5 L1736.2,1516.0 L1737.7,1517.3 Z" fill="#fff" stroke="#000" stroke-width="1.2" />
<path d="M1738.5,1510.7 L1736.3,1512.9 L1733.0,1511.3 L1734.1,1508.7 L1737.5,1508.2 Z" fill="#fff" stroke="#000" stroke-width="1.2" />
<path d="M1732.2,1505.0 L1735.8,1507.7 L1735.0,1511.1 L1730.1,1511.6 L1729.1,1508.0 Z" fill="#fff" stroke="#000" stroke-width="1.2" />
<path d="M1723.9,1507.8 L1729.0,1509.0 L1730.4,1512.6 L1727.0,1515.0 L1723.1,1514.0 L1720.9,1511.1 Z" fill="#fff" stroke="#000" stroke-width="1.2" />
<path d="M1722.0,1504.9 L1725.5,1503.9 L1728.2,1506.0 L1727.5,1509.3 L1723.2,1509.6 L1719.8,1507.6 Z" fill="#fff" stroke="#000" stroke-width="1.2" />
<path d="M1718.3,1502.5 L1716.3,1499.2 L1720.7,1498.7 L1724.2,1498.6 L1723.9,1501.3 L1722.0,1504.1 Z" fill="#fff" stroke="#000" stroke-width="1.2" />
<path d="M1712.6,1499.4 L1714.7,1498.0 L1717.4,1498.4 L1718.5,1500.5 L1716.1,1501.8 L1713.7,1501.2 Z" fill="#fff" stroke="#000" stroke-width="1.2" />
<path d="M1715.5,1492.3 L1720.4,1493.5 L1717.1,1496.7 L1713.5,1496.0 L1712.2,1493.5 Z" fill="#fff" stroke="#000" stroke-width="1.2" />
<path d="M1714.4,1488.8 L1717.5,1489.7 L1717.5,1492.1 L1714.2,1493.8 L1711.0,1491.0 Z" fill="#fff" stroke="#000" stroke-width="1.2" />
<path d="M1711.6,1490.7 L1706.6,1490.5 L1706.9,1485.9 L1712.7,1485.2 L1715.0,1488.7 Z" fill="#fff" stroke="#000" stroke-width="1.2" />
<path d="M1705.0,1481.4 L1711.7,1481.0 L1713.0,1485.6 L1709.0,1487.7 L1704.3,1486.1 Z" fill="#fff" stroke="#000" stroke-width="1.2" />
<path d="M1700.8,1486.8 L1698.8,1485.5 L1698.7,1483.3 L1701.4,1482.8 L1702.9,1484.1 L1704.0,1486.3 Z" fill="#fff" stroke="#000" stroke-width="1.2" />
<path d="M1702.3,1478.9 L1703.0,1475.9 L1706.6,1475.9 L1709.2,1478.3 L1705.8,1480.7 Z" fill="#fff" stroke="#000" stroke-width="1.2" />
<path d="M1701.4,1479.4 L1696.1,1479.7 L1695.1,1476.5 L1696.1,1474.5 L1699.9,1471.8 L1702.8,1475.5 Z" fill="#fff" stroke="#000" stroke-width="1.2" />
<path d="M1704.8,1467.6 L1706.4,1469.2 L1706.0,1471.7 L1702.2,1471.1 L1702.7,1468.7 Z" fill="#fff" stroke="#000" stroke-width="1.2" />
<path d="M1701.7,1462.1 L1702.6,1466.0 L1698.2,1466.9 L1694.0,1466.7 L1693.8,1463.3 L1697.1,1460.7 Z" fill="#fff" stroke="#000" stroke-width="1.2" />
<path d="M1694.6,1463.5 L1691.1,1462.6 L1692.7,1460.1 L1696.1,1459.1 L1696.9,1461.9 Z" fill="#fff" stroke="#000" stroke-width="1.2" />
<path d="M1702.9,1456.7 L1700.0,1459.0 L1696.4,1459.0 L1694.4,1456.5 L1696.3,1453.5 L1700.2,1454.5 Z" fill="#fff" stroke="#000" stroke-width="1.2" />
<path d="M1692.3,1451.2 L1694.2,1450.2 L1696.1,1451.7 L1695.5,1454.0 L1692.6,1453.7 L1690.0,1452.6 Z" fill="#fff" stroke="#000" stroke-width="1.2" />
<path d="M1698.1,1444.1 L1702.5,1446.3 L1703.2,1450.7 L1697.4,1450.6 L1694.7,1447.4 Z" fill="#fff" stroke="#000" stroke-width="1.2" />
<path d="M1694.0,1443.9 L1694.1,1440.9 L1697.6,1441.2 L1700.1,1443.2 L1697.1,1444.8 Z" fill="#fff" stroke="#000" stroke-width="1.2" />
<path d="M1700.6,1437.0 L1704.4,1437.6 L1706.0,1439.5 L1704.7,1441.6 L1701.4,1442.3 L1699.2,1440.0 Z" fill="#fff" stroke="#000" stroke-width="1.2" />
<path d="M1704.4,1435.2 L1706.1,1433.2 L1708.8,1434.4 L1709.9,1436.4 L1708.2,1439.7 L1703.8,1438.1 Z" fill="#fff" stroke="#000" stroke-width="1.2" />
<path d="M1696.9,1426.7 L1701.6,1425.3 L1705.1,1428.0 L1704.3,1431.8 L1699.8,1431.8 L1695.8,1430.4 Z" fill="#fff" stroke="#000" stroke-width="1.2" />
<path d="M1705.5,1426.1 L1702.8,1428.1 L1699.9,1426.4 L1701.0,1424.3 L1704.2,1423.5 Z" fill="#fff" stroke="#000" stroke-width="1.2" />
<path d="M1704.9,1422.7 L1705.1,1420.3 L1708.5,1419.6 L1710.9,1422.2 L1707.5,1423.3 Z" fill="#fff" stroke="#000" stroke-width="1.2" />
<path d="M1711.1,1420.5 L1714.0,1419.8 L1715.5,1421.0 L1716.2,1422.5 L1714.2,1423.8 L1711.2,1423.1 Z" fill="#fff" stroke="#000" stroke-width="1.2" />
<path d="M1711.8,1413.1 L1714.7,1413.1 L1715.3,1415.1 L1713.4,1416.2 L1709.8,1415.6 Z" fill="#fff" stroke="#000" stroke-width="1.2" />
<path d="M1711.6,1410.4 L1709.7,1411.7 L1708.5,1409.9 L1708.5,1407.9 L1711.0,1408.1 L1712.1,1409.2 Z" fill="#fff" stroke="#000" stroke-width="1.2" />
<path d="M1721.2,1408.5 L1717.1,1410.5 L1713.5,1408.2 L1712.2,1404.4 L1717.1,1403.9 L1722.2,1404.4 Z" fill="#fff" stroke="#000" stroke-width="1.2" />
<path d="M1726.2,1408.3 L1727.6,1409.3 L1727.2,1411.1 L1724.9,1410.6 L1722.7,1409.6 L1724.2,1408.0 Z" fill="#fff" stroke="#000" stroke-width="1.2" />
<path d="M1723.8,1403.0 L1728.2,1402.4 L1727.9,1406.0 L1724.4,1407.9 L1721.1,1405.3 Z" fill="#fff" stroke="#000" stroke-width="1.2" />
<path d="M1730.2,1398.3 L1732.6,1400.7 L1731.3,1403.0 L1728.1,1405.8 L1724.7,1402.7 L1725.4,1398.9 Z" fill="#fff" stroke="#000" stroke-width="1.2" />
<path d="M1728.4,1395.5 L1732.1,1393.9 L1737.0,1395.4 L1735.0,1399.2 L1731.0,1401.3 L1727.0,1398.8 Z" fill="#fff" stroke="#000" stroke-width="1.2" />
<path d="M1735.8,1394.6 L1733.0,1393.1 L1734.2,1390.1 L1738.6,1390.3 L1737.9,1393.1 Z" fill="#fff" stroke="#000" stroke-width="1.2" />
<path d="M1739.4,1394.9 L1735.3,1392.2 L1736.4,1388.3 L1741.1,1386.3 L1743.9,1389.6 L1742.6,1392.1 Z" fill="#fff" stroke="#000" stroke-width="1.2" />
<path d="M1746.0,1388.8 L1746.5,1390.8 L1743.7,1391.9 L1741.6,1390.4 L1742.3,1388.5 L1744.2,1387.8 Z" fill="#fff" stroke="#000" stroke-width="1.2" />
<path d="M1750.6,1385.1 L1751.9,1388.2 L1750.1,1390.7 L1745.5,1390.0 L1745.7,1386.0 Z" fill="#fff" stroke="#000" stroke-width="1.2" />
<path d="M1754.8,1392.6 L1750.5,1392.6 L1751.0,1389.2 L1754.8,1387.7 L1757.2,1390.4 Z" fill="#fff" stroke="#000" stroke-width="1.2" />
<path d="M1757.6,1394.3 L1756.2,1392.9 L1758.0,1391.2 L1760.0,1392.4 L1761.2,1393.9 L1759.3,1395.0 Z" fill="#fff" stroke="#000" stroke-width="1.2" />
<path d="M1764.6,1393.0 L1765.5,1394.8 L1763.7,1395.8 L1761.2,1396.0 L1760.9,1394.0 L1762.1,1392.1 Z" fill="#fff" stroke="#000" stroke-width="1.2" />
<path d="M1771.5,1386.2 L1768.3,1388.3 L1765.1,1386.5 L1766.0,1383.8 L1770.5,1382.5 Z" fill="#fff" stroke="#000" stroke-width="1.2" />
<path d="M1777.2,1391.2 L1773.3,1393.0 L1770.1,1391.3 L1767.1,1387.9 L1772.3,1386.9 L1776.6,1387.5 Z" fill="#fff" stroke="#000" stroke-width="1.2" />
<path d="M1774.6,1385.5 L1774.3,1381.6 L1780.5,1381.5 L1780.3,1385.5 L1777.4,1386.8 Z" fill="#fff" stroke="#000" stroke-width="1.2" />
<path d="M1781.3,1389.9 L1785.2,1392.0 L1782.3,1395.3 L1777.2,1395.1 L1773.7,1391.8 L1778.4,1389.9 Z" fill="#fff" stroke="#000" stroke-width="1.2" />
<path d="M1783.5,1392.1 L1779.7,1389.4 L1782.8,1386.7 L1786.1,1385.6 L1788.6,1387.9 L1787.1,1390.4 Z" fill="#fff" stroke="#000" stroke-width="1.2" />
<path d="M1787.4,1394.9 L1790.6,1394.4 L1790.2,1396.9 L1787.9,1397.5 L1784.5,1396.5 Z" fill="#fff" stroke="#000" stroke-width="1.2" />
<path d="M1797.5,1392.2 L1793.8,1391.9 L1789.2,1390.4 L1791.4,1386.4 L1796.5,1386.2 L1799.0,1389.1 Z" fill="#fff" stroke="#000" stroke-width="1.2" />
<path d="M1800.8,1394.5 L1798.2,1394.5 L1795.1,1393.3 L1796.8,1390.7 L1800.0,1391.0 L1803.4,1392.3 Z" fill="#fff" stroke="#000" stroke-width="1.2" />
<path d="M1802.0,1397.3 L1802.7,1399.2 L1801.0,1400.8 L1798.7,1399.5 L1798.6,1396.8 Z" fill="#fff" stroke="#000" stroke-width="1.2" />
<path d="M1806.8,1394.5 L1808.9,1394.2 L1809.8,1395.7 L1808.7,1397.1 L1806.8,1397.0 L1805.6,1395.7 Z" fill="#fff" stroke="#000" stroke-width="1.2" />
<path d="M1812.5,1404.2 L1810.9,1400.0 L1811.9,1396.1 L1816.8,1398.0 L1819.1,1402.4 Z" fill="#fff" stroke="#000" stroke-width="1.2" />
<path d="M1817.9,1402.7 L1815.0,1405.0 L1812.1,1403.8 L1811.7,1401.3 L1815.3,1399.7 Z" fill="#fff" stroke="#000" stroke-width="1.2" />
<path d="M1816.5,1405.7 L1818.1,1407.8 L1817.0,1409.3 L1814.9,1409.1 L1813.5,1407.1 Z" fill="#fff" stroke="#000" stroke-width="1.2" />
<path d="M1816.3,1411.4 L1819.3,1412.4 L1819.3,1414.4 L1817.7,1415.4 L1814.9,1415.8 L1814.7,1413.5 Z" fill="#fff" stroke="#000" stroke-width="1.2" />
<path d="M1821.2,1415.7 L1822.4,1420.0 L1818.5,1421.2 L1813.2,1420.7 L1815.7,1416.7 Z" fill="#fff" stroke="#000" stroke-width="1.2" />
<path d="M1821.5,1422.8 L1820.5,1421.2 L1822.0,1419.5 L1824.0,1420.7 L1825.6,1422.1 L1823.7,1423.6 Z" fill="#fff" stroke="#000" stroke-width="1.2" />
<path d="M1825.5,1423.3 L1827.7,1426.0 L1824.4,1427.9 L1820.1,1428.0 L1820.6,1424.9 L1821.6,1421.5 Z" fill="#fff" stroke="#000" stroke-width="1.2" />
<path d="M1827.3,1427.9 L1828.1,1424.8 L1831.4,1426.7 L1832.1,1428.7 L1830.2,1430.1 L1827.5,1429.9 Z" fill="#fff" stroke="#000" stroke-width="1.2" />
<path d="M1826.7,1435.0 L1824.4,1435.4 L1823.6,1433.4 L1825.3,1431.9 L1828.1,1432.1 L1827.9,1434.0 Z" fill="#fff" stroke="#000" stroke-width="1.2" />
<path d="M1832.5,1435.7 L1834.2,1434.1 L1836.3,1434.8 L1836.8,1436.5 L1834.5,1436.9 Z" fill="#fff" stroke="#000" stroke-width="1.2" />
<path d="M1837.5,1437.3 L1840.4,1437.5 L1840.6,1440.2 L1837.6,1440.7 L1835.4,1439.9 L1834.6,1437.6 Z" fill="#fff" stroke="#000" stroke-width="1.2" />
<path d="M1831.4,1446.5 L1829.4,1444.0 L1831.3,1441.2 L1836.6,1440.1 L1838.9,1444.3 L1836.2,1448.2 Z" fill="#fff" stroke="#000" stroke-width="1.2" />
<path d="M1842.2,1448.0 L1840.5,1449.8 L1838.6,1450.4 L1836.6,1449.2 L1837.6,1447.5 L1839.8,1446.9 Z" fill="#fff" stroke="#000" stroke-width="1.2" />
<path d="M1837.7,1454.3 L1832.5,1454.3 L1830.2,1450.7 L1834.5,1448.6 L1838.7,1450.3 Z" fill="#fff" stroke="#000" stroke-width="1.2" />
<path d="M1739,1441 Q1739,1427 1755,1427 L1785,1427 Q1793,1427 1793,1443 L1793,1457 Q1793,1471 1781,1475 Q1771,1477 1771,1489 L1771,1562 Q1771,1576 1753,1576 Q1739,1576 1739,1562 Z" fill="#fff" stroke="#b3a775" stroke-width="1.8" />
<path d="M1739,1441 Q1739,1427 1755,1427 L1785,1427 Q1793,1427 1793,1443 L1793,1457 Q1793,1471 1781,1475 Q1771,1477 1771,1489 L1771,1562 Q1771,1576 1753,1576 Q1739,1576 1739,1562 Z" fill="none" stroke="#b3a775" stroke-width="1.2" transform="translate(1759.0,1501.5) scale(0.9,0.96) translate(-1759.0,-1501.5)"/>
<circle cx="1751" cy="1485" r="5.6" fill="#fff" stroke="#000" stroke-width="2.6"/>
<circle cx="1751" cy="1485" r="0.9" fill="#000" stroke="#000" stroke-width="0.5"/>
<circle cx="1768" cy="1485" r="5.6" fill="#fff" stroke="#000" stroke-width="2.6"/>
<circle cx="1768" cy="1485" r="0.9" fill="#000" stroke="#000" stroke-width="0.5"/>
<circle cx="1751" cy="1497.9" r="5.6" fill="#fff" stroke="#000" stroke-width="2.6"/>
<circle cx="1751" cy="1497.9" r="0.9" fill="#000" stroke="#000" stroke-width="0.5"/>
<circle cx="1768" cy="1497.9" r="5.6" fill="#fff" stroke="#000" stroke-width="2.6"/>
<circle cx="1768" cy="1497.9" r="0.9" fill="#000" stroke="#000" stroke-width="0.5"/>
<circle cx="1751" cy="1510.8" r="5.6" fill="#fff" stroke="#000" stroke-width="2.6"/>
<circle cx="1751" cy="1510.8" r="0.9" fill="#000" stroke="#000" stroke-width="0.5"/>
<circle cx="1768" cy="1510.8" r="5.6" fill="#fff" stroke="#000" stroke-width="2.6"/>
<circle cx="1768" cy="1510.8" r="0.9" fill="#000" stroke="#000" stroke-width="0.5"/>
<circle cx="1751" cy="1523.7" r="5.6" fill="#fff" stroke="#000" stroke-width="2.6"/>
<circle cx="1751" cy="1523.7" r="0.9" fill="#000" stroke="#000" stroke-width="0.5"/>
<circle cx="1768" cy="1523.7" r="5.6" fill="#fff" stroke="#000" stroke-width="2.6"/>
<circle cx="1768" cy="1523.7" r="0.9" fill="#000" stroke="#000" stroke-width="0.5"/>
<circle cx="1751" cy="1536.6" r="5.6" fill="#fff" stroke="#000" stroke-width="2.6"/>
<circle cx="1751" cy="1536.6" r="0.9" fill="#000" stroke="#000" stroke-width="0.5"/>
<circle cx="1768" cy="1536.6" r="5.6" fill="#fff" stroke="#000" stroke-width="2.6"/>
<circle cx="1768" cy="1536.6" r="0.9" fill="#000" stroke="#000" stroke-width="0.5"/>
<circle cx="1751" cy="1549.5" r="5.6" fill="#fff" stroke="#000" stroke-width="2.6"/>
<circle cx="1751" cy="1549.5" r="0.9" fill="#000" stroke="#000" stroke-width="0.5"/>
<circle cx="1768" cy="1549.5" r="5.6" fill="#fff" stroke="#000" stroke-width="2.6"/>
<circle cx="1768" cy="1549.5" r="0.9" fill="#000" stroke="#000" stroke-width="0.5"/>
<circle cx="1751" cy="1562.4" r="5.6" fill="#fff" stroke="#000" stroke-width="2.6"/>
<circle cx="1751" cy="1562.4" r="0.9" fill="#000" stroke="#000" stroke-width="0.5"/>
<circle cx="1768" cy="1562.4" r="5.6" fill="#fff" stroke="#000" stroke-width="2.6"/>
<circle cx="1768" cy="1562.4" r="0.9" fill="#000" stroke="#000" stroke-width="0.5"/>
<circle cx="1759.5" cy="1566" r="5.6" fill="#fff" stroke="#000" stroke-width="2.6"/>
<circle cx="1759.5" cy="1566" r="0.9" fill="#000" stroke="#000" stroke-width="0.5"/>
<circle cx="1751" cy="1475" r="5.6" fill="#fff" stroke="#000" stroke-width="2.6"/>
<circle cx="1751" cy="1475" r="0.9" fill="#000" stroke="#000" stroke-width="0.5"/>
<circle cx="1763.7" cy="1431.4" r="3.1" fill="#fff" stroke="#000" stroke-width="1.5"/>
<circle cx="1763.7" cy="1431.4" r="0.7" fill="#000" stroke="#000" stroke-width="0.3"/>
<circle cx="1770.3" cy="1431.4" r="3.1" fill="#fff" stroke="#000" stroke-width="1.5"/>
<circle cx="1770.3" cy="1431.4" r="0.7" fill="#000" stroke="#000" stroke-width="0.3"/>
<circle cx="1753.8" cy="1437.6" r="3.1" fill="#fff" stroke="#000" stroke-width="1.5"/>
<circle cx="1753.8" cy="1437.6" r="0.7" fill="#000" stroke="#000" stroke-width="0.3"/>
<circle cx="1760.4" cy="1437.6" r="3.1" fill="#fff" stroke="#000" stroke-width="1.5"/>
<circle cx="1760.4" cy="1437.6" r="0.7" fill="#000" stroke="#000" stroke-width="0.3"/>
<circle cx="1767" cy="1437.6" r="3.1" fill="#fff" stroke="#000" stroke-width="1.5"/>
<circle cx="1767" cy="1437.6" r="0.7" fill="#000" stroke="#000" stroke-width="0.3"/>
<circle cx="1773.6" cy="1437.6" r="3.1" fill="#fff" stroke="#000" stroke-width="1.5"/>
<circle cx="1773.6" cy="1437.6" r="0.7" fill="#000" stroke="#000" stroke-width="0.3"/>
<circle cx="1780.2" cy="1437.6" r="3.1" fill="#fff" stroke="#000" stroke-width="1.5"/>
<circle cx="1780.2" cy="1437.6" r="0.7" fill="#000" stroke="#000" stroke-width="0.3"/>
<circle cx="1750.5" cy="1443.8" r="3.1" fill="#fff" stroke="#000" stroke-width="1.5"/>
<circle cx="1750.5" cy="1443.8" r="0.7" fill="#000" stroke="#000" stroke-width="0.3"/>
<circle cx="1757.1" cy="1443.8" r="3.1" fill="#fff" stroke="#000" stroke-width="1.5"/>
<circle cx="1757.1" cy="1443.8" r="0.7" fill="#000" stroke="#000" stroke-width="0.3"/>
<circle cx="1763.7" cy="1443.8" r="3.1" fill="#fff" stroke="#000" stroke-width="1.5"/>
<circle cx="1763.7" cy="1443.8" r="0.7" fill="#000" stroke="#000" stroke-width="0.3"/>
<circle cx="1770.3" cy="1443.8" r="3.1" fill="#fff" stroke="#000" stroke-width="1.5"/>
<circle cx="1770.3" cy="1443.8" r="0.7" fill="#000" stroke="#000" stroke-width="0.3"/>
<circle cx="1776.9" cy="1443.8" r="3.1" fill="#fff" stroke="#000" stroke-width="1.5"/>
<circle cx="1776.9" cy="1443.8" r="0.7" fill="#000" stroke="#000" stroke-width="0.3"/>
<circle cx="1783.5" cy="1443.8" r="3.1" fill="#fff" stroke="#000" stroke-width="1.5"/>
<circle cx="1783.5" cy="1443.8" r="0.7" fill="#000" stroke="#000" stroke-width="0.3"/>
<circle cx="1747.2" cy="1450" r="3.1" fill="#fff" stroke="#000" stroke-width="1.5"/>
<circle cx="1747.2" cy="1450" r="0.7" fill="#000" stroke="#000" stroke-width="0.3"/>
<circle cx="1753.8" cy="1450" r="3.1" fill="#fff" stroke="#000" stroke-width="1.5"/>
<circle cx="1753.8" cy="1450" r="0.7" fill="#000" stroke="#000" stroke-width="0.3"/>
<circle cx="1760.4" cy="1450" r="3.1" fill="#fff" stroke="#000" stroke-width="1.5"/>
<circle cx="1760.4" cy="1450" r="0.7" fill="#000" stroke="#000" stroke-width="0.3"/>
<circle cx="1767" cy="1450" r="3.1" fill="#fff" stroke="#000" stroke-width="1.5"/>
<circle cx="1767" cy="1450" r="0.7" fill="#000" stroke="#000" stroke-width="0.3"/>
<circle cx="1773.6" cy="1450" r="3.1" fill="#fff" stroke="#000" stroke-width="1.5"/>
<circle cx="1773.6" cy="1450" r="0.7" fill="#000" stroke="#000" stroke-width="0.3"/>
<circle cx="1780.2" cy="1450" r="3.1" fill="#fff" stroke="#000" stroke-width="1.5"/>
<circle cx="1780.2" cy="1450" r="0.7" fill="#000" stroke="#000" stroke-width="0.3"/>
<circle cx="1786.8" cy="1450" r="3.1" fill="#fff" stroke="#000" stroke-width="1.5"/>
<circle cx="1786.8" cy="1450" r="0.7" fill="#000" stroke="#000" stroke-width="0.3"/>
<circle cx="1750.5" cy="1456.2" r="3.1" fill="#fff" stroke="#000" stroke-width="1.5"/>
<circle cx="1750.5" cy="1456.2" r="0.7" fill="#000" stroke="#000" stroke-width="0.3"/>
<circle cx="1757.1" cy="1456.2" r="3.1" fill="#fff" stroke="#000" stroke-width="1.5"/>
<circle cx="1757.1" cy="1456.2" r="0.7" fill="#000" stroke="#000" stroke-width="0.3"/>
<circle cx="1763.7" cy="1456.2" r="3.1" fill="#fff" stroke="#000" stroke-width="1.5"/>
<circle cx="1763.7" cy="1456.2" r="0.7" fill="#000" stroke="#000" stroke-width="0.3"/>
<circle cx="1770.3" cy="1456.2" r="3.1" fill="#fff" stroke="#000" stroke-width="1.5"/>
<circle cx="1770.3" cy="1456.2" r="0.7" fill="#000" stroke="#000" stroke-width="0.3"/>
<circle cx="1776.9" cy="1456.2" r="3.1" fill="#fff" stroke="#000" stroke-width="1.5"/>
<circle cx="1776.9" cy="1456.2" r="0.7" fill="#000" stroke="#000" stroke-width="0.3"/>
<circle cx="1783.5" cy="1456.2" r="3.1" fill="#fff" stroke="#000" stroke-width="1.5"/>
<circle cx="1783.5" cy="1456.2" r="0.7" fill="#000" stroke="#000" stroke-width="0.3"/>
<circle cx="1753.8" cy="1462.4" r="3.1" fill="#fff" stroke="#000" stroke-width="1.5"/>
<circle cx="1753.8" cy="1462.4" r="0.7" fill="#000" stroke="#000" stroke-width="0.3"/>
<circle cx="1760.4" cy="1462.4" r="3.1" fill="#fff" stroke="#000" stroke-width="1.5"/>
<circle cx="1760.4" cy="1462.4" r="0.7" fill="#000" stroke="#000" stroke-width="0.3"/>
<circle cx="1767" cy="1462.4" r="3.1" fill="#fff" stroke="#000" stroke-width="1.5"/>
<circle cx="1767" cy="1462.4" r="0.7" fill="#000" stroke="#000" stroke-width="0.3"/>
<circle cx="1773.6" cy="1462.4" r="3.1" fill="#fff" stroke="#000" stroke-width="1.5"/>
<circle cx="1773.6" cy="1462.4" r="0.7" fill="#000" stroke="#000" stroke-width="0.3"/>
<circle cx="1780.2" cy="1462.4" r="3.1" fill="#fff" stroke="#000" stroke-width="1.5"/>
<circle cx="1780.2" cy="1462.4" r="0.7" fill="#000" stroke="#000" stroke-width="0.3"/>
<circle cx="1763.7" cy="1468.6" r="3.1" fill="#fff" stroke="#000" stroke-width="1.5"/>
<circle cx="1763.7" cy="1468.6" r="0.7" fill="#000" stroke="#000" stroke-width="0.3"/>
<circle cx="1770.3" cy="1468.6" r="3.1" fill="#fff" stroke="#000" stroke-width="1.5"/>
<circle cx="1770.3" cy="1468.6" r="0.7" fill="#000" stroke="#000" stroke-width="0.3"/>
<path d="M1772.9,1792.0 Q1801.7,1806.6 1830.1,1810.5" fill="none" stroke="#9a9a9a" stroke-width="0.9" />
<path d="M1771.5,1794.8 Q1788.6,1820.8 1811.2,1837.6" fill="none" stroke="#9a9a9a" stroke-width="0.9" />
<path d="M1768.9,1796.5 Q1769.8,1827.0 1780.4,1852.2" fill="none" stroke="#9a9a9a" stroke-width="0.9" />
<path d="M1765.8,1796.7 Q1750.3,1823.5 1746.1,1850.3" fill="none" stroke="#9a9a9a" stroke-width="0.9" />
<path d="M1763.0,1795.3 Q1735.2,1811.2 1717.3,1832.5" fill="none" stroke="#9a9a9a" stroke-width="0.9" />
<path d="M1761.3,1792.7 Q1728.6,1793.5 1701.9,1803.5" fill="none" stroke="#9a9a9a" stroke-width="0.9" />
<path d="M1761.1,1789.6 Q1732.3,1775.0 1703.9,1771.1" fill="none" stroke="#9a9a9a" stroke-width="0.9" />
<path d="M1762.5,1786.8 Q1745.4,1760.8 1722.8,1744.0" fill="none" stroke="#9a9a9a" stroke-width="0.9" />
<path d="M1765.1,1785.1 Q1764.2,1754.6 1753.6,1729.4" fill="none" stroke="#9a9a9a" stroke-width="0.9" />
<path d="M1768.2,1784.9 Q1783.7,1758.1 1787.9,1731.3" fill="none" stroke="#9a9a9a" stroke-width="0.9" />
<path d="M1771.0,1786.3 Q1798.8,1770.4 1816.7,1749.1" fill="none" stroke="#9a9a9a" stroke-width="0.9" />
<path d="M1772.7,1788.9 Q1805.4,1788.1 1832.1,1778.1" fill="none" stroke="#9a9a9a" stroke-width="0.9" />
<path d="M1839.6,1795.3 L1838.1,1793.9 L1837.9,1792.1 L1840.2,1790.8 L1842.2,1792.4 L1841.4,1794.1 Z" fill="#fff" stroke="#000" stroke-width="1.2" />
<path d="M1832.9,1800.0 L1831.3,1796.3 L1833.2,1792.7 L1839.7,1793.7 L1838.2,1798.5 Z" fill="#fff" stroke="#000" stroke-width="1.2" />
<path d="M1836.4,1801.4 L1833.2,1802.0 L1831.2,1799.6 L1834.0,1797.7 L1837.1,1798.9 Z" fill="#fff" stroke="#000" stroke-width="1.2" />
<path d="M1830.4,1802.3 L1834.4,1801.3 L1838.8,1801.7 L1838.5,1805.2 L1835.1,1807.3 L1830.9,1805.9 Z" fill="#fff" stroke="#000" stroke-width="1.2" />
<path d="M1828.2,1808.2 L1830.1,1806.0 L1832.4,1807.6 L1832.8,1809.6 L1829.4,1810.9 Z" fill="#fff" stroke="#000" stroke-width="1.2" />
<path d="M1835.2,1812.4 L1833.9,1815.5 L1830.3,1813.9 L1830.3,1811.6 L1833.3,1809.3 Z" fill="#fff" stroke="#000" stroke-width="1.2" />
<path d="M1825.1,1813.2 L1827.6,1814.2 L1828.2,1817.5 L1823.4,1817.5 L1823.0,1814.6 Z" fill="#fff" stroke="#000" stroke-width="1.2" />
<path d="M1829.3,1816.7 L1830.4,1820.1 L1828.4,1823.0 L1823.8,1822.6 L1821.9,1819.4 L1824.9,1817.1 Z" fill="#fff" stroke="#000" stroke-width="1.2" />
<path d="M1829.0,1824.8 L1831.9,1828.1 L1826.5,1830.0 L1822.7,1827.0 L1824.2,1822.3 Z" fill="#fff" stroke="#000" stroke-width="1.2" />
<path d="M1819.2,1826.0 L1822.8,1824.7 L1825.9,1826.6 L1826.0,1830.1 L1821.6,1830.5 L1818.6,1828.9 Z" fill="#fff" stroke="#000" stroke-width="1.2" />
<path d="M1821.0,1829.0 L1822.1,1831.1 L1820.1,1832.5 L1817.7,1832.5 L1816.9,1830.7 L1817.9,1828.6 Z" fill="#fff" stroke="#000" stroke-width="1.2" />
<path d="M1816.9,1828.3 L1819.6,1833.2 L1813.9,1834.6 L1809.8,1833.1 L1810.1,1828.4 Z" fill="#fff" stroke="#000" stroke-width="1.2" />
<path d="M1815.4,1831.9 L1814.3,1835.5 L1809.4,1837.0 L1807.9,1833.2 L1810.8,1830.7 Z" fill="#fff" stroke="#000" stroke-width="1.2" />
<path d="M1807.1,1842.6 L1806.0,1839.7 L1808.3,1837.8 L1810.8,1838.7 L1812.4,1840.3 L1810.7,1842.1 Z" fill="#fff" stroke="#000" stroke-width="1.2" />
<path d="M1803.3,1844.3 L1804.7,1841.0 L1810.0,1839.8 L1811.3,1843.7 L1810.0,1846.8 L1805.2,1847.8 Z" fill="#fff" stroke="#000" stroke-width="1.2" />
<path d="M1799.8,1843.4 L1800.4,1839.4 L1806.0,1840.2 L1808.7,1843.9 L1805.8,1848.0 L1799.6,1847.4 Z" fill="#fff" stroke="#000" stroke-width="1.2" />
<path d="M1795.5,1844.5 L1796.7,1843.0 L1799.5,1842.4 L1801.0,1844.6 L1799.1,1846.3 L1795.7,1847.2 Z" fill="#fff" stroke="#000" stroke-width="1.2" />
<path d="M1791.6,1848.1 L1790.9,1845.7 L1791.2,1843.8 L1794.4,1842.5 L1796.4,1845.0 L1795.3,1847.6 Z" fill="#fff" stroke="#000" stroke-width="1.2" />
<path d="M1789.7,1848.8 L1794.8,1847.9 L1795.6,1851.9 L1792.0,1853.6 L1789.5,1851.7 Z" fill="#fff" stroke="#000" stroke-width="1.2" />
<path d="M1789.9,1856.8 L1786.5,1856.8 L1786.2,1854.1 L1789.1,1852.7 L1790.3,1854.8 Z" fill="#fff" stroke="#000" stroke-width="1.2" />
<path d="M1783.2,1857.7 L1782.0,1856.0 L1783.7,1854.8 L1787.0,1853.8 L1787.8,1856.6 L1785.6,1858.2 Z" fill="#fff" stroke="#000" stroke-width="1.2" />
<path d="M1775.2,1852.2 L1778.0,1851.6 L1780.3,1852.4 L1779.7,1854.2 L1778.0,1854.6 L1775.2,1854.7 Z" fill="#fff" stroke="#000" stroke-width="1.2" />
<path d="M1770.8,1856.8 L1766.6,1854.2 L1769.5,1850.7 L1774.4,1849.0 L1775.9,1852.8 L1775.1,1855.7 Z" fill="#fff" stroke="#000" stroke-width="1.2" />
<path d="M1764.7,1852.8 L1766.9,1851.0 L1769.3,1850.9 L1771.1,1852.3 L1769.7,1854.0 L1766.7,1855.4 Z" fill="#fff" stroke="#000" stroke-width="1.2" />
<path d="M1763.3,1857.3 L1763.4,1855.7 L1764.7,1854.7 L1767.4,1854.5 L1767.2,1856.7 L1765.5,1857.7 Z" fill="#fff" stroke="#000" stroke-width="1.2" />
<path d="M1759.7,1851.3 L1762.4,1851.7 L1764.1,1853.9 L1760.9,1854.5 L1758.7,1853.3 Z" fill="#fff" stroke="#000" stroke-width="1.2" />
<path d="M1756.2,1848.7 L1758.3,1850.1 L1757.9,1852.8 L1754.3,1852.7 L1750.9,1851.2 L1753.6,1849.0 Z" fill="#fff" stroke="#000" stroke-width="1.2" />
<path d="M1752.0,1855.3 L1748.7,1855.0 L1746.2,1852.9 L1749.5,1851.2 L1752.1,1852.6 Z" fill="#fff" stroke="#000" stroke-width="1.2" />
<path d="M1749.0,1855.4 L1746.3,1856.0 L1744.7,1854.3 L1744.6,1852.1 L1747.6,1852.0 L1750.0,1853.2 Z" fill="#fff" stroke="#000" stroke-width="1.2" />
<path d="M1744.8,1852.0 L1741.0,1850.7 L1739.8,1847.9 L1743.3,1847.5 L1746.3,1848.9 Z" fill="#fff" stroke="#000" stroke-width="1.2" />
<path d="M1737.6,1851.4 L1736.4,1849.5 L1737.7,1847.1 L1740.7,1848.6 L1740.7,1851.0 Z" fill="#fff" stroke="#000" stroke-width="1.2" />
<path d="M1734.1,1851.7 L1730.8,1851.7 L1726.8,1850.4 L1728.3,1846.8 L1732.8,1846.7 L1735.7,1848.9 Z" fill="#fff" stroke="#000" stroke-width="1.2" />
<path d="M1726.8,1848.9 L1726.5,1846.8 L1727.8,1845.5 L1730.9,1844.6 L1732.0,1847.3 L1730.0,1849.3 Z" fill="#fff" stroke="#000" stroke-width="1.2" />
<path d="M1729.7,1841.5 L1728.7,1839.7 L1729.8,1838.0 L1732.9,1838.4 L1732.1,1840.7 Z" fill="#fff" stroke="#000" stroke-width="1.2" />
<path d="M1717.5,1841.7 L1719.3,1838.3 L1723.0,1838.7 L1726.6,1841.2 L1722.2,1844.0 Z" fill="#fff" stroke="#000" stroke-width="1.2" />
<path d="M1726.8,1835.2 L1724.2,1836.7 L1719.6,1837.1 L1720.2,1833.6 L1722.2,1830.1 L1727.2,1831.7 Z" fill="#fff" stroke="#000" stroke-width="1.2" />
<path d="M1716.8,1834.8 L1717.8,1836.6 L1717.8,1839.5 L1714.1,1838.7 L1711.3,1836.7 L1713.6,1834.2 Z" fill="#fff" stroke="#000" stroke-width="1.2" />
<path d="M1714.2,1834.0 L1710.0,1835.6 L1706.4,1833.7 L1707.3,1829.7 L1711.8,1831.2 Z" fill="#fff" stroke="#000" stroke-width="1.2" />
<path d="M1714.2,1827.6 L1709.7,1826.3 L1710.9,1822.6 L1714.8,1821.3 L1717.4,1823.4 L1716.7,1825.6 Z" fill="#fff" stroke="#000" stroke-width="1.2" />
<path d="M1711.4,1825.9 L1707.7,1826.1 L1707.1,1823.6 L1709.1,1822.3 L1711.9,1823.2 Z" fill="#fff" stroke="#000" stroke-width="1.2" />
<path d="M1703.5,1821.5 L1704.6,1824.0 L1701.2,1824.7 L1697.9,1823.0 L1700.5,1820.4 Z" fill="#fff" stroke="#000" stroke-width="1.2" />
<path d="M1702.7,1815.5 L1703.8,1811.9 L1708.0,1812.6 L1710.4,1814.0 L1709.6,1816.5 L1706.4,1816.8 Z" fill="#fff" stroke="#000" stroke-width="1.2" />
<path d="M1703.3,1813.3 L1703.3,1811.6 L1705.6,1810.8 L1707.5,1812.2 L1706.7,1813.9 L1704.8,1814.3 Z" fill="#fff" stroke="#000" stroke-width="1.2" />
<path d="M1695.0,1807.1 L1699.8,1809.6 L1698.3,1812.7 L1694.5,1814.1 L1692.3,1810.9 Z" fill="#fff" stroke="#000" stroke-width="1.2" />
<path d="M1698.1,1803.7 L1700.8,1803.1 L1702.2,1805.0 L1700.8,1806.4 L1698.9,1806.6 L1698.0,1805.4 Z" fill="#fff" stroke="#000" stroke-width="1.2" />
<path d="M1698.2,1805.2 L1692.2,1804.6 L1691.4,1799.6 L1697.0,1799.4 L1701.5,1801.5 Z" fill="#fff" stroke="#000" stroke-width="1.2" />
<path d="M1697.0,1793.4 L1698.6,1795.6 L1696.3,1797.7 L1693.4,1796.2 L1693.1,1793.2 Z" fill="#fff" stroke="#000" stroke-width="1.2" />
<path d="M1705.3,1789.3 L1708.3,1791.9 L1706.3,1795.3 L1702.0,1794.7 L1699.9,1792.5 L1702.0,1790.5 Z" fill="#fff" stroke="#000" stroke-width="1.2" />
<path d="M1698.8,1789.4 L1695.9,1790.1 L1695.8,1787.9 L1696.7,1786.8 L1698.7,1786.3 L1699.5,1787.8 Z" fill="#fff" stroke="#000" stroke-width="1.2" />
<path d="M1705.4,1780.2 L1707.9,1782.4 L1708.0,1785.7 L1703.5,1786.5 L1700.6,1784.1 L1701.7,1781.2 Z" fill="#fff" stroke="#000" stroke-width="1.2" />
<path d="M1699.6,1781.1 L1695.7,1781.5 L1693.2,1778.8 L1695.8,1776.2 L1699.3,1776.5 L1700.7,1778.7 Z" fill="#fff" stroke="#000" stroke-width="1.2" />
<path d="M1705.0,1771.6 L1707.0,1776.2 L1702.5,1778.9 L1697.1,1778.5 L1697.8,1774.8 L1699.2,1771.4 Z" fill="#fff" stroke="#000" stroke-width="1.2" />
<path d="M1700.1,1771.4 L1702.2,1769.1 L1705.3,1768.7 L1708.8,1770.6 L1705.5,1772.5 L1703.0,1773.0 Z" fill="#fff" stroke="#000" stroke-width="1.2" />
<path d="M1702.3,1767.8 L1701.9,1765.9 L1703.4,1764.5 L1705.9,1764.9 L1706.4,1766.8 L1704.6,1767.7 Z" fill="#fff" stroke="#000" stroke-width="1.2" />
<path d="M1702.8,1760.0 L1703.2,1762.4 L1700.6,1764.5 L1698.0,1762.2 L1699.0,1759.3 Z" fill="#fff" stroke="#000" stroke-width="1.2" />
<path d="M1706.2,1759.9 L1709.5,1758.3 L1713.0,1758.8 L1712.0,1761.4 L1708.7,1762.7 Z" fill="#fff" stroke="#000" stroke-width="1.2" />
<path d="M1713.9,1756.9 L1708.9,1757.7 L1707.1,1754.8 L1706.0,1751.6 L1710.5,1751.4 L1712.6,1753.4 Z" fill="#fff" stroke="#000" stroke-width="1.2" />
<path d="M1713.0,1748.3 L1715.8,1750.0 L1714.2,1753.0 L1710.7,1751.8 L1708.6,1748.8 Z" fill="#fff" stroke="#000" stroke-width="1.2" />
<path d="M1719.7,1748.2 L1720.7,1752.4 L1715.4,1753.5 L1711.2,1750.6 L1714.4,1746.7 Z" fill="#fff" stroke="#000" stroke-width="1.2" />
<path d="M1714.0,1741.4 L1716.9,1742.7 L1718.4,1744.3 L1717.2,1746.6 L1713.3,1746.7 L1712.0,1743.9 Z" fill="#fff" stroke="#000" stroke-width="1.2" />
<path d="M1720.4,1741.0 L1723.1,1741.8 L1721.7,1744.0 L1719.2,1743.8 L1717.9,1742.6 L1718.2,1740.9 Z" fill="#fff" stroke="#000" stroke-width="1.2" />
<path d="M1727.7,1739.9 L1724.5,1739.8 L1722.6,1738.3 L1724.7,1736.8 L1727.7,1737.2 Z" fill="#fff" stroke="#000" stroke-width="1.2" />
<path d="M1728.7,1736.5 L1734.3,1736.9 L1733.5,1740.7 L1732.1,1743.2 L1728.7,1742.4 L1726.4,1739.9 Z" fill="#fff" stroke="#000" stroke-width="1.2" />
<path d="M1732.9,1729.7 L1734.0,1731.8 L1732.3,1733.4 L1730.3,1732.3 L1729.6,1730.1 Z" fill="#fff" stroke="#000" stroke-width="1.2" />
<path d="M1733.0,1731.4 L1729.7,1728.7 L1733.9,1726.4 L1736.7,1728.6 L1736.4,1731.0 Z" fill="#fff" stroke="#000" stroke-width="1.2" />
<path d="M1739.1,1732.9 L1736.8,1730.5 L1740.6,1729.0 L1742.7,1731.0 L1742.5,1733.8 Z" fill="#fff" stroke="#000" stroke-width="1.2" />
<path d="M1747.5,1735.4 L1745.3,1734.5 L1746.1,1732.7 L1748.2,1731.6 L1750.3,1733.0 L1750.5,1735.4 Z" fill="#fff" stroke="#000" stroke-width="1.2" />
<path d="M1754.9,1730.3 L1755.7,1733.5 L1753.0,1735.7 L1749.6,1734.6 L1748.9,1732.2 L1750.6,1729.5 Z" fill="#fff" stroke="#000" stroke-width="1.2" />
<path d="M1754.2,1719.1 L1757.7,1721.9 L1756.1,1725.4 L1751.6,1724.6 L1750.1,1721.4 Z" fill="#fff" stroke="#000" stroke-width="1.2" />
<path d="M1761.6,1731.1 L1759.6,1733.3 L1756.7,1732.5 L1756.5,1730.3 L1759.2,1729.2 Z" fill="#fff" stroke="#000" stroke-width="1.2" />
<path d="M1757.8,1732.7 L1759.9,1729.2 L1764.0,1729.4 L1765.0,1732.1 L1762.2,1734.4 Z" fill="#fff" stroke="#000" stroke-width="1.2" />
<path d="M1764.2,1726.8 L1762.9,1723.6 L1765.6,1722.0 L1768.2,1722.0 L1770.5,1723.9 L1769.0,1727.1 Z" fill="#fff" stroke="#000" stroke-width="1.2" />
<path d="M1774.6,1724.4 L1772.0,1726.7 L1769.3,1724.6 L1769.1,1722.5 L1771.4,1721.7 L1773.6,1722.2 Z" fill="#fff" stroke="#000" stroke-width="1.2" />
<path d="M1776.9,1726.7 L1773.0,1726.1 L1773.4,1723.1 L1776.6,1722.9 L1779.2,1724.5 Z" fill="#fff" stroke="#000" stroke-width="1.2" />
<path d="M1783.8,1725.5 L1784.0,1727.0 L1782.7,1728.1 L1780.4,1728.0 L1779.2,1726.0 L1781.5,1724.6 Z" fill="#fff" stroke="#000" stroke-width="1.2" />
<path d="M1783.7,1729.9 L1786.8,1729.2 L1788.1,1731.4 L1786.6,1732.9 L1784.2,1733.7 L1783.4,1731.8 Z" fill="#fff" stroke="#000" stroke-width="1.2" />
<path d="M1789.1,1734.0 L1787.3,1732.2 L1785.3,1729.6 L1789.4,1728.7 L1793.4,1729.8 L1791.2,1732.4 Z" fill="#fff" stroke="#000" stroke-width="1.2" />
<path d="M1796.3,1730.6 L1792.7,1731.4 L1793.0,1728.6 L1795.2,1726.3 L1797.8,1728.6 Z" fill="#fff" stroke="#000" stroke-width="1.2" />
<path d="M1795.9,1730.8 L1798.9,1729.0 L1801.1,1731.3 L1801.8,1734.2 L1797.9,1735.5 L1794.4,1733.6 Z" fill="#fff" stroke="#000" stroke-width="1.2" />
<path d="M1802.1,1735.9 L1796.8,1733.0 L1801.4,1730.0 L1805.0,1730.8 L1806.9,1734.0 Z" fill="#fff" stroke="#000" stroke-width="1.2" />
<path d="M1808.3,1738.1 L1806.0,1736.2 L1805.9,1734.6 L1807.4,1733.5 L1809.4,1734.2 L1810.7,1736.1 Z" fill="#fff" stroke="#000" stroke-width="1.2" />
<path d="M1809.3,1744.8 L1804.1,1746.0 L1801.6,1741.2 L1807.2,1740.0 L1810.0,1741.9 Z" fill="#fff" stroke="#000" stroke-width="1.2" />
<path d="M1808.7,1742.8 L1814.3,1741.4 L1815.8,1745.9 L1811.8,1748.2 L1805.9,1747.0 Z" fill="#fff" stroke="#000" stroke-width="1.2" />
<path d="M1814.6,1744.5 L1815.7,1742.6 L1816.9,1741.2 L1819.0,1742.1 L1820.1,1744.2 L1817.5,1745.6 Z" fill="#fff" stroke="#000" stroke-width="1.2" />
<path d="M1814.9,1751.6 L1815.5,1749.6 L1818.7,1748.6 L1820.1,1751.4 L1817.3,1752.8 Z" fill="#fff" stroke="#000" stroke-width="1.2" />
<path d="M1823.2,1752.2 L1823.0,1755.8 L1819.8,1758.2 L1815.8,1755.7 L1818.6,1752.9 Z" fill="#fff" stroke="#000" stroke-width="1.2" />
<path d="M1822.2,1752.0 L1827.3,1753.1 L1828.2,1757.1 L1823.0,1759.6 L1820.7,1755.6 Z" fill="#fff" stroke="#000" stroke-width="1.2" />
<path d="M1828.2,1764.5 L1822.7,1764.4 L1822.5,1760.6 L1824.9,1759.0 L1827.7,1759.0 L1831.6,1761.3 Z" fill="#fff" stroke="#000" stroke-width="1.2" />
<path d="M1834.1,1760.9 L1832.2,1762.3 L1830.9,1760.6 L1830.6,1759.0 L1832.8,1757.3 L1835.3,1759.0 Z" fill="#fff" stroke="#000" stroke-width="1.2" />
<path d="M1836.9,1764.1 L1837.7,1766.1 L1837.0,1767.8 L1834.7,1767.0 L1834.3,1765.2 Z" fill="#fff" stroke="#000" stroke-width="1.2" />
<path d="M1829.3,1769.9 L1831.0,1773.4 L1826.3,1774.2 L1822.5,1772.1 L1825.3,1769.2 Z" fill="#fff" stroke="#000" stroke-width="1.2" />
<path d="M1832.6,1778.3 L1829.1,1779.5 L1824.8,1777.9 L1827.1,1774.7 L1830.4,1774.1 L1835.0,1775.1 Z" fill="#fff" stroke="#000" stroke-width="1.2" />
<path d="M1837.1,1781.4 L1835.4,1780.2 L1835.7,1777.9 L1839.1,1778.3 L1840.1,1780.8 Z" fill="#fff" stroke="#000" stroke-width="1.2" />
<path d="M1825.8,1783.0 L1828.6,1780.5 L1833.5,1780.9 L1834.5,1784.9 L1830.8,1787.2 L1827.1,1785.8 Z" fill="#fff" stroke="#000" stroke-width="1.2" />
<path d="M1831.4,1789.6 L1831.7,1786.1 L1836.0,1782.6 L1837.5,1787.2 L1836.6,1790.9 Z" fill="#fff" stroke="#000" stroke-width="1.2" />
<path d="M1739,1675 Q1739,1661 1753,1661 Q1771,1661 1771,1675 L1771,1749.5 Q1771,1761.5 1781,1763.5 Q1793,1767.5 1793,1781.5 L1793,1795.5 Q1793,1811.5 1785,1811.5 L1755,1811.5 Q1739,1811.5 1739,1797.5 Z" fill="#fff" stroke="#b3a775" stroke-width="1.8" />
<path d="M1739,1675 Q1739,1661 1753,1661 Q1771,1661 1771,1675 L1771,1749.5 Q1771,1761.5 1781,1763.5 Q1793,1767.5 1793,1781.5 L1793,1795.5 Q1793,1811.5 1785,1811.5 L1755,1811.5 Q1739,1811.5 1739,1797.5 Z" fill="none" stroke="#b3a775" stroke-width="1.2" transform="translate(1759.0,1736.2) scale(0.9,0.96) translate(-1759.0,-1736.2)"/>
<circle cx="1759.5" cy="1671" r="5.6" fill="#fff" stroke="#000" stroke-width="2.6"/>
<circle cx="1759.5" cy="1671" r="0.9" fill="#000" stroke="#000" stroke-width="0.5"/>
<circle cx="1751" cy="1680" r="5.6" fill="#fff" stroke="#000" stroke-width="2.6"/>
<circle cx="1751" cy="1680" r="0.9" fill="#000" stroke="#000" stroke-width="0.5"/>
<circle cx="1768" cy="1680" r="5.6" fill="#fff" stroke="#000" stroke-width="2.6"/>
<circle cx="1768" cy="1680" r="0.9" fill="#000" stroke="#000" stroke-width="0.5"/>
<circle cx="1751" cy="1692.9" r="5.6" fill="#fff" stroke="#000" stroke-width="2.6"/>
<circle cx="1751" cy="1692.9" r="0.9" fill="#000" stroke="#000" stroke-width="0.5"/>
<circle cx="1768" cy="1692.9" r="5.6" fill="#fff" stroke="#000" stroke-width="2.6"/>
<circle cx="1768" cy="1692.9" r="0.9" fill="#000" stroke="#000" stroke-width="0.5"/>
<circle cx="1751" cy="1705.8" r="5.6" fill="#fff" stroke="#000" stroke-width="2.6"/>
<circle cx="1751" cy="1705.8" r="0.9" fill="#000" stroke="#000" stroke-width="0.5"/>
<circle cx="1768" cy="1705.8" r="5.6" fill="#fff" stroke="#000" stroke-width="2.6"/>
<circle cx="1768" cy="1705.8" r="0.9" fill="#000" stroke="#000" stroke-width="0.5"/>
<circle cx="1751" cy="1718.7" r="5.6" fill="#fff" stroke="#000" stroke-width="2.6"/>
<circle cx="1751" cy="1718.7" r="0.9" fill="#000" stroke="#000" stroke-width="0.5"/>
<circle cx="1768" cy="1718.7" r="5.6" fill="#fff" stroke="#000" stroke-width="2.6"/>
<circle cx="1768" cy="1718.7" r="0.9" fill="#000" stroke="#000" stroke-width="0.5"/>
<circle cx="1751" cy="1731.6" r="5.6" fill="#fff" stroke="#000" stroke-width="2.6"/>
<circle cx="1751" cy="1731.6" r="0.9" fill="#000" stroke="#000" stroke-width="0.5"/>
<circle cx="1768" cy="1731.6" r="5.6" fill="#fff" stroke="#000" stroke-width="2.6"/>
<circle cx="1768" cy="1731.6" r="0.9" fill="#000" stroke="#000" stroke-width="0.5"/>
<circle cx="1751" cy="1744.5" r="5.6" fill="#fff" stroke="#000" stroke-width="2.6"/>
<circle cx="1751" cy="1744.5" r="0.9" fill="#000" stroke="#000" stroke-width="0.5"/>
<circle cx="1768" cy="1744.5" r="5.6" fill="#fff" stroke="#000" stroke-width="2.6"/>
<circle cx="1768" cy="1744.5" r="0.9" fill="#000" stroke="#000" stroke-width="0.5"/>
<circle cx="1751" cy="1757.4" r="5.6" fill="#fff" stroke="#000" stroke-width="2.6"/>
<circle cx="1751" cy="1757.4" r="0.9" fill="#000" stroke="#000" stroke-width="0.5"/>
<circle cx="1768" cy="1757.4" r="5.6" fill="#fff" stroke="#000" stroke-width="2.6"/>
<circle cx="1768" cy="1757.4" r="0.9" fill="#000" stroke="#000" stroke-width="0.5"/>
<circle cx="1751" cy="1770.3" r="5.6" fill="#fff" stroke="#000" stroke-width="2.6"/>
<circle cx="1751" cy="1770.3" r="0.9" fill="#000" stroke="#000" stroke-width="0.5"/>
<circle cx="1751" cy="1783.2" r="5.6" fill="#fff" stroke="#000" stroke-width="2.6"/>
<circle cx="1751" cy="1783.2" r="0.9" fill="#000" stroke="#000" stroke-width="0.5"/>
<circle cx="1763.7" cy="1769.9" r="3.1" fill="#fff" stroke="#000" stroke-width="1.5"/>
<circle cx="1763.7" cy="1769.9" r="0.7" fill="#000" stroke="#000" stroke-width="0.3"/>
<circle cx="1770.3" cy="1769.9" r="3.1" fill="#fff" stroke="#000" stroke-width="1.5"/>
<circle cx="1770.3" cy="1769.9" r="0.7" fill="#000" stroke="#000" stroke-width="0.3"/>
<circle cx="1753.8" cy="1776.1" r="3.1" fill="#fff" stroke="#000" stroke-width="1.5"/>
<circle cx="1753.8" cy="1776.1" r="0.7" fill="#000" stroke="#000" stroke-width="0.3"/>
<circle cx="1760.4" cy="1776.1" r="3.1" fill="#fff" stroke="#000" stroke-width="1.5"/>
<circle cx="1760.4" cy="1776.1" r="0.7" fill="#000" stroke="#000" stroke-width="0.3"/>
<circle cx="1767" cy="1776.1" r="3.1" fill="#fff" stroke="#000" stroke-width="1.5"/>
<circle cx="1767" cy="1776.1" r="0.7" fill="#000" stroke="#000" stroke-width="0.3"/>
<circle cx="1773.6" cy="1776.1" r="3.1" fill="#fff" stroke="#000" stroke-width="1.5"/>
<circle cx="1773.6" cy="1776.1" r="0.7" fill="#000" stroke="#000" stroke-width="0.3"/>
<circle cx="1780.2" cy="1776.1" r="3.1" fill="#fff" stroke="#000" stroke-width="1.5"/>
<circle cx="1780.2" cy="1776.1" r="0.7" fill="#000" stroke="#000" stroke-width="0.3"/>
<circle cx="1750.5" cy="1782.3" r="3.1" fill="#fff" stroke="#000" stroke-width="1.5"/>
<circle cx="1750.5" cy="1782.3" r="0.7" fill="#000" stroke="#000" stroke-width="0.3"/>
<circle cx="1757.1" cy="1782.3" r="3.1" fill="#fff" stroke="#000" stroke-width="1.5"/>
<circle cx="1757.1" cy="1782.3" r="0.7" fill="#000" stroke="#000" stroke-width="0.3"/>
<circle cx="1763.7" cy="1782.3" r="3.1" fill="#fff" stroke="#000" stroke-width="1.5"/>
<circle cx="1763.7" cy="1782.3" r="0.7" fill="#000" stroke="#000" stroke-width="0.3"/>
<circle cx="1770.3" cy="1782.3" r="3.1" fill="#fff" stroke="#000" stroke-width="1.5"/>
<circle cx="1770.3" cy="1782.3" r="0.7" fill="#000" stroke="#000" stroke-width="0.3"/>
<circle cx="1776.9" cy="1782.3" r="3.1" fill="#fff" stroke="#000" stroke-width="1.5"/>
<circle cx="1776.9" cy="1782.3" r="0.7" fill="#000" stroke="#000" stroke-width="0.3"/>
<circle cx="1783.5" cy="1782.3" r="3.1" fill="#fff" stroke="#000" stroke-width="1.5"/>
<circle cx="1783.5" cy="1782.3" r="0.7" fill="#000" stroke="#000" stroke-width="0.3"/>
<circle cx="1747.2" cy="1788.5" r="3.1" fill="#fff" stroke="#000" stroke-width="1.5"/>
<circle cx="1747.2" cy="1788.5" r="0.7" fill="#000" stroke="#000" stroke-width="0.3"/>
<circle cx="1753.8" cy="1788.5" r="3.1" fill="#fff" stroke="#000" stroke-width="1.5"/>
<circle cx="1753.8" cy="1788.5" r="0.7" fill="#000" stroke="#000" stroke-width="0.3"/>
<circle cx="1760.4" cy="1788.5" r="3.1" fill="#fff" stroke="#000" stroke-width="1.5"/>
<circle cx="1760.4" cy="1788.5" r="0.7" fill="#000" stroke="#000" stroke-width="0.3"/>
<circle cx="1767" cy="1788.5" r="3.1" fill="#fff" stroke="#000" stroke-width="1.5"/>
<circle cx="1767" cy="1788.5" r="0.7" fill="#000" stroke="#000" stroke-width="0.3"/>
<circle cx="1773.6" cy="1788.5" r="3.1" fill="#fff" stroke="#000" stroke-width="1.5"/>
<circle cx="1773.6" cy="1788.5" r="0.7" fill="#000" stroke="#000" stroke-width="0.3"/>
<circle cx="1780.2" cy="1788.5" r="3.1" fill="#fff" stroke="#000" stroke-width="1.5"/>
<circle cx="1780.2" cy="1788.5" r="0.7" fill="#000" stroke="#000" stroke-width="0.3"/>
<circle cx="1786.8" cy="1788.5" r="3.1" fill="#fff" stroke="#000" stroke-width="1.5"/>
<circle cx="1786.8" cy="1788.5" r="0.7" fill="#000" stroke="#000" stroke-width="0.3"/>
<circle cx="1750.5" cy="1794.7" r="3.1" fill="#fff" stroke="#000" stroke-width="1.5"/>
<circle cx="1750.5" cy="1794.7" r="0.7" fill="#000" stroke="#000" stroke-width="0.3"/>
<circle cx="1757.1" cy="1794.7" r="3.1" fill="#fff" stroke="#000" stroke-width="1.5"/>
<circle cx="1757.1" cy="1794.7" r="0.7" fill="#000" stroke="#000" stroke-width="0.3"/>
<circle cx="1763.7" cy="1794.7" r="3.1" fill="#fff" stroke="#000" stroke-width="1.5"/>
<circle cx="1763.7" cy="1794.7" r="0.7" fill="#000" stroke="#000" stroke-width="0.3"/>
<circle cx="1770.3" cy="1794.7" r="3.1" fill="#fff" stroke="#000" stroke-width="1.5"/>
<circle cx="1770.3" cy="1794.7" r="0.7" fill="#000" stroke="#000" stroke-width="0.3"/>
<circle cx="1776.9" cy="1794.7" r="3.1" fill="#fff" stroke="#000" stroke-width="1.5"/>
<circle cx="1776.9" cy="1794.7" r="0.7" fill="#000" stroke="#000" stroke-width="0.3"/>
<circle cx="1783.5" cy="1794.7" r="3.1" fill="#fff" stroke="#000" stroke-width="1.5"/>
<circle cx="1783.5" cy="1794.7" r="0.7" fill="#000" stroke="#000" stroke-width="0.3"/>
<circle cx="1753.8" cy="1800.9" r="3.1" fill="#fff" stroke="#000" stroke-width="1.5"/>
<circle cx="1753.8" cy="1800.9" r="0.7" fill="#000" stroke="#000" stroke-width="0.3"/>
<circle cx="1760.4" cy="1800.9" r="3.1" fill="#fff" stroke="#000" stroke-width="1.5"/>
<circle cx="1760.4" cy="1800.9" r="0.7" fill="#000" stroke="#000" stroke-width="0.3"/>
<circle cx="1767" cy="1800.9" r="3.1" fill="#fff" stroke="#000" stroke-width="1.5"/>
<circle cx="1767" cy="1800.9" r="0.7" fill="#000" stroke="#000" stroke-width="0.3"/>
<circle cx="1773.6" cy="1800.9" r="3.1" fill="#fff" stroke="#000" stroke-width="1.5"/>
<circle cx="1773.6" cy="1800.9" r="0.7" fill="#000" stroke="#000" stroke-width="0.3"/>
<circle cx="1780.2" cy="1800.9" r="3.1" fill="#fff" stroke="#000" stroke-width="1.5"/>
<circle cx="1780.2" cy="1800.9" r="0.7" fill="#000" stroke="#000" stroke-width="0.3"/>
<circle cx="1763.7" cy="1807.1" r="3.1" fill="#fff" stroke="#000" stroke-width="1.5"/>
<circle cx="1763.7" cy="1807.1" r="0.7" fill="#000" stroke="#000" stroke-width="0.3"/>
<circle cx="1770.3" cy="1807.1" r="3.1" fill="#fff" stroke="#000" stroke-width="1.5"/>
<circle cx="1770.3" cy="1807.1" r="0.7" fill="#000" stroke="#000" stroke-width="0.3"/>
<line x1="307.3" y1="1573" x2="718.8" y2="1573" stroke="#000" stroke-width="2.2"/>
<line x1="747" y1="1573" x2="1487.6" y2="1573" stroke="#000" stroke-width="2.2"/>
<line x1="1569.9" y1="1573" x2="1688" y2="1573" stroke="#000" stroke-width="2.2"/>
<rect x="307.3" y="1578.5" width="36.7" height="3" fill="#000"/>
<rect x="365" y="1578.5" width="31.8" height="3" fill="#000"/>
<rect x="504.4" y="1578.5" width="214.4" height="3" fill="#000"/>
<rect x="747" y="1578.5" width="740.6" height="3" fill="#000"/>
<rect x="1569.9" y="1578.5" width="118.1" height="3" fill="#000"/>
<line x1="396.8" y1="1578" x2="504.4" y2="1578" stroke="#000" stroke-width="3.2" stroke-dasharray="7 4"/>
<line x1="320" y1="1576" x2="1680" y2="1576" stroke="#999" stroke-width="0.8" stroke-dasharray="14 8"/>
<rect x="307.3" y="1560" width="7.7" height="21.5" fill="#000"/>
<text x="732.9" y="1564.7" font-size="13.1" text-anchor="middle" font-weight="normal" fill="#000" stroke="#000" stroke-width="0.68" textLength="22" lengthAdjust="spacingAndGlyphs">EXIT</text>
<path d="M719.5,1581 L719.5,1608.5 A27.5,27.5 0 0 0 747,1581" fill="none" stroke="#000" stroke-width="1.2" />
<line x1="1493.9" y1="1566.4" x2="1563.5" y2="1566.4" stroke="#000" stroke-width="1.2"/>
<path d="M1500,1562.5 L1493.9,1566.4 L1500,1570.3 M1557.5,1562.5 L1563.5,1566.4 L1557.5,1570.3" fill="none" stroke="#000" stroke-width="1.2" />
<rect x="585.9" y="1580" width="38.8" height="7" fill="#ddd" stroke="#000" stroke-width="1" />
<rect x="841" y="1581" width="39" height="6" fill="#ddd" stroke="#000" stroke-width="2" />
<path d="M344,1580 L344,1600 A20,20 0 0 0 364,1580" fill="none" stroke="#000" stroke-width="1.2" />
<path d="M335.6,1580 V1830 Q335.6,1855 362,1855 Q390.5,1855 390.5,1830 V1580" fill="none" stroke="#000" stroke-width="1.6" />
<path d="M338.5,1580 V1830 Q338.5,1852 362,1852 Q387.5,1852 387.5,1830 V1580" fill="none" stroke="#000" stroke-width="1" />
<path d="M504.4,1581 V1815 Q504.4,1855 545,1855 H1107" fill="none" stroke="#000" stroke-width="1.6" />
<path d="M507.5,1581 V1815 Q507.5,1852 545,1852" fill="none" stroke="#000" stroke-width="1" />
<path d="M531.3,1580 V1800.5 L579.4,1850 H1107" fill="none" stroke="#000" stroke-width="2.4" />
<line x1="528.1" y1="1576.8" x2="534.5" y2="1583.2" stroke="#000" stroke-width="1.8"/>
<line x1="528.1" y1="1583.2" x2="534.5" y2="1576.8" stroke="#000" stroke-width="1.8"/>
<line x1="528.1" y1="1626.8" x2="534.5" y2="1633.2" stroke="#000" stroke-width="1.8"/>
<line x1="528.1" y1="1633.2" x2="534.5" y2="1626.8" stroke="#000" stroke-width="1.8"/>
<line x1="528.1" y1="1675.8" x2="534.5" y2="1682.2" stroke="#000" stroke-width="1.8"/>
<line x1="528.1" y1="1682.2" x2="534.5" y2="1675.8" stroke="#000" stroke-width="1.8"/>
<line x1="528.1" y1="1749.1" x2="534.5" y2="1755.5" stroke="#000" stroke-width="1.8"/>
<line x1="528.1" y1="1755.5" x2="534.5" y2="1749.1" stroke="#000" stroke-width="1.8"/>
<line x1="528.1" y1="1797.3" x2="534.5" y2="1803.7" stroke="#000" stroke-width="1.8"/>
<line x1="528.1" y1="1803.7" x2="534.5" y2="1797.3" stroke="#000" stroke-width="1.8"/>
<line x1="576.2" y1="1846.8" x2="582.6" y2="1853.2" stroke="#000" stroke-width="1.8"/>
<line x1="576.2" y1="1853.2" x2="582.6" y2="1846.8" stroke="#000" stroke-width="1.8"/>
<line x1="632.8" y1="1846.8" x2="639.2" y2="1853.2" stroke="#000" stroke-width="1.8"/>
<line x1="632.8" y1="1853.2" x2="639.2" y2="1846.8" stroke="#000" stroke-width="1.8"/>
<line x1="700.8" y1="1846.8" x2="707.2" y2="1853.2" stroke="#000" stroke-width="1.8"/>
<line x1="700.8" y1="1853.2" x2="707.2" y2="1846.8" stroke="#000" stroke-width="1.8"/>
<line x1="768.5" y1="1846.8" x2="774.9" y2="1853.2" stroke="#000" stroke-width="1.8"/>
<line x1="768.5" y1="1853.2" x2="774.9" y2="1846.8" stroke="#000" stroke-width="1.8"/>
<line x1="836.2" y1="1846.8" x2="842.6" y2="1853.2" stroke="#000" stroke-width="1.8"/>
<line x1="836.2" y1="1853.2" x2="842.6" y2="1846.8" stroke="#000" stroke-width="1.8"/>
<line x1="904.4" y1="1846.8" x2="910.8" y2="1853.2" stroke="#000" stroke-width="1.8"/>
<line x1="904.4" y1="1853.2" x2="910.8" y2="1846.8" stroke="#000" stroke-width="1.8"/>
<line x1="972.2" y1="1846.8" x2="978.6" y2="1853.2" stroke="#000" stroke-width="1.8"/>
<line x1="972.2" y1="1853.2" x2="978.6" y2="1846.8" stroke="#000" stroke-width="1.8"/>
<line x1="1039.8" y1="1846.8" x2="1046.2" y2="1853.2" stroke="#000" stroke-width="1.8"/>
<line x1="1039.8" y1="1853.2" x2="1046.2" y2="1846.8" stroke="#000" stroke-width="1.8"/>
<line x1="1103.8" y1="1846.8" x2="1110.2" y2="1853.2" stroke="#000" stroke-width="1.8"/>
<line x1="1103.8" y1="1853.2" x2="1110.2" y2="1846.8" stroke="#000" stroke-width="1.8"/>
<rect x="531.3" y="1682" width="33.7" height="67.7" fill="#fde0de" stroke="none" stroke-width="0" />
<path d="M531.3,1682 L564.8,1682 A33.5,33.5 0 0 1 531.3,1715.5" fill="none" stroke="#000" stroke-width="1.2" />
<path d="M531.3,1749.7 L564.8,1749.7 A33.5,33.5 0 0 0 531.3,1716.2" fill="none" stroke="#000" stroke-width="1.2" />
<line x1="531.3" y1="1682" x2="565" y2="1682" stroke="#000" stroke-width="1.6"/>
<line x1="531.3" y1="1749.7" x2="565" y2="1749.7" stroke="#000" stroke-width="1.6"/>
<path d="M586,1589.5 V1632.5 H590 L724,1646.8 L864.7,1632.5 H880.3 V1589.5" fill="none" stroke="#000" stroke-width="2" stroke-dasharray="7 5"/>
<rect x="594.3" y="1611.7" width="21.7" height="20.8" fill="#fff" stroke="#000" stroke-width="1.1" />
<rect x="598.6" y="1619" width="13" height="6" fill="#000"/>
<rect x="601.1" y="1620.5" width="2.6" height="3" fill="#fff"/><rect x="606.5" y="1620.5" width="2.6" height="3" fill="#fff"/>
<rect x="696" y="1611.7" width="20.7" height="20.8" fill="#fff" stroke="#000" stroke-width="1.1" />
<rect x="699.9" y="1619" width="13" height="6" fill="#000"/>
<rect x="702.4" y="1620.5" width="2.6" height="3" fill="#fff"/><rect x="707.8" y="1620.5" width="2.6" height="3" fill="#fff"/>
<rect x="748.8" y="1611.7" width="20.8" height="20.8" fill="#fff" stroke="#000" stroke-width="1.1" />
<rect x="752.7" y="1619" width="13" height="6" fill="#000"/>
<rect x="755.2" y="1620.5" width="2.6" height="3" fill="#fff"/><rect x="760.6" y="1620.5" width="2.6" height="3" fill="#fff"/>
<rect x="850.3" y="1611.7" width="20.1" height="20.8" fill="#fff" stroke="#000" stroke-width="1.1" />
<rect x="853.8" y="1619" width="13" height="6" fill="#000"/>
<rect x="856.3" y="1620.5" width="2.6" height="3" fill="#fff"/><rect x="861.7" y="1620.5" width="2.6" height="3" fill="#fff"/>
<text x="643.7" y="1678" font-size="12.7" text-anchor="middle" font-weight="normal" fill="#000" stroke="#000" stroke-width="0.68" textLength="43.4" lengthAdjust="spacingAndGlyphs">CANOPY</text>
<text x="643.7" y="1689.8" font-size="12.7" text-anchor="middle" font-weight="normal" fill="#000" stroke="#000" stroke-width="0.68" textLength="35" lengthAdjust="spacingAndGlyphs">ABOVE</text>
<path d="M670.6,1675.5 H708.4 L724,1646.8" fill="none" stroke="#000" stroke-width="1.2" />
<path d="M724,1646.8 L716,1655 L720.5,1657.5 Z" fill="#000" stroke="#000" stroke-width="1" />
<text x="972" y="1663.8" font-size="20.0" text-anchor="middle" font-weight="normal" fill="#000" stroke="#000" stroke-width="0.90" textLength="75.5" lengthAdjust="spacingAndGlyphs">GARDEN</text>
<text x="972" y="1686" font-size="20.0" text-anchor="middle" font-weight="normal" fill="#000" stroke="#000" stroke-width="0.90" textLength="74" lengthAdjust="spacingAndGlyphs">CENTER</text>
<text x="788.5" y="1827.9" font-size="16.3" text-anchor="middle" font-weight="normal" fill="#000" stroke="#000" stroke-width="0.75" textLength="210" lengthAdjust="spacingAndGlyphs">DECORATIVE  METAL  FENCE</text>
<path d="M682.3,1822 H669.3 L648.5,1848.7" fill="none" stroke="#000" stroke-width="1.2" />
<path d="M648.5,1848.7 L652,1838 L657,1841.5 Z" fill="#000" stroke="#000" stroke-width="1" />
<rect x="1107.6" y="1580" width="5.4" height="190" fill="#000"/>
<rect x="1680.5" y="1578" width="6.7" height="192" fill="#000"/>
<rect x="1107.6" y="1764.8" width="579.6" height="5.2" fill="#000"/>
<rect x="1185.8" y="1581.5" width="4" height="4" fill="#000"/>
<rect x="1185.8" y="1640" width="4" height="4" fill="#000"/>
<rect x="1185.8" y="1761.5" width="4" height="4" fill="#000"/>
<rect x="1260.6" y="1581.5" width="4" height="4" fill="#000"/>
<rect x="1260.6" y="1640" width="4" height="4" fill="#000"/>
<rect x="1260.6" y="1761.5" width="4" height="4" fill="#000"/>
<rect x="1335.7" y="1581.5" width="4" height="4" fill="#000"/>
<rect x="1335.7" y="1640" width="4" height="4" fill="#000"/>
<rect x="1335.7" y="1761.5" width="4" height="4" fill="#000"/>
<rect x="1410.4" y="1581.5" width="4" height="4" fill="#000"/>
<rect x="1410.4" y="1640" width="4" height="4" fill="#000"/>
<rect x="1410.4" y="1761.5" width="4" height="4" fill="#000"/>
<rect x="1485.6" y="1581.5" width="4" height="4" fill="#000"/>
<rect x="1485.6" y="1640" width="4" height="4" fill="#000"/>
<rect x="1485.6" y="1761.5" width="4" height="4" fill="#000"/>
<rect x="1567.9" y="1581.5" width="4" height="4" fill="#000"/>
<rect x="1567.9" y="1640" width="4" height="4" fill="#000"/>
<rect x="1567.9" y="1761.5" width="4" height="4" fill="#000"/>
<rect x="1624" y="1581.5" width="4" height="4" fill="#000"/>
<rect x="1624" y="1640" width="4" height="4" fill="#000"/>
<rect x="1624" y="1761.5" width="4" height="4" fill="#000"/>
<line x1="1120.3" y1="1648" x2="1120.3" y2="1710" stroke="#000" stroke-width="1.2"/>
<path d="M1116.5,1655 L1120.3,1646 L1124,1655 M1116.5,1703 L1120.3,1712 L1124,1703" fill="none" stroke="#000" stroke-width="1.3" />
<rect x="1124.5" y="1585.4" width="56.2" height="19.8" fill="#9fd5d2" stroke="#000" stroke-width="1.6" />
<rect x="1180.7" y="1585.4" width="56.5" height="19.8" fill="#9fd5d2" stroke="#000" stroke-width="1.6" />
<rect x="1237.2" y="1585.4" width="56.2" height="19.8" fill="#9fd5d2" stroke="#000" stroke-width="1.6" />
<rect x="1293.4" y="1585.4" width="56.1" height="19.8" fill="#9fd5d2" stroke="#000" stroke-width="1.6" />
<rect x="1349.5" y="1585.4" width="56.6" height="19.8" fill="#9fd5d2" stroke="#000" stroke-width="1.6" />
<rect x="1406.1" y="1585.4" width="56.1" height="19.8" fill="#9fd5d2" stroke="#000" stroke-width="1.6" />
<rect x="1616.3" y="1585.4" width="57.8" height="19.8" fill="#9fd5d2" stroke="#000" stroke-width="1.6" />
<rect x="1225" y="1648.3" width="259.2" height="23.7" fill="#9fd5d2" stroke="#000" stroke-width="1.6" />
<line x1="1229.2" y1="1648.3" x2="1229.2" y2="1672" stroke="#000" stroke-width="0.9"/>
<line x1="1233.5" y1="1648.3" x2="1233.5" y2="1672" stroke="#000" stroke-width="0.9"/>
<line x1="1237.7" y1="1648.3" x2="1237.7" y2="1672" stroke="#000" stroke-width="0.9"/>
<line x1="1242" y1="1648.3" x2="1242" y2="1672" stroke="#000" stroke-width="0.9"/>
<line x1="1246.2" y1="1648.3" x2="1246.2" y2="1672" stroke="#000" stroke-width="0.9"/>
<line x1="1250.5" y1="1648.3" x2="1250.5" y2="1672" stroke="#000" stroke-width="0.9"/>
<line x1="1254.7" y1="1648.3" x2="1254.7" y2="1672" stroke="#000" stroke-width="0.9"/>
<line x1="1259" y1="1648.3" x2="1259" y2="1672" stroke="#000" stroke-width="0.9"/>
<line x1="1263.2" y1="1648.3" x2="1263.2" y2="1672" stroke="#000" stroke-width="0.9"/>
<line x1="1267.5" y1="1648.3" x2="1267.5" y2="1672" stroke="#000" stroke-width="0.9"/>
<line x1="1271.7" y1="1648.3" x2="1271.7" y2="1672" stroke="#000" stroke-width="0.9"/>
<line x1="1276" y1="1648.3" x2="1276" y2="1672" stroke="#000" stroke-width="0.9"/>
<line x1="1280.2" y1="1648.3" x2="1280.2" y2="1672" stroke="#000" stroke-width="0.9"/>
<line x1="1284.5" y1="1648.3" x2="1284.5" y2="1672" stroke="#000" stroke-width="0.9"/>
<line x1="1288.7" y1="1648.3" x2="1288.7" y2="1672" stroke="#000" stroke-width="0.9"/>
<line x1="1293" y1="1648.3" x2="1293" y2="1672" stroke="#000" stroke-width="0.9"/>
<line x1="1297.2" y1="1648.3" x2="1297.2" y2="1672" stroke="#000" stroke-width="0.9"/>
<line x1="1301.5" y1="1648.3" x2="1301.5" y2="1672" stroke="#000" stroke-width="0.9"/>
<line x1="1305.7" y1="1648.3" x2="1305.7" y2="1672" stroke="#000" stroke-width="0.9"/>
<line x1="1310" y1="1648.3" x2="1310" y2="1672" stroke="#000" stroke-width="0.9"/>
<line x1="1314.2" y1="1648.3" x2="1314.2" y2="1672" stroke="#000" stroke-width="0.9"/>
<line x1="1318.5" y1="1648.3" x2="1318.5" y2="1672" stroke="#000" stroke-width="0.9"/>
<line x1="1322.7" y1="1648.3" x2="1322.7" y2="1672" stroke="#000" stroke-width="0.9"/>
<line x1="1327" y1="1648.3" x2="1327" y2="1672" stroke="#000" stroke-width="0.9"/>
<line x1="1331.2" y1="1648.3" x2="1331.2" y2="1672" stroke="#000" stroke-width="0.9"/>
<line x1="1335.5" y1="1648.3" x2="1335.5" y2="1672" stroke="#000" stroke-width="0.9"/>
<line x1="1339.7" y1="1648.3" x2="1339.7" y2="1672" stroke="#000" stroke-width="0.9"/>
<line x1="1344" y1="1648.3" x2="1344" y2="1672" stroke="#000" stroke-width="0.9"/>
<line x1="1348.2" y1="1648.3" x2="1348.2" y2="1672" stroke="#000" stroke-width="0.9"/>
<line x1="1352.5" y1="1648.3" x2="1352.5" y2="1672" stroke="#000" stroke-width="0.9"/>
<line x1="1356.7" y1="1648.3" x2="1356.7" y2="1672" stroke="#000" stroke-width="0.9"/>
<line x1="1361" y1="1648.3" x2="1361" y2="1672" stroke="#000" stroke-width="0.9"/>
<line x1="1365.2" y1="1648.3" x2="1365.2" y2="1672" stroke="#000" stroke-width="0.9"/>
<line x1="1369.5" y1="1648.3" x2="1369.5" y2="1672" stroke="#000" stroke-width="0.9"/>
<line x1="1373.7" y1="1648.3" x2="1373.7" y2="1672" stroke="#000" stroke-width="0.9"/>
<line x1="1378" y1="1648.3" x2="1378" y2="1672" stroke="#000" stroke-width="0.9"/>
<line x1="1382.2" y1="1648.3" x2="1382.2" y2="1672" stroke="#000" stroke-width="0.9"/>
<line x1="1386.5" y1="1648.3" x2="1386.5" y2="1672" stroke="#000" stroke-width="0.9"/>
<line x1="1390.7" y1="1648.3" x2="1390.7" y2="1672" stroke="#000" stroke-width="0.9"/>
<line x1="1395" y1="1648.3" x2="1395" y2="1672" stroke="#000" stroke-width="0.9"/>
<line x1="1399.2" y1="1648.3" x2="1399.2" y2="1672" stroke="#000" stroke-width="0.9"/>
<line x1="1403.5" y1="1648.3" x2="1403.5" y2="1672" stroke="#000" stroke-width="0.9"/>
<line x1="1407.7" y1="1648.3" x2="1407.7" y2="1672" stroke="#000" stroke-width="0.9"/>
<line x1="1412" y1="1648.3" x2="1412" y2="1672" stroke="#000" stroke-width="0.9"/>
<line x1="1416.2" y1="1648.3" x2="1416.2" y2="1672" stroke="#000" stroke-width="0.9"/>
<line x1="1420.5" y1="1648.3" x2="1420.5" y2="1672" stroke="#000" stroke-width="0.9"/>
<line x1="1424.7" y1="1648.3" x2="1424.7" y2="1672" stroke="#000" stroke-width="0.9"/>
<line x1="1429" y1="1648.3" x2="1429" y2="1672" stroke="#000" stroke-width="0.9"/>
<line x1="1433.2" y1="1648.3" x2="1433.2" y2="1672" stroke="#000" stroke-width="0.9"/>
<line x1="1437.5" y1="1648.3" x2="1437.5" y2="1672" stroke="#000" stroke-width="0.9"/>
<line x1="1441.7" y1="1648.3" x2="1441.7" y2="1672" stroke="#000" stroke-width="0.9"/>
<line x1="1446" y1="1648.3" x2="1446" y2="1672" stroke="#000" stroke-width="0.9"/>
<line x1="1450.2" y1="1648.3" x2="1450.2" y2="1672" stroke="#000" stroke-width="0.9"/>
<line x1="1454.5" y1="1648.3" x2="1454.5" y2="1672" stroke="#000" stroke-width="0.9"/>
<line x1="1458.7" y1="1648.3" x2="1458.7" y2="1672" stroke="#000" stroke-width="0.9"/>
<line x1="1463" y1="1648.3" x2="1463" y2="1672" stroke="#000" stroke-width="0.9"/>
<line x1="1467.2" y1="1648.3" x2="1467.2" y2="1672" stroke="#000" stroke-width="0.9"/>
<line x1="1471.5" y1="1648.3" x2="1471.5" y2="1672" stroke="#000" stroke-width="0.9"/>
<line x1="1475.7" y1="1648.3" x2="1475.7" y2="1672" stroke="#000" stroke-width="0.9"/>
<line x1="1480" y1="1648.3" x2="1480" y2="1672" stroke="#000" stroke-width="0.9"/>
<line x1="1282.8" y1="1648.3" x2="1282.8" y2="1672" stroke="#000" stroke-width="2.2"/>
<line x1="1311.5" y1="1648.3" x2="1311.5" y2="1672" stroke="#000" stroke-width="2.2"/>
<line x1="1340" y1="1648.3" x2="1340" y2="1672" stroke="#000" stroke-width="2.2"/>
<line x1="1368.5" y1="1648.3" x2="1368.5" y2="1672" stroke="#000" stroke-width="2.2"/>
<line x1="1397.5" y1="1648.3" x2="1397.5" y2="1672" stroke="#000" stroke-width="2.2"/>
<line x1="1455.5" y1="1648.3" x2="1455.5" y2="1672" stroke="#000" stroke-width="2.2"/>
<rect x="1572.8" y="1648.3" width="57" height="23.7" fill="#9fd5d2" stroke="#000" stroke-width="1.6" />
<line x1="1577.2" y1="1648.3" x2="1577.2" y2="1672" stroke="#000" stroke-width="0.9"/>
<line x1="1581.6" y1="1648.3" x2="1581.6" y2="1672" stroke="#000" stroke-width="0.9"/>
<line x1="1586" y1="1648.3" x2="1586" y2="1672" stroke="#000" stroke-width="0.9"/>
<line x1="1590.3" y1="1648.3" x2="1590.3" y2="1672" stroke="#000" stroke-width="0.9"/>
<line x1="1594.7" y1="1648.3" x2="1594.7" y2="1672" stroke="#000" stroke-width="0.9"/>
<line x1="1599.1" y1="1648.3" x2="1599.1" y2="1672" stroke="#000" stroke-width="0.9"/>
<line x1="1603.5" y1="1648.3" x2="1603.5" y2="1672" stroke="#000" stroke-width="0.9"/>
<line x1="1607.9" y1="1648.3" x2="1607.9" y2="1672" stroke="#000" stroke-width="0.9"/>
<line x1="1612.3" y1="1648.3" x2="1612.3" y2="1672" stroke="#000" stroke-width="0.9"/>
<line x1="1616.6" y1="1648.3" x2="1616.6" y2="1672" stroke="#000" stroke-width="0.9"/>
<line x1="1621" y1="1648.3" x2="1621" y2="1672" stroke="#000" stroke-width="0.9"/>
<line x1="1625.4" y1="1648.3" x2="1625.4" y2="1672" stroke="#000" stroke-width="0.9"/>
<line x1="1601.5" y1="1648.3" x2="1601.5" y2="1672" stroke="#000" stroke-width="2.2"/>
<rect x="1654.3" y="1629.3" width="24.1" height="83.6" fill="#9fd5d2" stroke="#000" stroke-width="1.6" />
<line x1="1654.3" y1="1633.5" x2="1678.4" y2="1633.5" stroke="#000" stroke-width="0.9"/>
<line x1="1654.3" y1="1637.7" x2="1678.4" y2="1637.7" stroke="#000" stroke-width="0.9"/>
<line x1="1654.3" y1="1641.8" x2="1678.4" y2="1641.8" stroke="#000" stroke-width="0.9"/>
<line x1="1654.3" y1="1646" x2="1678.4" y2="1646" stroke="#000" stroke-width="0.9"/>
<line x1="1654.3" y1="1650.2" x2="1678.4" y2="1650.2" stroke="#000" stroke-width="0.9"/>
<line x1="1654.3" y1="1654.4" x2="1678.4" y2="1654.4" stroke="#000" stroke-width="0.9"/>
<line x1="1654.3" y1="1658.6" x2="1678.4" y2="1658.6" stroke="#000" stroke-width="0.9"/>
<line x1="1654.3" y1="1662.7" x2="1678.4" y2="1662.7" stroke="#000" stroke-width="0.9"/>
<line x1="1654.3" y1="1666.9" x2="1678.4" y2="1666.9" stroke="#000" stroke-width="0.9"/>
<line x1="1654.3" y1="1671.1" x2="1678.4" y2="1671.1" stroke="#000" stroke-width="0.9"/>
<line x1="1654.3" y1="1675.3" x2="1678.4" y2="1675.3" stroke="#000" stroke-width="0.9"/>
<line x1="1654.3" y1="1679.5" x2="1678.4" y2="1679.5" stroke="#000" stroke-width="0.9"/>
<line x1="1654.3" y1="1683.6" x2="1678.4" y2="1683.6" stroke="#000" stroke-width="0.9"/>
<line x1="1654.3" y1="1687.8" x2="1678.4" y2="1687.8" stroke="#000" stroke-width="0.9"/>
<line x1="1654.3" y1="1692" x2="1678.4" y2="1692" stroke="#000" stroke-width="0.9"/>
<line x1="1654.3" y1="1696.2" x2="1678.4" y2="1696.2" stroke="#000" stroke-width="0.9"/>
<line x1="1654.3" y1="1700.4" x2="1678.4" y2="1700.4" stroke="#000" stroke-width="0.9"/>
<line x1="1654.3" y1="1704.5" x2="1678.4" y2="1704.5" stroke="#000" stroke-width="0.9"/>
<line x1="1654.3" y1="1708.7" x2="1678.4" y2="1708.7" stroke="#000" stroke-width="0.9"/>
<rect x="1118.2" y="1737.4" width="55.8" height="23.2" fill="#9fd5d2" stroke="#000" stroke-width="1.6" />
<line x1="1122.5" y1="1737.4" x2="1122.5" y2="1760.6" stroke="#000" stroke-width="0.9"/>
<line x1="1126.8" y1="1737.4" x2="1126.8" y2="1760.6" stroke="#000" stroke-width="0.9"/>
<line x1="1131.1" y1="1737.4" x2="1131.1" y2="1760.6" stroke="#000" stroke-width="0.9"/>
<line x1="1135.4" y1="1737.4" x2="1135.4" y2="1760.6" stroke="#000" stroke-width="0.9"/>
<line x1="1139.7" y1="1737.4" x2="1139.7" y2="1760.6" stroke="#000" stroke-width="0.9"/>
<line x1="1144" y1="1737.4" x2="1144" y2="1760.6" stroke="#000" stroke-width="0.9"/>
<line x1="1148.2" y1="1737.4" x2="1148.2" y2="1760.6" stroke="#000" stroke-width="0.9"/>
<line x1="1152.5" y1="1737.4" x2="1152.5" y2="1760.6" stroke="#000" stroke-width="0.9"/>
<line x1="1156.8" y1="1737.4" x2="1156.8" y2="1760.6" stroke="#000" stroke-width="0.9"/>
<line x1="1161.1" y1="1737.4" x2="1161.1" y2="1760.6" stroke="#000" stroke-width="0.9"/>
<line x1="1165.4" y1="1737.4" x2="1165.4" y2="1760.6" stroke="#000" stroke-width="0.9"/>
<line x1="1169.7" y1="1737.4" x2="1169.7" y2="1760.6" stroke="#000" stroke-width="0.9"/>
<line x1="1146" y1="1737.4" x2="1146" y2="1760.6" stroke="#000" stroke-width="2.2"/>
<rect x="1181.5" y="1737.4" width="488.8" height="23.2" fill="#9fd5d2" stroke="#000" stroke-width="1.6" />
<line x1="1185.7" y1="1737.4" x2="1185.7" y2="1760.6" stroke="#000" stroke-width="0.9"/>
<line x1="1189.9" y1="1737.4" x2="1189.9" y2="1760.6" stroke="#000" stroke-width="0.9"/>
<line x1="1194.1" y1="1737.4" x2="1194.1" y2="1760.6" stroke="#000" stroke-width="0.9"/>
<line x1="1198.4" y1="1737.4" x2="1198.4" y2="1760.6" stroke="#000" stroke-width="0.9"/>
<line x1="1202.6" y1="1737.4" x2="1202.6" y2="1760.6" stroke="#000" stroke-width="0.9"/>
<line x1="1206.8" y1="1737.4" x2="1206.8" y2="1760.6" stroke="#000" stroke-width="0.9"/>
<line x1="1211" y1="1737.4" x2="1211" y2="1760.6" stroke="#000" stroke-width="0.9"/>
<line x1="1215.2" y1="1737.4" x2="1215.2" y2="1760.6" stroke="#000" stroke-width="0.9"/>
<line x1="1219.4" y1="1737.4" x2="1219.4" y2="1760.6" stroke="#000" stroke-width="0.9"/>
<line x1="1223.6" y1="1737.4" x2="1223.6" y2="1760.6" stroke="#000" stroke-width="0.9"/>
<line x1="1227.9" y1="1737.4" x2="1227.9" y2="1760.6" stroke="#000" stroke-width="0.9"/>
<line x1="1232.1" y1="1737.4" x2="1232.1" y2="1760.6" stroke="#000" stroke-width="0.9"/>
<line x1="1236.3" y1="1737.4" x2="1236.3" y2="1760.6" stroke="#000" stroke-width="0.9"/>
<line x1="1240.5" y1="1737.4" x2="1240.5" y2="1760.6" stroke="#000" stroke-width="0.9"/>
<line x1="1244.7" y1="1737.4" x2="1244.7" y2="1760.6" stroke="#000" stroke-width="0.9"/>
<line x1="1248.9" y1="1737.4" x2="1248.9" y2="1760.6" stroke="#000" stroke-width="0.9"/>
<line x1="1253.1" y1="1737.4" x2="1253.1" y2="1760.6" stroke="#000" stroke-width="0.9"/>
<line x1="1257.3" y1="1737.4" x2="1257.3" y2="1760.6" stroke="#000" stroke-width="0.9"/>
<line x1="1261.6" y1="1737.4" x2="1261.6" y2="1760.6" stroke="#000" stroke-width="0.9"/>
<line x1="1265.8" y1="1737.4" x2="1265.8" y2="1760.6" stroke="#000" stroke-width="0.9"/>
<line x1="1270" y1="1737.4" x2="1270" y2="1760.6" stroke="#000" stroke-width="0.9"/>
<line x1="1274.2" y1="1737.4" x2="1274.2" y2="1760.6" stroke="#000" stroke-width="0.9"/>
<line x1="1278.4" y1="1737.4" x2="1278.4" y2="1760.6" stroke="#000" stroke-width="0.9"/>
<line x1="1282.6" y1="1737.4" x2="1282.6" y2="1760.6" stroke="#000" stroke-width="0.9"/>
<line x1="1286.8" y1="1737.4" x2="1286.8" y2="1760.6" stroke="#000" stroke-width="0.9"/>
<line x1="1291.1" y1="1737.4" x2="1291.1" y2="1760.6" stroke="#000" stroke-width="0.9"/>
<line x1="1295.3" y1="1737.4" x2="1295.3" y2="1760.6" stroke="#000" stroke-width="0.9"/>
<line x1="1299.5" y1="1737.4" x2="1299.5" y2="1760.6" stroke="#000" stroke-width="0.9"/>
<line x1="1303.7" y1="1737.4" x2="1303.7" y2="1760.6" stroke="#000" stroke-width="0.9"/>
<line x1="1307.9" y1="1737.4" x2="1307.9" y2="1760.6" stroke="#000" stroke-width="0.9"/>
<line x1="1312.1" y1="1737.4" x2="1312.1" y2="1760.6" stroke="#000" stroke-width="0.9"/>
<line x1="1316.3" y1="1737.4" x2="1316.3" y2="1760.6" stroke="#000" stroke-width="0.9"/>
<line x1="1320.6" y1="1737.4" x2="1320.6" y2="1760.6" stroke="#000" stroke-width="0.9"/>
<line x1="1324.8" y1="1737.4" x2="1324.8" y2="1760.6" stroke="#000" stroke-width="0.9"/>
<line x1="1329" y1="1737.4" x2="1329" y2="1760.6" stroke="#000" stroke-width="0.9"/>
<line x1="1333.2" y1="1737.4" x2="1333.2" y2="1760.6" stroke="#000" stroke-width="0.9"/>
<line x1="1337.4" y1="1737.4" x2="1337.4" y2="1760.6" stroke="#000" stroke-width="0.9"/>
<line x1="1341.6" y1="1737.4" x2="1341.6" y2="1760.6" stroke="#000" stroke-width="0.9"/>
<line x1="1345.8" y1="1737.4" x2="1345.8" y2="1760.6" stroke="#000" stroke-width="0.9"/>
<line x1="1350.1" y1="1737.4" x2="1350.1" y2="1760.6" stroke="#000" stroke-width="0.9"/>
<line x1="1354.3" y1="1737.4" x2="1354.3" y2="1760.6" stroke="#000" stroke-width="0.9"/>
<line x1="1358.5" y1="1737.4" x2="1358.5" y2="1760.6" stroke="#000" stroke-width="0.9"/>
<line x1="1362.7" y1="1737.4" x2="1362.7" y2="1760.6" stroke="#000" stroke-width="0.9"/>
<line x1="1366.9" y1="1737.4" x2="1366.9" y2="1760.6" stroke="#000" stroke-width="0.9"/>
<line x1="1371.1" y1="1737.4" x2="1371.1" y2="1760.6" stroke="#000" stroke-width="0.9"/>
<line x1="1375.3" y1="1737.4" x2="1375.3" y2="1760.6" stroke="#000" stroke-width="0.9"/>
<line x1="1379.5" y1="1737.4" x2="1379.5" y2="1760.6" stroke="#000" stroke-width="0.9"/>
<line x1="1383.8" y1="1737.4" x2="1383.8" y2="1760.6" stroke="#000" stroke-width="0.9"/>
<line x1="1388" y1="1737.4" x2="1388" y2="1760.6" stroke="#000" stroke-width="0.9"/>
<line x1="1392.2" y1="1737.4" x2="1392.2" y2="1760.6" stroke="#000" stroke-width="0.9"/>
<line x1="1396.4" y1="1737.4" x2="1396.4" y2="1760.6" stroke="#000" stroke-width="0.9"/>
<line x1="1400.6" y1="1737.4" x2="1400.6" y2="1760.6" stroke="#000" stroke-width="0.9"/>
<line x1="1404.8" y1="1737.4" x2="1404.8" y2="1760.6" stroke="#000" stroke-width="0.9"/>
<line x1="1409" y1="1737.4" x2="1409" y2="1760.6" stroke="#000" stroke-width="0.9"/>
<line x1="1413.3" y1="1737.4" x2="1413.3" y2="1760.6" stroke="#000" stroke-width="0.9"/>
<line x1="1417.5" y1="1737.4" x2="1417.5" y2="1760.6" stroke="#000" stroke-width="0.9"/>
<line x1="1421.7" y1="1737.4" x2="1421.7" y2="1760.6" stroke="#000" stroke-width="0.9"/>
<line x1="1425.9" y1="1737.4" x2="1425.9" y2="1760.6" stroke="#000" stroke-width="0.9"/>
<line x1="1430.1" y1="1737.4" x2="1430.1" y2="1760.6" stroke="#000" stroke-width="0.9"/>
<line x1="1434.3" y1="1737.4" x2="1434.3" y2="1760.6" stroke="#000" stroke-width="0.9"/>
<line x1="1438.5" y1="1737.4" x2="1438.5" y2="1760.6" stroke="#000" stroke-width="0.9"/>
<line x1="1442.8" y1="1737.4" x2="1442.8" y2="1760.6" stroke="#000" stroke-width="0.9"/>
<line x1="1447" y1="1737.4" x2="1447" y2="1760.6" stroke="#000" stroke-width="0.9"/>
<line x1="1451.2" y1="1737.4" x2="1451.2" y2="1760.6" stroke="#000" stroke-width="0.9"/>
<line x1="1455.4" y1="1737.4" x2="1455.4" y2="1760.6" stroke="#000" stroke-width="0.9"/>
<line x1="1459.6" y1="1737.4" x2="1459.6" y2="1760.6" stroke="#000" stroke-width="0.9"/>
<line x1="1463.8" y1="1737.4" x2="1463.8" y2="1760.6" stroke="#000" stroke-width="0.9"/>
<line x1="1468" y1="1737.4" x2="1468" y2="1760.6" stroke="#000" stroke-width="0.9"/>
<line x1="1472.3" y1="1737.4" x2="1472.3" y2="1760.6" stroke="#000" stroke-width="0.9"/>
<line x1="1476.5" y1="1737.4" x2="1476.5" y2="1760.6" stroke="#000" stroke-width="0.9"/>
<line x1="1480.7" y1="1737.4" x2="1480.7" y2="1760.6" stroke="#000" stroke-width="0.9"/>
<line x1="1484.9" y1="1737.4" x2="1484.9" y2="1760.6" stroke="#000" stroke-width="0.9"/>
<line x1="1489.1" y1="1737.4" x2="1489.1" y2="1760.6" stroke="#000" stroke-width="0.9"/>
<line x1="1493.3" y1="1737.4" x2="1493.3" y2="1760.6" stroke="#000" stroke-width="0.9"/>
<line x1="1497.5" y1="1737.4" x2="1497.5" y2="1760.6" stroke="#000" stroke-width="0.9"/>
<line x1="1501.7" y1="1737.4" x2="1501.7" y2="1760.6" stroke="#000" stroke-width="0.9"/>
<line x1="1506" y1="1737.4" x2="1506" y2="1760.6" stroke="#000" stroke-width="0.9"/>
<line x1="1510.2" y1="1737.4" x2="1510.2" y2="1760.6" stroke="#000" stroke-width="0.9"/>
<line x1="1514.4" y1="1737.4" x2="1514.4" y2="1760.6" stroke="#000" stroke-width="0.9"/>
<line x1="1518.6" y1="1737.4" x2="1518.6" y2="1760.6" stroke="#000" stroke-width="0.9"/>
<line x1="1522.8" y1="1737.4" x2="1522.8" y2="1760.6" stroke="#000" stroke-width="0.9"/>
<line x1="1527" y1="1737.4" x2="1527" y2="1760.6" stroke="#000" stroke-width="0.9"/>
<line x1="1531.2" y1="1737.4" x2="1531.2" y2="1760.6" stroke="#000" stroke-width="0.9"/>
<line x1="1535.5" y1="1737.4" x2="1535.5" y2="1760.6" stroke="#000" stroke-width="0.9"/>
<line x1="1539.7" y1="1737.4" x2="1539.7" y2="1760.6" stroke="#000" stroke-width="0.9"/>
<line x1="1543.9" y1="1737.4" x2="1543.9" y2="1760.6" stroke="#000" stroke-width="0.9"/>
<line x1="1548.1" y1="1737.4" x2="1548.1" y2="1760.6" stroke="#000" stroke-width="0.9"/>
<line x1="1552.3" y1="1737.4" x2="1552.3" y2="1760.6" stroke="#000" stroke-width="0.9"/>
<line x1="1556.5" y1="1737.4" x2="1556.5" y2="1760.6" stroke="#000" stroke-width="0.9"/>
<line x1="1560.7" y1="1737.4" x2="1560.7" y2="1760.6" stroke="#000" stroke-width="0.9"/>
<line x1="1565" y1="1737.4" x2="1565" y2="1760.6" stroke="#000" stroke-width="0.9"/>
<line x1="1569.2" y1="1737.4" x2="1569.2" y2="1760.6" stroke="#000" stroke-width="0.9"/>
<line x1="1573.4" y1="1737.4" x2="1573.4" y2="1760.6" stroke="#000" stroke-width="0.9"/>
<line x1="1577.6" y1="1737.4" x2="1577.6" y2="1760.6" stroke="#000" stroke-width="0.9"/>
<line x1="1581.8" y1="1737.4" x2="1581.8" y2="1760.6" stroke="#000" stroke-width="0.9"/>
<line x1="1586" y1="1737.4" x2="1586" y2="1760.6" stroke="#000" stroke-width="0.9"/>
<line x1="1590.2" y1="1737.4" x2="1590.2" y2="1760.6" stroke="#000" stroke-width="0.9"/>
<line x1="1594.5" y1="1737.4" x2="1594.5" y2="1760.6" stroke="#000" stroke-width="0.9"/>
<line x1="1598.7" y1="1737.4" x2="1598.7" y2="1760.6" stroke="#000" stroke-width="0.9"/>
<line x1="1602.9" y1="1737.4" x2="1602.9" y2="1760.6" stroke="#000" stroke-width="0.9"/>
<line x1="1607.1" y1="1737.4" x2="1607.1" y2="1760.6" stroke="#000" stroke-width="0.9"/>
<line x1="1611.3" y1="1737.4" x2="1611.3" y2="1760.6" stroke="#000" stroke-width="0.9"/>
<line x1="1615.5" y1="1737.4" x2="1615.5" y2="1760.6" stroke="#000" stroke-width="0.9"/>
<line x1="1619.7" y1="1737.4" x2="1619.7" y2="1760.6" stroke="#000" stroke-width="0.9"/>
<line x1="1623.9" y1="1737.4" x2="1623.9" y2="1760.6" stroke="#000" stroke-width="0.9"/>
<line x1="1628.2" y1="1737.4" x2="1628.2" y2="1760.6" stroke="#000" stroke-width="0.9"/>
<line x1="1632.4" y1="1737.4" x2="1632.4" y2="1760.6" stroke="#000" stroke-width="0.9"/>
<line x1="1636.6" y1="1737.4" x2="1636.6" y2="1760.6" stroke="#000" stroke-width="0.9"/>
<line x1="1640.8" y1="1737.4" x2="1640.8" y2="1760.6" stroke="#000" stroke-width="0.9"/>
<line x1="1645" y1="1737.4" x2="1645" y2="1760.6" stroke="#000" stroke-width="0.9"/>
<line x1="1649.2" y1="1737.4" x2="1649.2" y2="1760.6" stroke="#000" stroke-width="0.9"/>
<line x1="1653.4" y1="1737.4" x2="1653.4" y2="1760.6" stroke="#000" stroke-width="0.9"/>
<line x1="1657.7" y1="1737.4" x2="1657.7" y2="1760.6" stroke="#000" stroke-width="0.9"/>
<line x1="1661.9" y1="1737.4" x2="1661.9" y2="1760.6" stroke="#000" stroke-width="0.9"/>
<line x1="1666.1" y1="1737.4" x2="1666.1" y2="1760.6" stroke="#000" stroke-width="0.9"/>
<line x1="1210.2" y1="1737.4" x2="1210.2" y2="1760.6" stroke="#000" stroke-width="2.2"/>
<line x1="1238.9" y1="1737.4" x2="1238.9" y2="1760.6" stroke="#000" stroke-width="2.2"/>
<line x1="1267.6" y1="1737.4" x2="1267.6" y2="1760.6" stroke="#000" stroke-width="2.2"/>
<line x1="1296.3" y1="1737.4" x2="1296.3" y2="1760.6" stroke="#000" stroke-width="2.2"/>
<line x1="1325" y1="1737.4" x2="1325" y2="1760.6" stroke="#000" stroke-width="2.2"/>
<line x1="1353.7" y1="1737.4" x2="1353.7" y2="1760.6" stroke="#000" stroke-width="2.2"/>
<line x1="1382.4" y1="1737.4" x2="1382.4" y2="1760.6" stroke="#000" stroke-width="2.2"/>
<line x1="1411.1" y1="1737.4" x2="1411.1" y2="1760.6" stroke="#000" stroke-width="2.2"/>
<line x1="1439.8" y1="1737.4" x2="1439.8" y2="1760.6" stroke="#000" stroke-width="2.2"/>
<line x1="1468.5" y1="1737.4" x2="1468.5" y2="1760.6" stroke="#000" stroke-width="2.2"/>
<line x1="1497.2" y1="1737.4" x2="1497.2" y2="1760.6" stroke="#000" stroke-width="2.2"/>
<line x1="1525.9" y1="1737.4" x2="1525.9" y2="1760.6" stroke="#000" stroke-width="2.2"/>
<line x1="1554.6" y1="1737.4" x2="1554.6" y2="1760.6" stroke="#000" stroke-width="2.2"/>
<line x1="1583.3" y1="1737.4" x2="1583.3" y2="1760.6" stroke="#000" stroke-width="2.2"/>
<line x1="1612" y1="1737.4" x2="1612" y2="1760.6" stroke="#000" stroke-width="2.2"/>
<line x1="1640.7" y1="1737.4" x2="1640.7" y2="1760.6" stroke="#000" stroke-width="2.2"/>
<text x="1532.5" y="1637.7" font-size="21.8" text-anchor="middle" font-weight="normal" fill="#000" stroke="#000" stroke-width="0.90" textLength="132" lengthAdjust="spacingAndGlyphs">GREEN HOUSE</text>
<line x1="1131" y1="1770" x2="1131" y2="1855" stroke="#858585" stroke-width="0.95"/>
<line x1="1154.1" y1="1770" x2="1154.1" y2="1855" stroke="#858585" stroke-width="0.95"/>
<line x1="1177.2" y1="1770" x2="1177.2" y2="1855" stroke="#858585" stroke-width="0.95"/>
<line x1="1200.3" y1="1770" x2="1200.3" y2="1855" stroke="#858585" stroke-width="0.95"/>
<line x1="1223.4" y1="1770" x2="1223.4" y2="1855" stroke="#858585" stroke-width="0.95"/>
<line x1="1246.5" y1="1770" x2="1246.5" y2="1855" stroke="#858585" stroke-width="0.95"/>
<line x1="1269.6" y1="1770" x2="1269.6" y2="1855" stroke="#858585" stroke-width="0.95"/>
<line x1="1292.7" y1="1770" x2="1292.7" y2="1855" stroke="#858585" stroke-width="0.95"/>
<line x1="1315.8" y1="1770" x2="1315.8" y2="1855" stroke="#858585" stroke-width="0.95"/>
<line x1="1338.9" y1="1770" x2="1338.9" y2="1855" stroke="#858585" stroke-width="0.95"/>
<line x1="1362" y1="1770" x2="1362" y2="1855" stroke="#858585" stroke-width="0.95"/>
<line x1="1385.1" y1="1770" x2="1385.1" y2="1855" stroke="#858585" stroke-width="0.95"/>
<line x1="1408.2" y1="1770" x2="1408.2" y2="1855" stroke="#858585" stroke-width="0.95"/>
<line x1="1431.3" y1="1770" x2="1431.3" y2="1855" stroke="#858585" stroke-width="0.95"/>
<line x1="1454.4" y1="1770" x2="1454.4" y2="1855" stroke="#858585" stroke-width="0.95"/>
<line x1="1477.5" y1="1770" x2="1477.5" y2="1855" stroke="#858585" stroke-width="0.95"/>
<line x1="1500.6" y1="1770" x2="1500.6" y2="1855" stroke="#858585" stroke-width="0.95"/>
<line x1="1523.7" y1="1770" x2="1523.7" y2="1855" stroke="#858585" stroke-width="0.95"/>
<line x1="1546.8" y1="1770" x2="1546.8" y2="1855" stroke="#858585" stroke-width="0.95"/>
<line x1="1569.9" y1="1770" x2="1569.9" y2="1855" stroke="#858585" stroke-width="0.95"/>
<line x1="1593" y1="1770" x2="1593" y2="1855" stroke="#858585" stroke-width="0.95"/>
<line x1="1616.1" y1="1770" x2="1616.1" y2="1855" stroke="#858585" stroke-width="0.95"/>
<line x1="1639.2" y1="1770" x2="1639.2" y2="1855" stroke="#858585" stroke-width="0.95"/>
<line x1="1662.3" y1="1770" x2="1662.3" y2="1855" stroke="#858585" stroke-width="0.95"/>
<line x1="1685.4" y1="1770" x2="1685.4" y2="1855" stroke="#858585" stroke-width="0.95"/>
<line x1="1708.5" y1="1770" x2="1708.5" y2="1855" stroke="#858585" stroke-width="0.95"/>
<line x1="1107" y1="1790.1" x2="1834.4" y2="1790.1" stroke="#858585" stroke-width="0.95"/>
<line x1="1107" y1="1812.3" x2="1834.4" y2="1812.3" stroke="#858585" stroke-width="0.95"/>
<line x1="1107" y1="1835.4" x2="1834.4" y2="1835.4" stroke="#858585" stroke-width="0.95"/>
<line x1="1854" y1="1812" x2="1854" y2="1855" stroke="#858585" stroke-width="0.95"/>
<line x1="1874.7" y1="1812" x2="1874.7" y2="1855" stroke="#858585" stroke-width="0.95"/>
<line x1="1895.4" y1="1812" x2="1895.4" y2="1855" stroke="#858585" stroke-width="0.95"/>
<line x1="1916.1" y1="1812" x2="1916.1" y2="1855" stroke="#858585" stroke-width="0.95"/>
<line x1="1936.8" y1="1812" x2="1936.8" y2="1855" stroke="#858585" stroke-width="0.95"/>
<line x1="1957.5" y1="1812" x2="1957.5" y2="1855" stroke="#858585" stroke-width="0.95"/>
<path d="M1834.4,1811.5 H1969.5 V1835 Q1969.5,1855 1948,1855 H1107" fill="none" stroke="#000" stroke-width="2" />
<path d="M1965.5,1811.5 V1835 Q1965.5,1851 1948,1851" fill="none" stroke="#000" stroke-width="1" />
<rect x="1107" y="1772" width="39" height="74" fill="#fff" stroke="none" stroke-width="0" />
<line x1="1107" y1="1772" x2="1107" y2="1850" stroke="#000" stroke-width="1.6"/>
<path d="M1107,1780 L1140,1780 A33,33 0 0 1 1107,1813" fill="none" stroke="#000" stroke-width="1.2" />
<path d="M1107,1846 L1140,1846 A33,33 0 0 0 1107,1813" fill="none" stroke="#000" stroke-width="1.2" />
<line x1="1107" y1="1780" x2="1145" y2="1780" stroke="#000" stroke-width="1.5"/>
<line x1="1107" y1="1846" x2="1145" y2="1846" stroke="#000" stroke-width="1.5"/>
<line x1="1107" y1="1774" x2="1113" y2="1780" stroke="#000" stroke-width="1.6"/>
<line x1="1107" y1="1780" x2="1113" y2="1774" stroke="#000" stroke-width="1.6"/>
<line x1="1107" y1="1847" x2="1113" y2="1853" stroke="#000" stroke-width="1.6"/>
<line x1="1107" y1="1853" x2="1113" y2="1847" stroke="#000" stroke-width="1.6"/>
<rect x="2150" y="241.8" width="543" height="199.2" fill="#f6f8de" stroke="none" stroke-width="0" />
<rect x="2698" y="241.8" width="546.5" height="200" fill="#e4e4f4" stroke="none" stroke-width="0" />
<rect x="3110" y="448" width="128.4" height="395" fill="#e4e4f4" stroke="none" stroke-width="0" />
<rect x="3142" y="843" width="96.4" height="28" fill="#e4e4f4" stroke="none" stroke-width="0" />
<line x1="2143" y1="234.5" x2="3247.3" y2="234.5" stroke="#000" stroke-width="2.4"/>
<rect x="2143.5" y="234.5" width="6" height="212.5" fill="#fff" stroke="#000" stroke-width="1.6" />
<rect x="2150" y="239.6" width="1094.5" height="2.9" fill="#000"/>
<line x1="2160" y1="237.2" x2="3240" y2="237.2" stroke="#999" stroke-width="0.8" stroke-dasharray="14 8"/>
<rect x="3244.5" y="234.5" width="2.8" height="711.5" fill="#000"/>
<rect x="3238.4" y="241.8" width="3.1" height="687.2" fill="#000"/>
<line x1="2143" y1="441.8" x2="3107" y2="441.8" stroke="#000" stroke-width="2.2"/>
<rect x="2150" y="446" width="957" height="2.8" fill="#000"/>
<line x1="2160" y1="444" x2="3100" y2="444" stroke="#999" stroke-width="0.8" stroke-dasharray="14 8"/>
<rect x="2143.5" y="441.8" width="6" height="58.2" fill="#fff" stroke="#000" stroke-width="1.6" />
<line x1="2134" y1="510.6" x2="2161.8" y2="482.4" stroke="#000" stroke-width="1.8"/>
<line x1="2150" y1="241.8" x2="2150" y2="441" stroke="#000" stroke-width="1.4"/>
<rect x="2693" y="241.8" width="5.2" height="200" fill="#000"/>
<line x1="2152" y1="244" x2="2692" y2="439" stroke="#000" stroke-width="1.1" stroke-dasharray="6 5"/>
<line x1="2152" y1="439" x2="2692" y2="244" stroke="#000" stroke-width="1.1" stroke-dasharray="6 5"/>
<text x="2416.5" y="339.5" font-size="19.3" text-anchor="middle" font-weight="normal" fill="#000" stroke="#000" stroke-width="0.83" textLength="202" lengthAdjust="spacingAndGlyphs">OPEN TO RECEIVING &amp;</text>
<text x="2418" y="361.5" font-size="19.3" text-anchor="middle" font-weight="normal" fill="#000" stroke="#000" stroke-width="0.83" textLength="211" lengthAdjust="spacingAndGlyphs">STORAGE AREA BELOW</text>
<text x="2697.5" y="647" font-size="19.3" text-anchor="middle" font-weight="normal" fill="#000" stroke="#000" stroke-width="0.83" textLength="220" lengthAdjust="spacingAndGlyphs">OPEN TO RETAIL BELOW</text>
<text x="2817.3" y="211.8" font-size="13.3" text-anchor="start" font-weight="normal" fill="#000" stroke="#000" stroke-width="0.60" textLength="74.5" lengthAdjust="spacingAndGlyphs">ROOF  ACCESS</text>
<text x="2817.3" y="223.6" font-size="13.3" text-anchor="start" font-weight="normal" fill="#000" stroke="#000" stroke-width="0.60" textLength="35" lengthAdjust="spacingAndGlyphs">ABOVE</text>
<rect x="2698" y="376.4" width="183" height="5.4" fill="#000"/>
<rect x="2875.5" y="241.8" width="5.5" height="109.2" fill="#000"/>
<rect x="2875.5" y="376.4" width="5.5" height="40.6" fill="#000"/>
<path d="M2881,351.8 L2857,351.8 A24,24 0 0 0 2881,375.8" fill="none" stroke="#000" stroke-width="1.2" />
<line x1="2857" y1="376.4" x2="2881" y2="376.4" stroke="#000" stroke-width="1.2"/>
<path d="M2881,438 L2860,438 A21,21 0 0 1 2881,417" fill="none" stroke="#000" stroke-width="1.2" />
<line x1="2740" y1="381.8" x2="2740" y2="418" stroke="#000" stroke-width="1.8"/>
<line x1="2784" y1="381.8" x2="2784" y2="418" stroke="#000" stroke-width="1.8"/>
<rect x="2724.5" y="284.5" width="121.9" height="41" fill="#f7f08c" stroke="#000" stroke-width="1.2" />
<line x1="2744.5" y1="284.5" x2="2744.5" y2="325.5" stroke="#000" stroke-width="1"/>
<line x1="2785" y1="284.5" x2="2785" y2="325.5" stroke="#000" stroke-width="1"/>
<line x1="2826.4" y1="284.5" x2="2826.4" y2="325.5" stroke="#000" stroke-width="1"/>
<line x1="2744.5" y1="304.5" x2="2826.4" y2="304.5" stroke="#000" stroke-width="1"/>
<rect x="2728.2" y="270.1" width="12.5" height="12.5" rx="3.5" fill="#f4b070" stroke="#000" stroke-width="1.5" transform="rotate(0 2734.5 276.3)"/>
<rect x="2728.2" y="327.4" width="12.5" height="12.5" rx="3.5" fill="#f4b070" stroke="#000" stroke-width="1.5" transform="rotate(0 2734.5 333.6)"/>
<rect x="2749.2" y="270.1" width="12.5" height="12.5" rx="3.5" fill="#f4b070" stroke="#000" stroke-width="1.5" transform="rotate(0 2755.5 276.3)"/>
<rect x="2749.2" y="327.4" width="12.5" height="12.5" rx="3.5" fill="#f4b070" stroke="#000" stroke-width="1.5" transform="rotate(0 2755.5 333.6)"/>
<rect x="2768.8" y="270.1" width="12.5" height="12.5" rx="3.5" fill="#f4b070" stroke="#000" stroke-width="1.5" transform="rotate(0 2775.0 276.3)"/>
<rect x="2768.8" y="327.4" width="12.5" height="12.5" rx="3.5" fill="#f4b070" stroke="#000" stroke-width="1.5" transform="rotate(0 2775.0 333.6)"/>
<rect x="2789.6" y="270.1" width="12.5" height="12.5" rx="3.5" fill="#f4b070" stroke="#000" stroke-width="1.5" transform="rotate(0 2795.8 276.3)"/>
<rect x="2789.6" y="327.4" width="12.5" height="12.5" rx="3.5" fill="#f4b070" stroke="#000" stroke-width="1.5" transform="rotate(0 2795.8 333.6)"/>
<rect x="2809.8" y="270.1" width="12.5" height="12.5" rx="3.5" fill="#f4b070" stroke="#000" stroke-width="1.5" transform="rotate(0 2816.0 276.3)"/>
<rect x="2809.8" y="327.4" width="12.5" height="12.5" rx="3.5" fill="#f4b070" stroke="#000" stroke-width="1.5" transform="rotate(0 2816.0 333.6)"/>
<rect x="2830.2" y="270.1" width="12.5" height="12.5" rx="3.5" fill="#f4b070" stroke="#000" stroke-width="1.5" transform="rotate(0 2836.4 276.3)"/>
<rect x="2830.2" y="327.4" width="12.5" height="12.5" rx="3.5" fill="#f4b070" stroke="#000" stroke-width="1.5" transform="rotate(0 2836.4 333.6)"/>
<rect x="2710.1" y="288.6" width="12.5" height="12.5" rx="3.5" fill="#f4b070" stroke="#000" stroke-width="1.5" transform="rotate(0 2716.3 294.9)"/>
<rect x="2848.2" y="288.6" width="12.5" height="12.5" rx="3.5" fill="#f4b070" stroke="#000" stroke-width="1.5" transform="rotate(0 2854.5 294.9)"/>
<rect x="2710.1" y="308.2" width="12.5" height="12.5" rx="3.5" fill="#f4b070" stroke="#000" stroke-width="1.5" transform="rotate(0 2716.3 314.5)"/>
<rect x="2848.2" y="308.2" width="12.5" height="12.5" rx="3.5" fill="#f4b070" stroke="#000" stroke-width="1.5" transform="rotate(0 2854.5 314.5)"/>
<text x="2766" y="357.3" font-size="12.6" text-anchor="middle" font-weight="normal" fill="#000" stroke="#000" stroke-width="0.68" textLength="46" lengthAdjust="spacingAndGlyphs">TRAINING</text>
<text x="2771.8" y="368.2" font-size="12.6" text-anchor="middle" font-weight="normal" fill="#000" stroke="#000" stroke-width="0.68" textLength="60" lengthAdjust="spacingAndGlyphs">550 squ.ft.</text>
<text x="2718" y="399" font-size="12.6" text-anchor="middle" font-weight="normal" fill="#000" stroke="#000" stroke-width="0.68" textLength="7" lengthAdjust="spacingAndGlyphs">P</text>
<text x="2766.4" y="399" font-size="12.6" text-anchor="middle" font-weight="normal" fill="#000" stroke="#000" stroke-width="0.68" textLength="7" lengthAdjust="spacingAndGlyphs">P</text>
<text x="2791" y="410" font-size="12.6" text-anchor="middle" font-weight="normal" fill="#000" stroke="#000" stroke-width="0.68" textLength="60" lengthAdjust="spacingAndGlyphs">240 squ.ft.</text>
<rect x="2881" y="241.8" width="83.5" height="49.2" fill="none" stroke="none" stroke-width="0" />
<rect x="2962.7" y="241.8" width="3.7" height="49.5" fill="#000"/>
<rect x="2881" y="289" width="85.4" height="2.3" fill="#000"/>
<rect x="2886.4" y="248" width="20" height="21" fill="none" stroke="#000" stroke-width="1" stroke-dasharray="3 2"/>
<path d="M2883,292.7 L2883,271.7 A21,21 0 0 1 2904,292.7" fill="none" stroke="#000" stroke-width="1.2" />
<text x="2929.5" y="270" font-size="13.3" text-anchor="middle" font-weight="normal" fill="#000" stroke="#000" stroke-width="0.68" textLength="53.7" lengthAdjust="spacingAndGlyphs">STORAGE</text>
<text x="2929.5" y="282.7" font-size="13.3" text-anchor="middle" font-weight="normal" fill="#000" stroke="#000" stroke-width="0.68" textLength="53.7" lengthAdjust="spacingAndGlyphs">90  squ.ft.</text>
<rect x="2906.4" y="293.6" width="61.8" height="121.9" fill="none" stroke="#000" stroke-width="2.6" />
<rect x="2910" y="297" width="55" height="115" fill="none" stroke="#000" stroke-width="1.2" />
<line x1="2910" y1="325" x2="2965" y2="325" stroke="#000" stroke-width="1.3"/>
<line x1="2910" y1="334.6" x2="2965" y2="334.6" stroke="#000" stroke-width="1.3"/>
<line x1="2910" y1="344.2" x2="2965" y2="344.2" stroke="#000" stroke-width="1.3"/>
<line x1="2910" y1="353.8" x2="2965" y2="353.8" stroke="#000" stroke-width="1.3"/>
<line x1="2910" y1="363.4" x2="2965" y2="363.4" stroke="#000" stroke-width="1.3"/>
<line x1="2910" y1="373" x2="2965" y2="373" stroke="#000" stroke-width="1.3"/>
<line x1="2910" y1="382.6" x2="2965" y2="382.6" stroke="#000" stroke-width="1.3"/>
<line x1="2910" y1="392.2" x2="2965" y2="392.2" stroke="#000" stroke-width="1.3"/>
<line x1="2910" y1="401.8" x2="2965" y2="401.8" stroke="#000" stroke-width="1.3"/>
<line x1="2938.2" y1="324.5" x2="2938.2" y2="411.8" stroke="#000" stroke-width="1.4"/>
<rect x="2924.5" y="387.3" width="29.1" height="12.7" fill="#e4e4f4" stroke="#000" stroke-width="1" />
<line x1="2910" y1="324.5" x2="2965" y2="324.5" stroke="#000" stroke-width="1.6"/>
<rect x="2912" y="300" width="52" height="22" fill="#e4e4f4" stroke="none" stroke-width="0" />
<text x="2937" y="308.2" font-size="13.3" text-anchor="middle" font-weight="normal" fill="#000" stroke="#000" stroke-width="0.68" textLength="28.5" lengthAdjust="spacingAndGlyphs">ST-2</text>
<text x="2932" y="321.8" font-size="13.3" text-anchor="middle" font-weight="normal" fill="#000" stroke="#000" stroke-width="0.68" textLength="13" lengthAdjust="spacingAndGlyphs">DN</text>
<text x="2900.5" y="312.7" font-size="12.6" text-anchor="middle" font-weight="normal" fill="#000" stroke="#000" stroke-width="0.68" textLength="21" lengthAdjust="spacingAndGlyphs">EXIT</text>
<rect x="2968" y="241.8" width="14.7" height="127.2" fill="#f7f08c" stroke="#000" stroke-width="1.2" />
<rect x="2968" y="278" width="16" height="15.6" fill="#f49a78" stroke="#000" stroke-width="1.2" />
<line x1="2974" y1="284" x2="2974" y2="287.6" stroke="#000" stroke-width="1.2"/>
<rect x="2968" y="333.6" width="16" height="16.4" fill="#f49a78" stroke="#000" stroke-width="1.2" />
<line x1="2974" y1="339.6" x2="2974" y2="344" stroke="#000" stroke-width="1.2"/>
<rect x="2968" y="351.8" width="16" height="17.2" fill="#f49a78" stroke="#000" stroke-width="1.2" />
<line x1="2974" y1="357.8" x2="2974" y2="363" stroke="#000" stroke-width="1.2"/>
<rect x="2968" y="310" width="14" height="20" fill="#222" stroke="#000" stroke-width="1" />
<rect x="2970" y="260" width="8" height="13" fill="none" stroke="#000" stroke-width="1.2" />
<rect x="3004.8" y="255.4" width="11" height="11" rx="3.5" fill="#f4b070" stroke="#000" stroke-width="1.5" transform="rotate(45 3010.3 260.9)"/>
<rect x="3034.2" y="255.4" width="11" height="11" rx="3.5" fill="#f4b070" stroke="#000" stroke-width="1.5" transform="rotate(45 3039.7 260.9)"/>
<rect x="3004.8" y="284.7" width="11" height="11" rx="3.5" fill="#f4b070" stroke="#000" stroke-width="1.5" transform="rotate(45 3010.3 290.2)"/>
<rect x="3034.2" y="284.7" width="11" height="11" rx="3.5" fill="#f4b070" stroke="#000" stroke-width="1.5" transform="rotate(45 3039.7 290.2)"/>
<circle cx="3025" cy="275.8" r="14.2" fill="#f7f08c" stroke="#000" stroke-width="1.2"/>
<rect x="3004.8" y="308.3" width="11" height="11" rx="3.5" fill="#f4b070" stroke="#000" stroke-width="1.5" transform="rotate(45 3010.3 313.8)"/>
<rect x="3034.2" y="308.3" width="11" height="11" rx="3.5" fill="#f4b070" stroke="#000" stroke-width="1.5" transform="rotate(45 3039.7 313.8)"/>
<rect x="3004.8" y="337.6" width="11" height="11" rx="3.5" fill="#f4b070" stroke="#000" stroke-width="1.5" transform="rotate(45 3010.3 343.1)"/>
<rect x="3034.2" y="337.6" width="11" height="11" rx="3.5" fill="#f4b070" stroke="#000" stroke-width="1.5" transform="rotate(45 3039.7 343.1)"/>
<circle cx="3025" cy="328.7" r="14.2" fill="#f7f08c" stroke="#000" stroke-width="1.2"/>
<rect x="3004.8" y="363.2" width="11" height="11" rx="3.5" fill="#f4b070" stroke="#000" stroke-width="1.5" transform="rotate(45 3010.3 368.7)"/>
<rect x="3034.2" y="363.2" width="11" height="11" rx="3.5" fill="#f4b070" stroke="#000" stroke-width="1.5" transform="rotate(45 3039.7 368.7)"/>
<rect x="3004.8" y="392.5" width="11" height="11" rx="3.5" fill="#f4b070" stroke="#000" stroke-width="1.5" transform="rotate(45 3010.3 398.0)"/>
<rect x="3034.2" y="392.5" width="11" height="11" rx="3.5" fill="#f4b070" stroke="#000" stroke-width="1.5" transform="rotate(45 3039.7 398.0)"/>
<circle cx="3025" cy="383.6" r="14.2" fill="#f7f08c" stroke="#000" stroke-width="1.2"/>
<rect x="3055.5" y="329" width="5" height="82.8" fill="#000"/>
<text transform="translate(3079.5,370) rotate(-90)" x="0" y="0" font-size="15.4" text-anchor="middle" font-weight="normal" fill="#000" stroke="#000" stroke-width="0.68" textLength="48" lengthAdjust="spacingAndGlyphs">LOCKERS</text>
<rect x="3090" y="241.8" width="9" height="53.7" fill="#f49a78" stroke="#000" stroke-width="1.2" />
<line x1="3090" y1="249.5" x2="3099" y2="249.5" stroke="#000" stroke-width="1"/>
<line x1="3090" y1="257.1" x2="3099" y2="257.1" stroke="#000" stroke-width="1"/>
<line x1="3090" y1="264.8" x2="3099" y2="264.8" stroke="#000" stroke-width="1"/>
<line x1="3090" y1="272.5" x2="3099" y2="272.5" stroke="#000" stroke-width="1"/>
<line x1="3090" y1="280.2" x2="3099" y2="280.2" stroke="#000" stroke-width="1"/>
<line x1="3090" y1="287.8" x2="3099" y2="287.8" stroke="#000" stroke-width="1"/>
<rect x="3090" y="329" width="9" height="82" fill="#f49a78" stroke="#000" stroke-width="1.2" />
<line x1="3090" y1="336.5" x2="3099" y2="336.5" stroke="#000" stroke-width="1"/>
<line x1="3090" y1="343.9" x2="3099" y2="343.9" stroke="#000" stroke-width="1"/>
<line x1="3090" y1="351.4" x2="3099" y2="351.4" stroke="#000" stroke-width="1"/>
<line x1="3090" y1="358.8" x2="3099" y2="358.8" stroke="#000" stroke-width="1"/>
<line x1="3090" y1="366.3" x2="3099" y2="366.3" stroke="#000" stroke-width="1"/>
<line x1="3090" y1="373.7" x2="3099" y2="373.7" stroke="#000" stroke-width="1"/>
<line x1="3090" y1="381.2" x2="3099" y2="381.2" stroke="#000" stroke-width="1"/>
<line x1="3090" y1="388.6" x2="3099" y2="388.6" stroke="#000" stroke-width="1"/>
<line x1="3090" y1="396.1" x2="3099" y2="396.1" stroke="#000" stroke-width="1"/>
<line x1="3090" y1="403.5" x2="3099" y2="403.5" stroke="#000" stroke-width="1"/>
<rect x="3100" y="241.8" width="4.5" height="60" fill="#000"/>
<rect x="3100" y="322.7" width="4.5" height="95.3" fill="#000"/>
<path d="M3100,302.7 L3080,302.7 A20,20 0 0 0 3100,322.7" fill="none" stroke="#000" stroke-width="1.2" />
<path d="M3100,438 L3080,438 A20,20 0 0 1 3100,418" fill="none" stroke="#000" stroke-width="1.2" />
<line x1="3080" y1="302.7" x2="3100" y2="302.7" stroke="#000" stroke-width="1.2"/>
<line x1="3080" y1="418" x2="3100" y2="418" stroke="#000" stroke-width="1.2"/>
<line x1="3080" y1="438" x2="3100" y2="438" stroke="#000" stroke-width="1.2"/>
<line x1="3080" y1="322.7" x2="3100" y2="322.7" stroke="#000" stroke-width="1.2"/>
<text x="3010" y="419" font-size="13.3" text-anchor="middle" font-weight="normal" fill="#000" stroke="#000" stroke-width="0.68" textLength="60" lengthAdjust="spacingAndGlyphs">CAFETERIA</text>
<text x="3010" y="431.8" font-size="13.3" text-anchor="middle" font-weight="normal" fill="#000" stroke="#000" stroke-width="0.68" textLength="60" lengthAdjust="spacingAndGlyphs">577  squ.ft.</text>
<rect x="3137.3" y="241.8" width="4.5" height="54.2" fill="#000"/>
<rect x="3137.3" y="320" width="4.5" height="42" fill="#000"/>
<rect x="3137.3" y="384" width="4.5" height="6" fill="#000"/>
<rect x="3137.3" y="413" width="4.5" height="36" fill="#000"/>
<rect x="3141.8" y="241.8" width="96.6" height="78.2" fill="url(#tile)" stroke="none" stroke-width="0" />
<rect x="3141.8" y="323.6" width="96.6" height="60" fill="url(#tile)" stroke="none" stroke-width="0" />
<rect x="3141.8" y="320" width="96.6" height="3.6" fill="#000"/>
<rect x="3141.8" y="383.6" width="96.6" height="4" fill="#000"/>
<rect x="3141.8" y="388" width="96.6" height="3" fill="#000"/>
<rect x="3178" y="244" width="58" height="10" fill="#f7f08c" stroke="#000" stroke-width="1" />
<rect x="3222" y="246" width="14" height="10" fill="#6ab0f0" stroke="#000" stroke-width="1.2" />
<circle cx="3189" cy="249.5" r="5" fill="#4a8ad0" stroke="#000" stroke-width="2"/>
<circle cx="3209" cy="249.5" r="5" fill="#4a8ad0" stroke="#000" stroke-width="2"/>
<path d="M3183,309 Q3188,296 3193,309 Q3194,318 3188,320 Q3182,318 3183,309 Z" fill="#6ab0f0" stroke="#000" stroke-width="2.2" />
<path d="M3204,309 Q3209,296 3214,309 Q3215,318 3209,320 Q3203,318 3204,309 Z" fill="#6ab0f0" stroke="#000" stroke-width="2.2" />
<path d="M3224,309 Q3229,296 3234,309 Q3235,318 3229,320 Q3223,318 3224,309 Z" fill="#6ab0f0" stroke="#000" stroke-width="2.2" />
<rect x="3176.5" y="286" width="3.5" height="34" fill="#000"/>
<line x1="3198" y1="286" x2="3198" y2="320" stroke="#000" stroke-width="1.2"/>
<line x1="3218" y1="286" x2="3218" y2="320" stroke="#000" stroke-width="1.2"/>
<path d="M3141.8,316 L3141.8,296 A20,20 0 0 1 3161.8,316" fill="none" stroke="#000" stroke-width="1" />
<rect x="3142" y="325" width="12" height="30" fill="#f7f08c" stroke="#000" stroke-width="1.2" />
<circle cx="3148" cy="331.5" r="5" fill="#4a8ad0" stroke="#000" stroke-width="2"/>
<circle cx="3148" cy="349" r="5" fill="#4a8ad0" stroke="#000" stroke-width="2"/>
<path d="M3224,372 Q3229,360 3234,372 Q3235,380 3229,382 Q3223,380 3224,372 Z" fill="#6ab0f0" stroke="#000" stroke-width="2.2" />
<rect x="3176.5" y="356" width="3.5" height="27" fill="#000"/>
<circle cx="3189" cy="382" r="5" fill="#000" stroke="#000" stroke-width="1"/>
<circle cx="3209" cy="382" r="5" fill="#000" stroke="#000" stroke-width="1"/>
<path d="M3141.8,382 L3141.8,362 A20,20 0 0 1 3161.8,382" fill="none" stroke="#000" stroke-width="1" />
<text x="3189" y="269" font-size="12.6" text-anchor="middle" font-weight="normal" fill="#000" stroke="#000" stroke-width="0.68" textLength="36" lengthAdjust="spacingAndGlyphs">WOMEN</text>
<text x="3190" y="281" font-size="12.6" text-anchor="middle" font-weight="normal" fill="#000" stroke="#000" stroke-width="0.68" textLength="19" lengthAdjust="spacingAndGlyphs">W.C.</text>
<text x="3198" y="344.5" font-size="12.6" text-anchor="middle" font-weight="normal" fill="#000" stroke="#000" stroke-width="0.68" textLength="21" lengthAdjust="spacingAndGlyphs">MEN</text>
<text x="3198" y="357.3" font-size="12.6" text-anchor="middle" font-weight="normal" fill="#000" stroke="#000" stroke-width="0.68" textLength="19" lengthAdjust="spacingAndGlyphs">W.C.</text>
<rect x="3230" y="391" width="9" height="50" fill="#f7f08c" stroke="none" stroke-width="0" />
<rect x="3168" y="432.7" width="71" height="8.3" fill="#f7f08c" stroke="none" stroke-width="0" />
<path d="M3168,441 V432.7 H3230 V391" fill="none" stroke="#000" stroke-width="1.1" />
<path d="M3141.8,391.8 L3162.3,391.8 A20.5,20.5 0 0 1 3141.8,412.3" fill="none" stroke="#000" stroke-width="1.2" />
<text x="3194.5" y="405.5" font-size="13.3" text-anchor="middle" font-weight="normal" fill="#000" stroke="#000" stroke-width="0.68" textLength="42" lengthAdjust="spacingAndGlyphs">OFFICE</text>
<text x="3194.5" y="417.3" font-size="13.3" text-anchor="middle" font-weight="normal" fill="#000" stroke="#000" stroke-width="0.68" textLength="48" lengthAdjust="spacingAndGlyphs">STORAGE</text>
<text x="3194.5" y="430" font-size="13.3" text-anchor="middle" font-weight="normal" fill="#000" stroke="#000" stroke-width="0.68" textLength="60" lengthAdjust="spacingAndGlyphs">7.5' x 14.5'</text>
<rect x="3106.9" y="443.8" width="3.4" height="401.2" fill="#000"/>
<rect x="3106.9" y="841.4" width="105.6" height="3.6" fill="#000"/>
<rect x="3136.8" y="447" width="5.2" height="91" fill="#000"/>
<rect x="3136.8" y="586" width="5.2" height="81" fill="#000"/>
<rect x="3136.8" y="716" width="5.2" height="41" fill="#000"/>
<line x1="3139.4" y1="455" x2="3139.4" y2="550" stroke="#fff" stroke-width="1"/>
<line x1="3139.4" y1="630" x2="3139.4" y2="680" stroke="#fff" stroke-width="1"/>
<rect x="3136.8" y="559" width="104.2" height="5.3" fill="#000"/>
<rect x="3136.8" y="624.5" width="104.2" height="4.5" fill="#000"/>
<rect x="3136.8" y="687.5" width="104.2" height="4.9" fill="#000"/>
<rect x="3136.8" y="750" width="104.2" height="7" fill="#000"/>
<path d="M3137,561.5 L3137,538.5 A23,23 0 0 1 3160,561.5" fill="none" stroke="#000" stroke-width="1.2" />
<path d="M3137,561.5 L3137,584.5 A23,23 0 0 0 3160,561.5" fill="none" stroke="#000" stroke-width="1.2" />
<path d="M3137,690.5 L3137,667.5 A23,23 0 0 1 3160,690.5" fill="none" stroke="#000" stroke-width="1.2" />
<path d="M3137,690.5 L3137,713.5 A23,23 0 0 0 3160,690.5" fill="none" stroke="#000" stroke-width="1.2" />
<rect x="3142" y="449" width="8.6" height="32.6" fill="#f7f08c" stroke="none" stroke-width="0" />
<path d="M3197,469.6 H3238.4 V449 H3232 V481.6 H3197 Z" fill="#f7f08c" stroke="#000" stroke-width="0" />
<path d="M3142,481.6 H3150.6 V449 M3197,481.6 V469.6 H3232 V449" fill="none" stroke="#000" stroke-width="1.1" />
<rect x="3205.3" y="455.5" width="11" height="11" rx="3.5" fill="#f4b070" stroke="#000" stroke-width="1.5" transform="rotate(0 3210.8 461.0)"/>
<text x="3192" y="480" font-size="12.6" text-anchor="middle" font-weight="normal" fill="#000" stroke="#000" stroke-width="0.68" textLength="32" lengthAdjust="spacingAndGlyphs">STORE</text>
<text x="3192" y="492" font-size="12.6" text-anchor="middle" font-weight="normal" fill="#000" stroke="#000" stroke-width="0.68" textLength="50" lengthAdjust="spacingAndGlyphs">MANAGER</text>
<text x="3192" y="511" font-size="12.6" text-anchor="middle" font-weight="normal" fill="#000" stroke="#000" stroke-width="0.68" textLength="68" lengthAdjust="spacingAndGlyphs">16.5' x 14.5'</text>
<rect x="3178.8" y="515.0" width="11" height="11" rx="3.5" fill="#f4b070" stroke="#000" stroke-width="1.5" transform="rotate(45 3184.3 520.5)"/>
<rect x="3207.8" y="515.0" width="11" height="11" rx="3.5" fill="#f4b070" stroke="#000" stroke-width="1.5" transform="rotate(45 3213.3 520.5)"/>
<rect x="3178.8" y="544.0" width="11" height="11" rx="3.5" fill="#f4b070" stroke="#000" stroke-width="1.5" transform="rotate(45 3184.3 549.5)"/>
<rect x="3207.8" y="544.0" width="11" height="11" rx="3.5" fill="#f4b070" stroke="#000" stroke-width="1.5" transform="rotate(45 3213.3 549.5)"/>
<circle cx="3198.8" cy="535" r="14.5" fill="#f7f08c" stroke="#000" stroke-width="1.2"/>
<path d="M3192,588.4 H3202 V614 H3224.6 V624.5 H3192 Z" fill="#f7f08c" stroke="#000" stroke-width="1.1" />
<rect x="3207.0" y="591.5" width="11" height="11" rx="3.5" fill="#f4b070" stroke="#000" stroke-width="1.5" transform="rotate(0 3212.5 597.0)"/>
<text x="3193.6" y="576.3" font-size="12.6" text-anchor="middle" font-weight="normal" fill="#000" stroke="#000" stroke-width="0.68" textLength="28" lengthAdjust="spacingAndGlyphs">ASST.</text>
<text x="3193.6" y="588.4" font-size="12.6" text-anchor="middle" font-weight="normal" fill="#000" stroke="#000" stroke-width="0.68" textLength="50" lengthAdjust="spacingAndGlyphs">MANAGER</text>
<text x="3193.6" y="610.8" font-size="12.6" text-anchor="middle" font-weight="normal" fill="#000" stroke="#000" stroke-width="0.68" textLength="55" lengthAdjust="spacingAndGlyphs">9'  x  14.5'</text>
<text x="3192" y="641.7" font-size="12.6" text-anchor="middle" font-weight="normal" fill="#000" stroke="#000" stroke-width="0.68" textLength="28" lengthAdjust="spacingAndGlyphs">TEAM</text>
<text x="3192" y="653.8" font-size="12.6" text-anchor="middle" font-weight="normal" fill="#000" stroke="#000" stroke-width="0.68" textLength="30" lengthAdjust="spacingAndGlyphs">LEADS</text>
<text x="3192" y="676.2" font-size="12.6" text-anchor="middle" font-weight="normal" fill="#000" stroke="#000" stroke-width="0.68" textLength="55" lengthAdjust="spacingAndGlyphs">9'  x  14.5'</text>
<text x="3190" y="707" font-size="12.6" text-anchor="middle" font-weight="normal" fill="#000" stroke="#000" stroke-width="0.68" textLength="28" lengthAdjust="spacingAndGlyphs">CASH</text>
<text x="3190" y="719.2" font-size="12.6" text-anchor="middle" font-weight="normal" fill="#000" stroke="#000" stroke-width="0.68" textLength="20" lengthAdjust="spacingAndGlyphs">OUT</text>
<text x="3192" y="736.4" font-size="12.6" text-anchor="middle" font-weight="normal" fill="#000" stroke="#000" stroke-width="0.68" textLength="55" lengthAdjust="spacingAndGlyphs">9'  x  14.5'</text>
<rect x="3142" y="757" width="44.7" height="53.4" fill="none" stroke="#000" stroke-width="2.2" />
<rect x="3192" y="757" width="46.4" height="53.4" fill="none" stroke="#000" stroke-width="2.2" />
<rect x="3186.7" y="757" width="5.3" height="53.4" fill="#000"/>
<line x1="3145" y1="798" x2="3185" y2="798" stroke="#000" stroke-width="1.2"/>
<line x1="3158" y1="792" x2="3170" y2="804" stroke="#000" stroke-width="1.4"/>
<line x1="3158" y1="804" x2="3170" y2="792" stroke="#000" stroke-width="1.4"/>
<text x="3164.4" y="769" font-size="12.6" text-anchor="middle" font-weight="normal" fill="#000" stroke="#000" stroke-width="0.68" textLength="32" lengthAdjust="spacingAndGlyphs">VAULT</text>
<text x="3164.4" y="781" font-size="12.6" text-anchor="middle" font-weight="normal" fill="#000" stroke="#000" stroke-width="0.68" textLength="28" lengthAdjust="spacingAndGlyphs">ROOM</text>
<text x="3214.3" y="774.3" font-size="12.6" text-anchor="middle" font-weight="normal" fill="#000" stroke="#000" stroke-width="0.68" textLength="40" lengthAdjust="spacingAndGlyphs">SERVER</text>
<text x="3214.3" y="784.6" font-size="12.6" text-anchor="middle" font-weight="normal" fill="#000" stroke="#000" stroke-width="0.68" textLength="28" lengthAdjust="spacingAndGlyphs">ROOM</text>
<text x="3214.3" y="801.8" font-size="12.6" text-anchor="middle" font-weight="normal" fill="#000" stroke="#000" stroke-width="0.68" textLength="36" lengthAdjust="spacingAndGlyphs">8'  x 7'</text>
<rect x="3139" y="810.4" width="102" height="3.6" fill="#000"/>
<line x1="3150" y1="815.6" x2="3150" y2="841" stroke="#000" stroke-width="1.1"/>
<line x1="3150" y1="845" x2="3150" y2="870.7" stroke="#000" stroke-width="1"/>
<line x1="3153.8" y1="815.6" x2="3153.8" y2="841" stroke="#000" stroke-width="1.1"/>
<line x1="3153.8" y1="845" x2="3153.8" y2="870.7" stroke="#000" stroke-width="1"/>
<line x1="3157.5" y1="815.6" x2="3157.5" y2="841" stroke="#000" stroke-width="1.1"/>
<line x1="3157.5" y1="845" x2="3157.5" y2="870.7" stroke="#000" stroke-width="1"/>
<line x1="3161.2" y1="815.6" x2="3161.2" y2="841" stroke="#000" stroke-width="1.1"/>
<line x1="3161.2" y1="845" x2="3161.2" y2="870.7" stroke="#000" stroke-width="1"/>
<line x1="3165" y1="815.6" x2="3165" y2="841" stroke="#000" stroke-width="1.1"/>
<line x1="3165" y1="845" x2="3165" y2="870.7" stroke="#000" stroke-width="1"/>
<line x1="3168.8" y1="815.6" x2="3168.8" y2="841" stroke="#000" stroke-width="1.1"/>
<line x1="3168.8" y1="845" x2="3168.8" y2="870.7" stroke="#000" stroke-width="1"/>
<line x1="3172.5" y1="815.6" x2="3172.5" y2="841" stroke="#000" stroke-width="1.1"/>
<line x1="3172.5" y1="845" x2="3172.5" y2="870.7" stroke="#000" stroke-width="1"/>
<line x1="3176.2" y1="815.6" x2="3176.2" y2="841" stroke="#000" stroke-width="1.1"/>
<line x1="3176.2" y1="845" x2="3176.2" y2="870.7" stroke="#000" stroke-width="1"/>
<line x1="3180" y1="815.6" x2="3180" y2="841" stroke="#000" stroke-width="1.1"/>
<line x1="3180" y1="845" x2="3180" y2="870.7" stroke="#000" stroke-width="1"/>
<line x1="3183.8" y1="815.6" x2="3183.8" y2="841" stroke="#000" stroke-width="1.1"/>
<line x1="3183.8" y1="845" x2="3183.8" y2="870.7" stroke="#000" stroke-width="1"/>
<line x1="3187.5" y1="815.6" x2="3187.5" y2="841" stroke="#000" stroke-width="1.1"/>
<line x1="3187.5" y1="845" x2="3187.5" y2="870.7" stroke="#000" stroke-width="1"/>
<line x1="3191.2" y1="815.6" x2="3191.2" y2="841" stroke="#000" stroke-width="1.1"/>
<line x1="3191.2" y1="845" x2="3191.2" y2="870.7" stroke="#000" stroke-width="1"/>
<line x1="3195" y1="815.6" x2="3195" y2="841" stroke="#000" stroke-width="1.1"/>
<line x1="3195" y1="845" x2="3195" y2="870.7" stroke="#000" stroke-width="1"/>
<line x1="3198.8" y1="815.6" x2="3198.8" y2="841" stroke="#000" stroke-width="1.1"/>
<line x1="3198.8" y1="845" x2="3198.8" y2="870.7" stroke="#000" stroke-width="1"/>
<line x1="3202.5" y1="815.6" x2="3202.5" y2="841" stroke="#000" stroke-width="1.1"/>
<line x1="3202.5" y1="845" x2="3202.5" y2="870.7" stroke="#000" stroke-width="1"/>
<line x1="3206.2" y1="815.6" x2="3206.2" y2="841" stroke="#000" stroke-width="1.1"/>
<line x1="3206.2" y1="845" x2="3206.2" y2="870.7" stroke="#000" stroke-width="1"/>
<line x1="3210" y1="815.6" x2="3210" y2="841" stroke="#000" stroke-width="1.1"/>
<line x1="3210" y1="845" x2="3210" y2="870.7" stroke="#000" stroke-width="1"/>
<line x1="3148.9" y1="870.7" x2="3238.4" y2="870.7" stroke="#000" stroke-width="2.6"/>
<rect x="3212.5" y="822" width="14.5" height="42" fill="none" stroke="#000" stroke-width="1" />
<text transform="translate(3146,830) rotate(-90)" x="0" y="0" font-size="10.5" text-anchor="middle" font-weight="normal" fill="#000" stroke="#000" stroke-width="0.52" textLength="11" lengthAdjust="spacingAndGlyphs">DN</text>
<path d="M3243.5,465 H3252 V475 H3243.5" fill="none" stroke="#000" stroke-width="1" />
<path d="M3243.5,495 H3252 V505 H3243.5" fill="none" stroke="#000" stroke-width="1" />
<path d="M3243.5,529 H3252 V539 H3243.5" fill="none" stroke="#000" stroke-width="1" />
<path d="M3243.5,558 H3252 V568 H3243.5" fill="none" stroke="#000" stroke-width="1" />
<path d="M3243.5,598 H3252 V608 H3243.5" fill="none" stroke="#000" stroke-width="1" />
<path d="M3243.5,629 H3252 V639 H3243.5" fill="none" stroke="#000" stroke-width="1" />
<path d="M3243.5,660 H3252 V670 H3243.5" fill="none" stroke="#000" stroke-width="1" />
<path d="M3243.5,697 H3252 V707 H3243.5" fill="none" stroke="#000" stroke-width="1" />
<path d="M3243.5,723 H3252 V733 H3243.5" fill="none" stroke="#000" stroke-width="1" />
<rect x="3241.5" y="490" width="2.5" height="70" fill="#000"/>
<rect x="3241.5" y="590" width="2.5" height="35" fill="#000"/>
<rect x="3241.5" y="650" width="2.5" height="40" fill="#000"/>
<line x1="3229.8" y1="939.6" x2="3257.3" y2="912" stroke="#000" stroke-width="1.8"/>
<line x1="311" y1="131.5" x2="311" y2="1987" stroke="#000" stroke-width="1.15" stroke-dasharray="163 6 7.5 6" stroke-dashoffset="66"/>
<circle cx="311" cy="103.5" r="28" fill="#fff" stroke="#000" stroke-width="1.2"/>
<text x="311" y="113.8" font-size="28.6" text-anchor="middle" font-weight="bold" fill="#000">1</text>
<line x1="589" y1="131.5" x2="589" y2="1987" stroke="#000" stroke-width="1.15" stroke-dasharray="163 6 7.5 6" stroke-dashoffset="66"/>
<circle cx="589" cy="103.5" r="28" fill="#fff" stroke="#000" stroke-width="1.2"/>
<text x="589" y="113.8" font-size="28.6" text-anchor="middle" font-weight="bold" fill="#000">2</text>
<line x1="865" y1="131.5" x2="865" y2="1987" stroke="#000" stroke-width="1.15" stroke-dasharray="163 6 7.5 6" stroke-dashoffset="66"/>
<circle cx="865" cy="103.5" r="28" fill="#fff" stroke="#000" stroke-width="1.2"/>
<text x="865" y="113.8" font-size="28.6" text-anchor="middle" font-weight="bold" fill="#000">3</text>
<line x1="1137" y1="131.5" x2="1137" y2="1987" stroke="#000" stroke-width="1.15" stroke-dasharray="163 6 7.5 6" stroke-dashoffset="66"/>
<circle cx="1137" cy="103.5" r="28" fill="#fff" stroke="#000" stroke-width="1.2"/>
<text x="1137" y="113.8" font-size="28.6" text-anchor="middle" font-weight="bold" fill="#000">4</text>
<line x1="1410" y1="131.5" x2="1410" y2="1987" stroke="#000" stroke-width="1.15" stroke-dasharray="163 6 7.5 6" stroke-dashoffset="66"/>
<circle cx="1410" cy="103.5" r="28" fill="#fff" stroke="#000" stroke-width="1.2"/>
<text x="1410" y="113.8" font-size="28.6" text-anchor="middle" font-weight="bold" fill="#000">5</text>
<line x1="1685.5" y1="131.5" x2="1685.5" y2="1987" stroke="#000" stroke-width="1.15" stroke-dasharray="163 6 7.5 6" stroke-dashoffset="66"/>
<circle cx="1685.5" cy="103.5" r="28" fill="#fff" stroke="#000" stroke-width="1.2"/>
<text x="1685.5" y="113.8" font-size="28.6" text-anchor="middle" font-weight="bold" fill="#000">6</text>
<line x1="1776.5" y1="131.5" x2="1776.5" y2="1987" stroke="#000" stroke-width="1.15" stroke-dasharray="163 6 7.5 6" stroke-dashoffset="66"/>
<circle cx="1776.5" cy="103.5" r="28" fill="#fff" stroke="#000" stroke-width="1.2"/>
<text x="1776.5" y="113.8" font-size="28.6" text-anchor="middle" font-weight="bold" fill="#000">7</text>
<line x1="160" y1="238.5" x2="1889" y2="238.5" stroke="#000" stroke-width="1.15" stroke-dasharray="163 6 7.5 6" stroke-dashoffset="37"/>
<circle cx="132" cy="238.5" r="28" fill="#fff" stroke="#000" stroke-width="1.2"/>
<text x="132" y="248.8" font-size="28.6" text-anchor="middle" font-weight="bold" fill="#000">A</text>
<line x1="160" y1="445" x2="1889" y2="445" stroke="#000" stroke-width="1.15" stroke-dasharray="163 6 7.5 6" stroke-dashoffset="37"/>
<circle cx="132" cy="445" r="28" fill="#fff" stroke="#000" stroke-width="1.2"/>
<text x="132" y="455.3" font-size="28.6" text-anchor="middle" font-weight="bold" fill="#000">B</text>
<line x1="160" y1="739.3" x2="1889" y2="739.3" stroke="#000" stroke-width="1.15" stroke-dasharray="163 6 7.5 6" stroke-dashoffset="37"/>
<circle cx="132" cy="739.3" r="28" fill="#fff" stroke="#000" stroke-width="1.2"/>
<text x="132" y="749.6" font-size="28.6" text-anchor="middle" font-weight="bold" fill="#000">C</text>
<line x1="160" y1="1010.3" x2="1889" y2="1010.3" stroke="#000" stroke-width="1.15" stroke-dasharray="163 6 7.5 6" stroke-dashoffset="37"/>
<circle cx="132" cy="1010.3" r="28" fill="#fff" stroke="#000" stroke-width="1.2"/>
<text x="132" y="1020.6" font-size="28.6" text-anchor="middle" font-weight="bold" fill="#000">D</text>
<line x1="160" y1="1282" x2="1889" y2="1282" stroke="#000" stroke-width="1.15" stroke-dasharray="163 6 7.5 6" stroke-dashoffset="37"/>
<circle cx="132" cy="1282" r="28" fill="#fff" stroke="#000" stroke-width="1.2"/>
<text x="132" y="1292.3" font-size="28.6" text-anchor="middle" font-weight="bold" fill="#000">E</text>
<line x1="160" y1="1576" x2="1889" y2="1576" stroke="#000" stroke-width="1.15" stroke-dasharray="163 6 7.5 6" stroke-dashoffset="37"/>
<circle cx="132" cy="1576" r="28" fill="#fff" stroke="#000" stroke-width="1.2"/>
<text x="132" y="1586.3" font-size="28.6" text-anchor="middle" font-weight="bold" fill="#000">F</text>
<line x1="160" y1="1769" x2="1889" y2="1769" stroke="#000" stroke-width="1.15" stroke-dasharray="163 6 7.5 6" stroke-dashoffset="37"/>
<circle cx="132" cy="1769" r="28" fill="#fff" stroke="#000" stroke-width="1.2"/>
<text x="132" y="1779.3" font-size="28.6" text-anchor="middle" font-weight="bold" fill="#000">G</text>
<line x1="2146" y1="131.5" x2="2146" y2="947" stroke="#000" stroke-width="1.15" stroke-dasharray="163 6 7.5 6" stroke-dashoffset="66"/>
<circle cx="2146" cy="103.5" r="28" fill="#fff" stroke="#000" stroke-width="1.2"/>
<text x="2146" y="113.8" font-size="28.6" text-anchor="middle" font-weight="bold" fill="#000">2</text>
<line x1="2422" y1="131.5" x2="2422" y2="947" stroke="#000" stroke-width="1.15" stroke-dasharray="163 6 7.5 6" stroke-dashoffset="66"/>
<circle cx="2422" cy="103.5" r="28" fill="#fff" stroke="#000" stroke-width="1.2"/>
<text x="2422" y="113.8" font-size="28.6" text-anchor="middle" font-weight="bold" fill="#000">3</text>
<line x1="2694" y1="131.5" x2="2694" y2="947" stroke="#000" stroke-width="1.15" stroke-dasharray="163 6 7.5 6" stroke-dashoffset="66"/>
<circle cx="2694" cy="103.5" r="28" fill="#fff" stroke="#000" stroke-width="1.2"/>
<text x="2694" y="113.8" font-size="28.6" text-anchor="middle" font-weight="bold" fill="#000">4</text>
<line x1="2967" y1="131.5" x2="2967" y2="947" stroke="#000" stroke-width="1.15" stroke-dasharray="163 6 7.5 6" stroke-dashoffset="66"/>
<circle cx="2967" cy="103.5" r="28" fill="#fff" stroke="#000" stroke-width="1.2"/>
<text x="2967" y="113.8" font-size="28.6" text-anchor="middle" font-weight="bold" fill="#000">5</text>
<line x1="3242" y1="131.5" x2="3242" y2="947" stroke="#000" stroke-width="1.15" stroke-dasharray="163 6 7.5 6" stroke-dashoffset="66"/>
<circle cx="3242" cy="103.5" r="28" fill="#fff" stroke="#000" stroke-width="1.2"/>
<text x="3242" y="113.8" font-size="28.6" text-anchor="middle" font-weight="bold" fill="#000">6</text>
<line x1="2117" y1="238.5" x2="3265" y2="238.5" stroke="#000" stroke-width="1.15" stroke-dasharray="163 6 7.5 6" stroke-dashoffset="37"/>
<circle cx="2089" cy="238.5" r="28" fill="#fff" stroke="#000" stroke-width="1.2"/>
<text x="2089" y="248.8" font-size="28.6" text-anchor="middle" font-weight="bold" fill="#000">A</text>
<line x1="2117" y1="445" x2="3265" y2="445" stroke="#000" stroke-width="1.15" stroke-dasharray="163 6 7.5 6" stroke-dashoffset="37"/>
<circle cx="2089" cy="445" r="28" fill="#fff" stroke="#000" stroke-width="1.2"/>
<text x="2089" y="455.3" font-size="28.6" text-anchor="middle" font-weight="bold" fill="#000">B</text>
<line x1="2117" y1="739.3" x2="3265" y2="739.3" stroke="#000" stroke-width="1.15" stroke-dasharray="163 6 7.5 6" stroke-dashoffset="37"/>
<circle cx="2089" cy="739.3" r="28" fill="#fff" stroke="#000" stroke-width="1.2"/>
<text x="2089" y="749.6" font-size="28.6" text-anchor="middle" font-weight="bold" fill="#000">C</text>
<circle cx="364.6" cy="2090.4" r="26.3" fill="none" stroke="#000" stroke-width="2.2"/>
<line x1="338.6" y1="2090.9" x2="651" y2="2090.9" stroke="#000" stroke-width="2.2"/>
<text x="366.6" y="2087.9" font-size="19.1" text-anchor="middle" font-weight="normal" fill="#000" stroke="#000" stroke-width="0.30" textLength="7" lengthAdjust="spacingAndGlyphs">1</text>
<line x1="360.1" y1="2100.4" x2="369.6" y2="2100.4" stroke="#000" stroke-width="1.8"/>
<text x="392.5" y="2088.4" font-size="22.9" text-anchor="start" font-weight="normal" fill="#000" stroke="#000" stroke-width="0.30" textLength="254" lengthAdjust="spacingAndGlyphs">FLOOR PLAN  -  LEVEL 1</text>
<text x="393.5" y="2103.4" font-size="13.3" text-anchor="start" font-weight="normal" fill="#000" stroke="#000" stroke-width="0.45" textLength="138" lengthAdjust="spacingAndGlyphs">SCALE: 1/16" = 1'-0"</text>
<circle cx="765" cy="2089.4" r="39.3" fill="none" stroke="#000" stroke-width="2.5"/>
<line x1="721.4" y1="2089.4" x2="807.5" y2="2089.4" stroke="#000" stroke-width="2.2"/>
<line x1="765" y1="2046.4" x2="765" y2="2134.4" stroke="#000" stroke-width="2.6"/>
<rect x="721.4" y="2086.1" width="43.6" height="5.3" fill="#000"/>
<text x="706.5" y="2098.4" font-size="29.7" text-anchor="middle" font-weight="bold" fill="#000" stroke="#000" stroke-width="0.45" textLength="18" lengthAdjust="spacingAndGlyphs">N</text>
<circle cx="2253" cy="1040" r="26.3" fill="none" stroke="#000" stroke-width="2.2"/>
<line x1="2227" y1="1040.5" x2="2540" y2="1040.5" stroke="#000" stroke-width="2.2"/>
<text x="2253" y="1037.5" font-size="19.1" text-anchor="middle" font-weight="normal" fill="#000" stroke="#000" stroke-width="0.90" textLength="11" lengthAdjust="spacingAndGlyphs">2</text>
<line x1="2248.5" y1="1050" x2="2258" y2="1050" stroke="#000" stroke-width="1.8"/>
<text x="2279" y="1038" font-size="22.9" text-anchor="start" font-weight="normal" fill="#000" stroke="#000" stroke-width="0.30" textLength="254" lengthAdjust="spacingAndGlyphs">FLOOR PLAN  -  LEVEL 2</text>
<text x="2280" y="1053" font-size="13.3" text-anchor="start" font-weight="normal" fill="#000" stroke="#000" stroke-width="0.45" textLength="138" lengthAdjust="spacingAndGlyphs">SCALE: 1/16" = 1'-0"</text>
<circle cx="2652" cy="1039" r="39.3" fill="none" stroke="#000" stroke-width="2.5"/>
<line x1="2608.4" y1="1039" x2="2694.5" y2="1039" stroke="#000" stroke-width="2.2"/>
<line x1="2652" y1="996" x2="2652" y2="1084" stroke="#000" stroke-width="2.6"/>
<rect x="2608.4" y="1035.7" width="43.6" height="5.3" fill="#000"/>
<text x="2593.5" y="1048" font-size="29.7" text-anchor="middle" font-weight="bold" fill="#000" stroke="#000" stroke-width="0.45" textLength="18" lengthAdjust="spacingAndGlyphs">N</text>
</svg></body></html>
